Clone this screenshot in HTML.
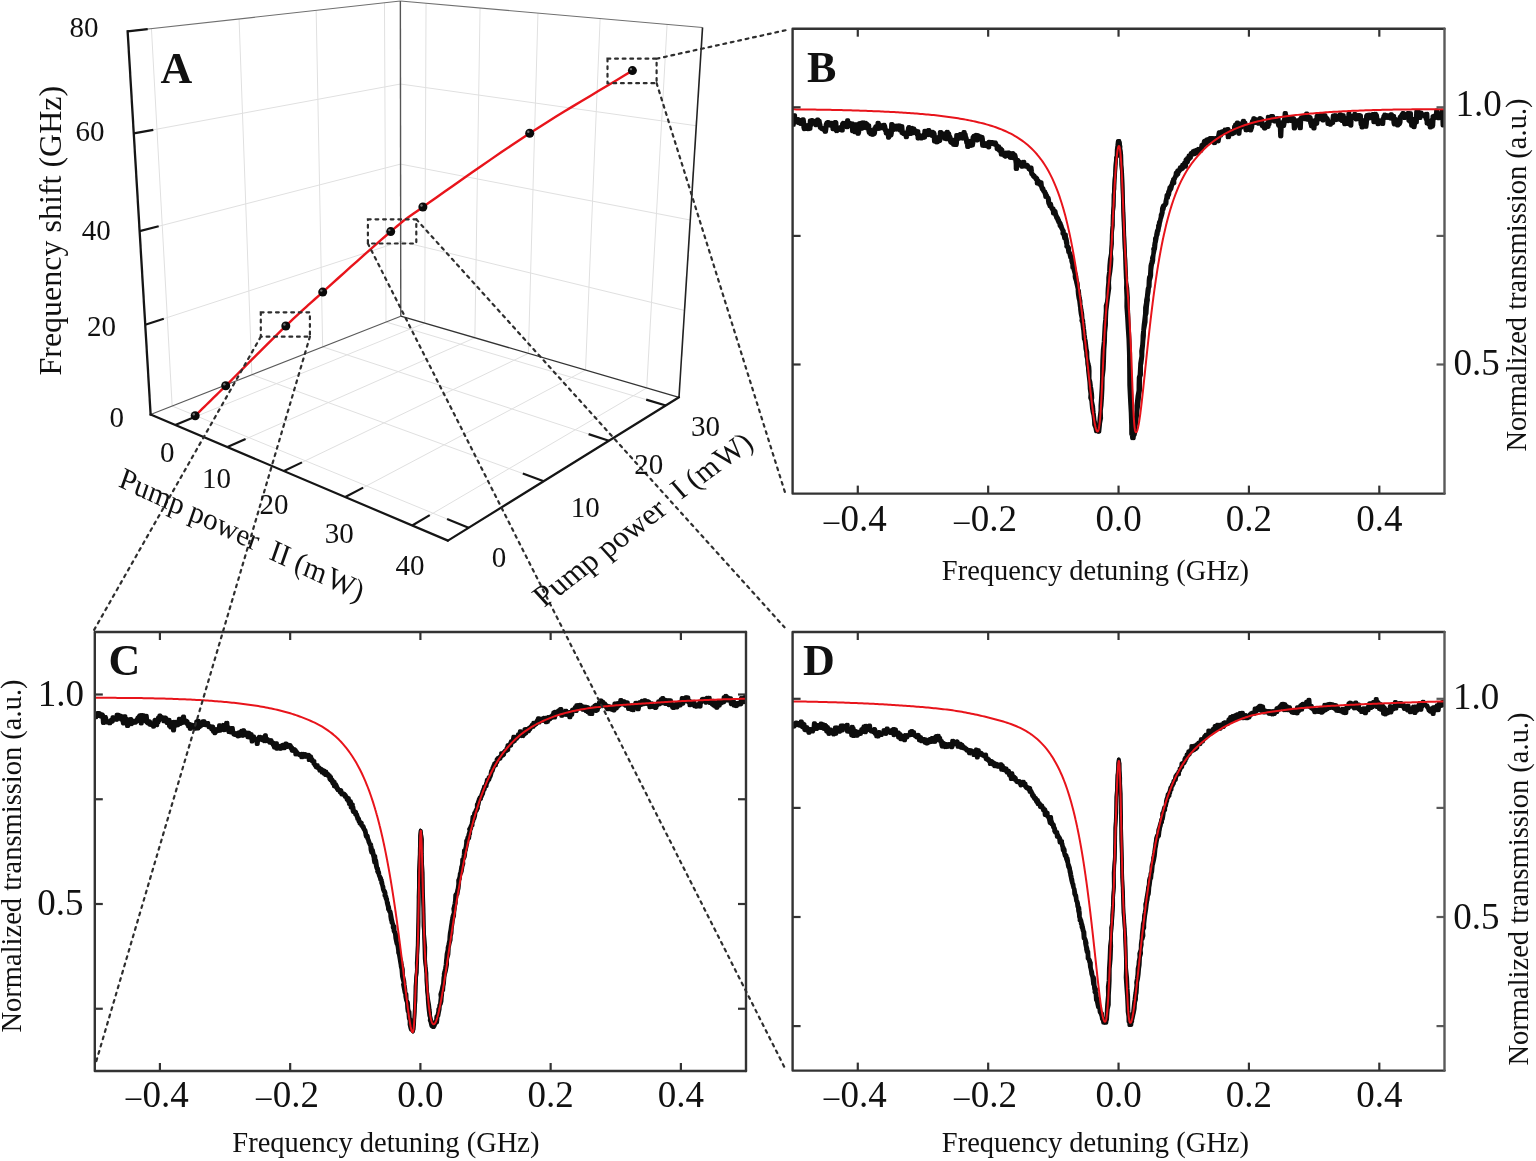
<!DOCTYPE html>
<html><head><meta charset="utf-8"><title>Figure</title>
<style>html,body{margin:0;padding:0;background:#fff;overflow:hidden;}svg{display:block;}</style>
</head><body>
<svg width="1536" height="1161" viewBox="0 0 1536 1161">
<rect width="1536" height="1161" fill="#fff"/>
<g font-family="'Liberation Serif', 'Times New Roman', serif" fill="#111">
<line x1="172.15" y1="406.03" x2="151.45" y2="28.67" stroke="#e0e0e0" stroke-width="1" />
<line x1="251.87" y1="374.69" x2="239.09" y2="18.95" stroke="#e0e0e0" stroke-width="1" />
<line x1="322.67" y1="346.85" x2="316.17" y2="10.4" stroke="#e0e0e0" stroke-width="1" />
<line x1="385.98" y1="321.97" x2="384.48" y2="2.82" stroke="#e0e0e0" stroke-width="1" />
<line x1="145.23" y1="324.75" x2="400.67" y2="241.43" stroke="#e0e0e0" stroke-width="1" />
<line x1="139.62" y1="231.14" x2="400.57" y2="164.1" stroke="#e0e0e0" stroke-width="1" />
<line x1="133.75" y1="133.43" x2="400.46" y2="84.03" stroke="#e0e0e0" stroke-width="1" />
<line x1="424.7" y1="323.13" x2="426.04" y2="3.3" stroke="#e0e0e0" stroke-width="1" />
<line x1="474.87" y1="337.77" x2="480.07" y2="8.02" stroke="#e0e0e0" stroke-width="1" />
<line x1="528.36" y1="353.37" x2="537.96" y2="13.07" stroke="#e0e0e0" stroke-width="1" />
<line x1="585.52" y1="370.03" x2="600.13" y2="18.49" stroke="#e0e0e0" stroke-width="1" />
<line x1="646.73" y1="387.88" x2="667.09" y2="24.33" stroke="#e0e0e0" stroke-width="1" />
<line x1="400.67" y1="241.43" x2="684.52" y2="310.45" stroke="#e0e0e0" stroke-width="1" />
<line x1="400.57" y1="164.1" x2="690.28" y2="220.02" stroke="#e0e0e0" stroke-width="1" />
<line x1="400.46" y1="84.03" x2="696.28" y2="125.76" stroke="#e0e0e0" stroke-width="1" />
<line x1="175.25" y1="424.94" x2="424.7" y2="323.13" stroke="#e0e0e0" stroke-width="1" />
<line x1="227.43" y1="447.08" x2="474.87" y2="337.77" stroke="#e0e0e0" stroke-width="1" />
<line x1="283.93" y1="471.05" x2="528.36" y2="353.37" stroke="#e0e0e0" stroke-width="1" />
<line x1="345.29" y1="497.09" x2="585.52" y2="370.03" stroke="#e0e0e0" stroke-width="1" />
<line x1="412.17" y1="525.46" x2="646.73" y2="387.88" stroke="#e0e0e0" stroke-width="1" />
<line x1="172.15" y1="406.03" x2="468.57" y2="527.82" stroke="#e0e0e0" stroke-width="1" />
<line x1="251.87" y1="374.69" x2="543.76" y2="481.18" stroke="#e0e0e0" stroke-width="1" />
<line x1="322.67" y1="346.85" x2="608.89" y2="440.78" stroke="#e0e0e0" stroke-width="1" />
<line x1="385.98" y1="321.97" x2="665.85" y2="405.45" stroke="#e0e0e0" stroke-width="1" />
<line x1="127.63" y1="31.32" x2="400.36" y2="1.06" stroke="#707070" stroke-width="1.1" />
<line x1="400.36" y1="1.06" x2="702.54" y2="27.43" stroke="#707070" stroke-width="1.1" />
<line x1="400.36" y1="1.06" x2="400.77" y2="316.15" stroke="#555" stroke-width="1.4" />
<line x1="150.62" y1="414.49" x2="400.77" y2="316.15" stroke="#5a5a5a" stroke-width="1.1" />
<line x1="400.77" y1="316.15" x2="678.99" y2="397.29" stroke="#333" stroke-width="1.3" />
<line x1="702.54" y1="27.43" x2="678.99" y2="397.29" stroke="#222" stroke-width="1.6" />
<line x1="127.63" y1="31.32" x2="150.62" y2="414.49" stroke="#151515" stroke-width="2.3" stroke-linecap="square"/>
<line x1="150.62" y1="414.49" x2="447.92" y2="540.63" stroke="#151515" stroke-width="2.2" stroke-linecap="round"/>
<line x1="447.92" y1="540.63" x2="678.99" y2="397.29" stroke="#151515" stroke-width="2.2" stroke-linecap="round"/>
<line x1="145.23" y1="324.75" x2="163.81" y2="318.69" stroke="#151515" stroke-width="2.2" />
<line x1="139.62" y1="231.14" x2="158.67" y2="226.25" stroke="#151515" stroke-width="2.2" />
<line x1="133.75" y1="133.43" x2="153.3" y2="129.81" stroke="#151515" stroke-width="2.2" />
<line x1="127.63" y1="31.32" x2="147.69" y2="29.09" stroke="#151515" stroke-width="2.2" />
<line x1="175.25" y1="424.94" x2="193.38" y2="417.54" stroke="#151515" stroke-width="2.2" />
<line x1="227.43" y1="447.08" x2="245.54" y2="439.08" stroke="#151515" stroke-width="2.2" />
<line x1="283.93" y1="471.05" x2="301.95" y2="462.37" stroke="#151515" stroke-width="2.2" />
<line x1="345.29" y1="497.09" x2="363.14" y2="487.64" stroke="#151515" stroke-width="2.2" />
<line x1="412.17" y1="525.46" x2="429.75" y2="515.15" stroke="#151515" stroke-width="2.2" />
<line x1="468.57" y1="527.82" x2="447.06" y2="518.99" stroke="#151515" stroke-width="2.2" />
<line x1="543.76" y1="481.18" x2="522.84" y2="473.55" stroke="#151515" stroke-width="2.2" />
<line x1="608.89" y1="440.78" x2="588.59" y2="434.12" stroke="#151515" stroke-width="2.2" />
<line x1="665.85" y1="405.45" x2="646.19" y2="399.58" stroke="#151515" stroke-width="2.2" />
<polyline points="195.2,415.7 197.65,413.3 199.94,411.06 202.13,408.93 204.27,406.84 206.41,404.76 208.6,402.62 210.89,400.38 213.34,397.98 215.99,395.38 218.9,392.51 222.12,389.34 225.7,385.8 229.75,381.78 234.27,377.26 239.19,372.35 244.4,367.12 249.82,361.69 255.35,356.15 260.9,350.59 266.39,345.12 271.71,339.83 276.78,334.81 281.51,330.17 285.8,326 289.59,322.35 292.93,319.16 295.93,316.33 298.67,313.77 301.24,311.39 303.76,309.09 306.3,306.8 308.96,304.41 311.83,301.84 315.02,298.99 318.61,295.77 322.7,292.1 327.39,287.88 332.65,283.14 338.35,278 344.39,272.57 350.64,266.96 356.99,261.27 363.33,255.61 369.53,250.09 375.49,244.82 381.08,239.91 386.19,235.47 390.7,231.6 394.4,228.45 397.27,225.99 399.52,224.08 401.32,222.56 402.88,221.29 404.38,220.12 406.01,218.91 407.97,217.51 410.44,215.76 413.63,213.53 417.72,210.65 422.9,207 429.2,202.54 436.43,197.43 444.45,191.77 453.13,185.66 462.32,179.22 471.89,172.53 481.71,165.71 491.64,158.87 501.54,152.1 511.27,145.52 520.71,139.21 529.7,133.3 538.4,127.69 547.05,122.21 555.66,116.85 564.24,111.59 572.78,106.4 581.31,101.26 589.82,96.17 598.32,91.09 606.82,86.02 615.33,80.92 623.85,75.79 632.4,70.6" fill="none" stroke="#e8141b" stroke-width="2.4" stroke-linejoin="round"/>
<circle cx="195.2" cy="415.7" r="4.5" fill="#0a0a0a"/>
<circle cx="193.8" cy="414.2" r="1.2" fill="#777"/>
<circle cx="225.7" cy="385.8" r="4.5" fill="#0a0a0a"/>
<circle cx="224.3" cy="384.3" r="1.2" fill="#777"/>
<circle cx="285.8" cy="326" r="4.5" fill="#0a0a0a"/>
<circle cx="284.4" cy="324.5" r="1.2" fill="#777"/>
<circle cx="322.7" cy="292.1" r="4.5" fill="#0a0a0a"/>
<circle cx="321.3" cy="290.6" r="1.2" fill="#777"/>
<circle cx="390.7" cy="231.6" r="4.5" fill="#0a0a0a"/>
<circle cx="389.3" cy="230.1" r="1.2" fill="#777"/>
<circle cx="422.9" cy="207" r="4.5" fill="#0a0a0a"/>
<circle cx="421.5" cy="205.5" r="1.2" fill="#777"/>
<circle cx="529.7" cy="133.3" r="4.5" fill="#0a0a0a"/>
<circle cx="528.3" cy="131.8" r="1.2" fill="#777"/>
<circle cx="632.4" cy="70.6" r="4.5" fill="#0a0a0a"/>
<circle cx="631" cy="69.1" r="1.2" fill="#777"/>
<rect x="260.8" y="312.3" width="49.1" height="24.4" fill="none" stroke="#2e2e2e" stroke-width="2.2" stroke-dasharray="2.8 4.8" stroke-linecap="round"/>
<rect x="367.9" y="219.3" width="48.4" height="24.2" fill="none" stroke="#2e2e2e" stroke-width="2.2" stroke-dasharray="2.8 4.8" stroke-linecap="round"/>
<rect x="607.5" y="58.7" width="49.1" height="24.5" fill="none" stroke="#2e2e2e" stroke-width="2.2" stroke-dasharray="2.8 4.8" stroke-linecap="round"/>
<clipPath id="clipB"><rect x="792.6" y="28.7" width="651.9" height="464.9"/></clipPath>
<g clip-path="url(#clipB)">
<polyline points="791.84,126 792.36,125.26 792.78,123.11 793.25,121.17 793.74,115.08 794.1,122.62 794.62,118.82 795.1,121.72 795.58,119.64 796,120.91 796.43,121.62 796.94,120.92 797.39,119.03 797.89,123.06 798.34,121.41 798.72,120.76 799.23,122.03 799.64,119.97 800.06,124.12 800.57,121.35 801.04,121.63 801.38,121.65 801.95,119.56 802.34,119.16 802.87,121.57 803.28,127.5 803.73,129.23 804.23,127.76 804.63,125.19 805.16,127.98 805.52,128.54 805.98,128.88 806.42,127.79 806.93,125.19 807.37,129.29 807.85,126.12 808.31,128.38 808.76,124.78 809.22,128.79 809.68,120.52 810.1,123.73 810.53,124.94 810.98,120.62 811.49,120.03 811.9,120.45 812.34,120.62 812.8,123.27 813.27,122.77 813.74,122.49 814.18,122.79 814.61,123.29 815.12,123.46 815.49,125.27 816,122.33 816.5,124.14 816.93,119.34 817.41,120.29 817.83,121.4 818.3,120.6 818.74,123.04 819.18,124.47 819.66,127.73 820.13,127.69 820.5,127.68 820.99,128.82 821.41,127.71 821.9,129.41 822.34,129.23 822.82,129.34 823.28,130.1 823.77,128.89 824.23,129.12 824.63,131.92 825.09,128.87 825.58,124.58 826,123.35 826.46,122.51 826.87,124.84 827.4,121.96 827.84,123.42 828.26,122.4 828.71,122.74 829.17,125.59 829.67,123.31 830.1,125.53 830.53,124.66 831.01,125.12 831.5,122.63 831.97,123.97 832.42,129.32 832.84,125.2 833.3,125.54 833.76,124.25 834.22,125.36 834.68,121.92 835.09,122.49 835.55,130.55 836.02,131.26 836.5,129.18 836.92,129.6 837.37,129.34 837.87,129.67 838.34,127.96 838.73,127.6 839.21,129.95 839.69,127.14 840.11,128.48 840.6,129.06 841,128.41 841.48,130.67 841.96,123.65 842.43,124.3 842.87,122.73 843.27,123.22 843.72,125.41 844.19,125.18 844.69,123.78 845.14,126.31 845.6,124.96 846.05,124.93 846.48,127.44 846.94,120.25 847.38,125.46 847.87,125.49 848.28,124.37 848.77,122.78 849.22,126.02 849.7,125.3 850.11,124.96 850.59,124.93 851.02,124.95 851.51,123.38 851.94,131.47 852.4,127.85 852.84,130.97 853.3,128.43 853.76,130.45 854.21,132.33 854.7,130.15 855.12,124.05 855.59,132.05 856.06,130.71 856.48,130.49 856.91,130.54 857.42,133.89 857.83,132.43 858.3,126.08 858.77,123.18 859.23,126.36 859.68,123.04 860.13,126.15 860.61,123.39 861.05,128.77 861.53,122.43 861.94,127.53 862.41,126.82 862.87,122.33 863.33,125.04 863.78,128 864.23,127.48 864.72,122.62 865.14,124.63 865.6,123.51 866.05,123.79 866.5,124.48 866.97,128.84 867.38,125.88 867.89,125.27 868.3,131.17 868.78,132.94 869.24,133 869.68,130.21 870.14,134.4 870.62,129.97 871.1,131.39 871.53,132.68 871.97,134.9 872.41,131.34 872.86,132.46 873.35,134.25 873.8,133.09 874.26,127.96 874.71,127.83 875.17,126.5 875.59,127.17 876.04,127.69 876.5,126.07 876.97,128.93 877.42,122.73 877.88,124.61 878.31,128.74 878.79,127 879.26,125.17 879.7,126.98 880.1,128.23 880.61,125.41 881.06,127.74 881.54,126.23 881.97,126.28 882.44,126.39 882.87,128.46 883.35,124.64 883.82,125.97 884.24,127.78 884.71,130.46 885.16,129.86 885.63,133.6 886.06,132.65 886.53,132.42 886.93,132.95 887.43,131.06 887.91,137.76 888.36,131.1 888.77,132.07 889.23,130.41 889.72,132.16 890.17,135.51 890.63,132.96 891.07,123.81 891.53,126.45 892.01,130.41 892.41,127.66 892.84,125.32 893.38,128.79 893.77,126.92 894.28,128.63 894.69,129.52 895.12,128.16 895.68,128.01 896.07,126.32 896.48,125.38 896.98,129.6 897.43,127.8 897.89,128.57 898.36,127.38 898.76,125.38 899.25,126.16 899.73,130.68 900.2,127.12 900.63,127.86 901.04,126.13 901.44,133.09 902.05,133.41 902.39,132.45 902.88,134.03 903.35,133.17 903.83,132.62 904.26,134.31 904.68,134.93 905.17,134.23 905.73,137.4 906.21,134.94 906.53,134.93 907.02,133.66 907.36,131.29 907.91,128 908.39,127.11 908.8,128.24 909.36,130.93 909.77,134.13 910.21,132.2 910.5,130.12 911.05,127.76 911.58,129.95 911.97,133.32 912.36,129.08 912.88,128.43 913.44,131.49 913.85,132.86 914.32,132.47 914.74,130.37 915.27,131.29 915.49,131.77 916.03,133.06 916.65,134.73 917.06,131.14 917.47,138.62 917.89,136.03 918.27,137.63 918.8,135.23 919.27,135.59 919.68,137.59 920.26,135.54 920.7,138.53 921.08,136.27 921.6,137.38 922,137.2 922.48,136.88 922.89,137.72 923.5,134.24 923.74,137.62 924.27,130.71 924.79,133.22 925.24,132.52 925.56,131.4 926.05,133.44 926.55,131.62 926.97,133 927.43,135.23 927.91,129.99 928.37,133.77 928.89,134.17 929.2,131.95 929.79,134.45 930.18,134.25 930.68,133.18 931.09,135.81 931.68,131.75 931.92,135.02 932.53,133.66 932.9,132.38 933.37,133.89 933.9,141.71 934.28,140.91 934.79,137.18 935.27,139.4 935.63,137.71 936.2,142.47 936.62,138.1 937.01,141.77 937.48,137.19 937.9,140.74 938.4,140.02 938.88,140.94 939.34,139.22 939.76,131.84 940.18,132.57 940.63,137.38 941.07,135.6 941.56,133.86 942.05,136.86 942.45,134.16 942.91,134.22 943.35,133.47 943.86,137.53 944.29,138.89 944.69,134.02 945.25,136.17 945.7,137.37 946.12,139.34 946.56,131.74 947.03,136.08 947.45,136.97 947.97,133.4 948.43,136.64 948.88,136.31 949.31,137.24 949.76,140.81 950.23,142.56 950.71,140.86 951.1,142.98 951.58,142.26 952.01,141.38 952.46,139.64 952.95,144.95 953.42,144.06 953.83,143.71 954.33,141.08 954.78,141.66 955.23,145.19 955.7,143.62 956.11,134.95 956.61,136.53 957.03,136.72 957.5,136.16 957.91,134.89 958.42,138.73 958.86,137.61 959.3,134.63 959.74,133.9 960.22,135.65 960.7,136.68 961.14,138.22 961.58,136.1 962.02,138.7 962.47,137.05 962.94,135.54 963.37,132.01 963.85,134.85 964.34,134.34 964.77,136.69 965.22,137.56 965.67,139.42 966.15,142.96 966.6,141.01 967.08,147.1 967.48,143.6 967.93,142.63 968.39,142.66 968.83,140.81 969.32,144.26 969.76,143.83 970.21,145.94 970.68,145.13 971.16,144.76 971.61,145.45 972.03,142.84 972.5,136.86 972.97,137.58 973.43,135.6 973.86,137.53 974.28,137.27 974.79,139.01 975.2,137.91 975.67,134.77 976.13,138.11 976.63,140.5 977.03,135.1 977.51,139.76 977.95,138.34 978.39,136.16 978.91,137.53 979.31,138.62 979.8,136.42 980.25,139.2 980.6,139.49 981.05,136.88 981.42,139.1 982.07,145.85 982.53,143.89 982.93,144.93 983.38,145.32 983.85,144.02 984.28,146.01 984.78,145.17 985.24,143.14 985.62,145.59 986.26,146.23 986.69,146.26 987.02,144.17 987.7,145.99 988.18,147.51 988.53,141.74 988.99,143.36 989.28,143.72 989.76,141.9 990.09,143.14 990.66,141.91 991.25,144.14 991.57,142.61 991.9,142.14 992.68,143.12 993.17,143.26 993.58,144.14 993.73,144.49 994.42,142.35 994.7,143.39 995.23,145.15 995.78,145.62 996.34,145.38 996.53,149.27 997.02,147.49 997.36,146.18 997.98,147.65 998.3,148.85 998.82,150.85 999.44,148.33 999.79,151.19 1000.27,151.5 1000.74,154.69 1001.27,149.7 1001.81,154.66 1001.91,152.74 1002.3,154.61 1003.05,153.34 1003.53,154.37 1004.08,156.06 1004.45,155.03 1005.04,156.74 1005.32,152.58 1005.62,152.46 1006.3,153.05 1006.5,152.96 1006.99,153.78 1007.58,156.15 1007.95,152.88 1008.55,152.46 1008.85,155.05 1009.57,157.73 1009.68,157.09 1010.34,157.75 1010.66,157.9 1011.33,155.32 1011.56,156.78 1012.17,153.02 1012.18,156.21 1012.91,158.21 1013.63,155.32 1013.92,154.82 1014.36,156.16 1014.91,158.6 1015.53,163.86 1015.6,169.04 1016.17,164.72 1016.58,160.48 1017.16,159.76 1017.46,163.57 1017.82,165.12 1018.28,161.49 1018.98,163.31 1019.38,163.66 1019.91,164.59 1020.08,164.59 1020.62,165.77 1021.11,166.79 1021.74,162.25 1022.14,163.5 1022.52,165.55 1022.87,161.62 1023.48,162.91 1023.85,164.41 1024.48,166.6 1025.05,165.37 1025.29,166.23 1025.58,164.67 1026.51,166.71 1026.73,164.99 1027.17,167.15 1027.56,167.18 1028.03,167.59 1028.47,169.33 1028.95,169.37 1029.14,167.66 1029.71,170.12 1030.26,167.31 1030.76,171.34 1031.22,174.17 1031.72,174.14 1031.79,174.68 1032.39,174.72 1032.89,176.31 1033.49,175.35 1033.88,177.41 1034.72,176.93 1034.76,177.45 1035.24,178.85 1035.46,179.36 1036.52,178.06 1036.66,183.5 1037.08,181.91 1037.44,180.46 1038.03,182.93 1038.4,182.36 1039.15,183.48 1039.23,184.93 1039.75,183.83 1040.19,182.19 1040.85,186.49 1041.26,187.75 1041.84,189.53 1042.21,188.25 1042.67,189.7 1043.03,191.35 1043.64,191.33 1044.02,192.26 1044.44,193.71 1044.54,193.02 1045.21,196.98 1045.62,194.78 1045.87,196.78 1046.9,197.18 1047.38,197.56 1047.77,199.91 1048.13,203.05 1048.75,204.43 1048.62,204.23 1049.62,203.84 1049.46,206.29 1050.33,204.38 1050.77,207.27 1051.3,208.51 1051.78,209.45 1052.25,208.28 1052.44,208.78 1052.9,213.48 1053.32,211.8 1053.96,211.39 1054.32,211.26 1054.54,213.73 1055.48,216.1 1055.53,215.69 1056.11,218.13 1056.52,218 1056.97,219.32 1057.69,220.98 1057.89,220.44 1058.2,222.32 1058.81,222.62 1059.19,223.44 1059.54,226.09 1060.48,225.51 1060.99,227.73 1060.92,227.91 1061.98,229.93 1062.49,230.65 1062.3,233.77 1063.12,233.85 1063.43,235.13 1064.11,238.23 1063.8,234.33 1064.98,238.91 1065.23,238.4 1065.86,242.89 1066.4,244.8 1066.18,246.46 1067.11,247.48 1067.58,247.67 1068.16,252.15 1068.73,252.06 1069.1,252.99 1069.24,253.63 1070.01,257.01 1070.15,257.67 1070.93,258.47 1071.18,260.97 1071.64,262.8 1072.16,263.49 1072.24,267.69 1072.97,267.12 1073.23,268.98 1074.15,272.58 1074.68,274.45 1074.54,276.5 1074.82,278.2 1075.82,281.06 1076.1,282.88 1076.47,284.31 1077.65,289.6 1077.49,290.53 1077.81,294.28 1078.43,298.3 1079.02,300.62 1079.77,306.67 1079.93,305.44 1080.03,309.4 1080.66,314.15 1081.65,318.84 1081.28,320.51 1082.13,322.65 1082.86,328.82 1083.11,330.05 1083.45,334.25 1083.75,338.83 1084.45,340.59 1084.99,344.25 1085.37,348.85 1086.02,351.9 1086.28,356.37 1086.99,359.15 1087.18,363.77 1087.81,367.02 1087.98,370.86 1088.92,378.7 1089.26,381.68 1089.58,386.5 1089.64,388.72 1090.37,393.98 1090.1,397.89 1091.15,400.58 1091.73,406.48 1091.95,408.77 1092.64,412.78 1093.21,414.62 1093.92,420.3 1093.97,422.77 1094.08,424.79 1094.37,425.51 1095.3,427.78 1095.97,431.28 1096.45,430.53 1096.71,431.33 1097.06,431.2 1097.47,430.93 1098.03,431.8 1098.54,425.1 1099.11,423.49 1099.46,418.15 1100.37,410.59 1100.38,405.54 1100.91,397.67 1101.5,388.28 1101.94,377.85 1102,369.29 1102.22,360.05 1102.75,349.47 1103.61,341.97 1104.12,332.64 1104.52,325.16 1105.08,319.17 1105.65,311.05 1105.62,305.72 1106.86,301.74 1107.34,296.95 1107.35,293.34 1107.58,288.32 1108.14,282.55 1108.2,277.58 1108.99,271.66 1109.25,265.64 1109.87,258.99 1110.97,253.09 1112.01,243.54 1111.75,234.65 1112.49,225.42 1112.77,215.02 1113.71,205.86 1114.04,194.73 1113.87,188.87 1114.45,180.07 1115.21,172.88 1115.45,166.11 1116.16,157.57 1116.53,156.57 1116.71,149.64 1117.35,145.99 1117.98,141.18 1118.31,142.29 1118.8,142.57 1119.31,140.88 1119.67,142.43 1120.46,146.33 1120.3,148.71 1121.17,154.46 1121.39,164.85 1122.07,173.74 1122.63,184.96 1123.04,200.43 1123.5,211.83 1123.98,224.89 1124.38,237.77 1124.64,248.61 1125.33,259.9 1125.85,269.74 1126.28,278.25 1125.89,287.7 1126.34,297.31 1126.25,306.73 1126.98,316.9 1127.59,327.98 1128.34,339.47 1128.84,353.15 1129.04,368.07 1129.18,385.08 1130.03,402.41 1130.61,412.63 1131.01,424.87 1131.11,434.13 1131.49,432.26 1132.05,438.42 1132.47,433.95 1133.3,435 1133.62,434.49 1134.49,431.88 1134.84,426.33 1135.15,422.46 1135.21,418.41 1135.98,416.38 1136.39,410.21 1136.4,405.75 1136.89,400.91 1137.47,395.8 1138.4,390.52 1138.46,384.6 1138.68,377.25 1139.48,374.87 1140.06,364.93 1140.08,363.55 1141.28,356.16 1141.1,351.17 1141.99,345.51 1142.35,340.44 1142.47,335.69 1143.07,330.42 1143.56,324.69 1143.93,321.99 1144.64,315.89 1144.93,313.44 1144.97,307.55 1145.85,302.78 1146.02,299.95 1146.69,297.01 1147.25,291.34 1147.62,288.37 1148.34,286.63 1148.54,280.58 1148.89,277.3 1149.85,275.17 1150.09,270.5 1150.35,266.04 1150.84,263.86 1151.2,263.11 1151.76,260.04 1151.98,257.68 1153.05,254.74 1153.39,249.66 1153.06,249.13 1153.8,247.12 1154.46,242.64 1154.78,242.02 1154.91,238.25 1155.99,236.58 1156.03,234.55 1156.9,230.34 1157.3,231.47 1157.99,226.85 1157.92,225.67 1158.96,223.26 1158.75,222.4 1159.8,220.5 1160.16,218.21 1160.48,217.98 1160.61,214.97 1161.64,212.49 1161.92,208.03 1161.85,209.32 1162.11,207.71 1162.98,205.49 1163.39,205.06 1164.17,205.23 1164.51,204.31 1165,203.87 1165.28,201.64 1166.04,198.18 1166.18,197.97 1166.45,194.82 1166.72,195.98 1167.77,194.32 1168,192 1168.23,191.41 1168.85,190.1 1169.41,187.14 1170.08,188.32 1169.98,189.33 1170.77,185.58 1171.45,184.81 1171.85,182.73 1172.37,181.12 1173.05,183.17 1172.96,179.16 1173.47,179.13 1174.24,177.6 1174.8,177.56 1175.01,175.91 1175.34,175.83 1175.65,172.73 1176.43,173.32 1176.83,174.31 1177.03,170.58 1177.59,170.26 1177.96,172.03 1178.69,170.11 1179.02,170.23 1179.72,167.44 1180.19,169.77 1180.47,167.36 1181.07,166.59 1181.5,168.27 1182.03,168.66 1182.15,164.68 1182.79,164.61 1183.45,163.98 1183.71,164.78 1183.99,162.69 1184.55,166.81 1185.33,164.15 1185.36,160 1185.78,159.27 1186.47,162.48 1186.73,161.88 1187,157.8 1187.45,158.42 1188.15,159.15 1188.51,155.45 1189.28,155.79 1189.42,157.91 1189.75,154.75 1190.3,154.61 1190.69,152.92 1191.51,153.23 1191.67,154.68 1192.47,152.22 1192.78,151.12 1193.46,151.57 1193.59,154.32 1194.19,151.76 1194.21,150.33 1194.9,150.86 1195.32,153.55 1196.05,152.71 1196.32,149.71 1196.89,152.15 1197.14,151.07 1197.52,152.12 1198.15,148.76 1198.8,151.66 1199.06,149.19 1199.74,149.39 1199.93,150.97 1200.38,148.09 1200.84,148.96 1201.31,144.87 1201.7,146.25 1202.22,145.92 1202.6,145.58 1203.02,144.69 1203.82,141.1 1204.19,140.67 1204.49,142.96 1204.9,141.02 1205.23,143.7 1205.97,141.95 1206.26,139.41 1207.04,139.62 1207.04,139.18 1207.75,139.22 1208.32,139.88 1208.55,140.85 1209.32,141.49 1209.65,137.91 1210.11,138.2 1210.34,140.95 1211.02,139.72 1211.47,139.46 1211.82,137.97 1212.47,139.64 1212.75,141.07 1212.91,139.74 1213.66,143.22 1214.28,140.23 1214.46,140.26 1215.07,138.02 1215.37,137.86 1215.9,138.17 1216.05,137.99 1216.61,138.34 1217.23,141.49 1217.65,138.57 1217.97,135.79 1218.7,132.09 1219.12,134.16 1219.44,133.97 1219.77,135.72 1220.51,132.83 1220.85,133.41 1221.43,131.49 1221.93,133.11 1222.23,132.85 1222.69,131.11 1223.25,131.17 1223.6,131.56 1223.88,132.26 1224.6,129.47 1225.02,132.3 1225.39,130.27 1225.95,133.4 1226.31,132.54 1226.77,129.54 1227.34,129 1227.58,137.45 1228.01,134.52 1228.61,134.26 1228.95,132.49 1229.62,132.87 1229.92,134.13 1230.28,133.69 1230.86,131.32 1231.15,134.34 1231.93,132.75 1232.26,130.67 1232.78,133.51 1233.22,131.57 1233.65,132.9 1233.99,126.38 1234.6,127.64 1234.97,124.4 1235.38,127.34 1235.74,128.7 1236.46,126.71 1236.79,122.35 1237.23,126.06 1237.57,127.15 1238.25,133.88 1238.62,127.61 1239.16,123.9 1239.54,127.92 1239.93,127.85 1240.49,123.29 1240.79,123.79 1241.25,124.01 1241.81,125.1 1242.32,123.4 1242.81,120.61 1243.17,125.36 1243.63,123.89 1244.11,122.55 1244.53,125.57 1244.97,128.15 1245.49,130.43 1245.88,129.36 1246.35,127.89 1246.9,130.2 1247.29,129.51 1247.7,127.31 1248.23,125.43 1248.63,127.06 1249.14,128.85 1249.5,127.38 1249.96,130.55 1250.38,128.03 1250.98,127.84 1251.45,123.09 1251.89,120.89 1252.3,122.04 1252.75,121.06 1253.18,118.2 1253.68,119.04 1254.09,123.09 1254.5,121.06 1255.06,121.5 1255.51,119.18 1255.95,120.56 1256.37,122.75 1256.81,121.53 1257.29,120.43 1257.75,123.75 1258.14,121.04 1258.63,120.48 1259.05,122.89 1259.61,118.02 1259.95,121.75 1260.41,118.9 1260.88,119.37 1261.38,124.86 1261.79,126.17 1262.36,126.09 1262.77,126.37 1263.1,126.17 1263.66,128.14 1264.12,128.59 1264.51,126.89 1265.01,126.93 1265.47,124.97 1265.9,123.7 1266.38,126.54 1266.85,125.56 1267.27,126.93 1267.74,116.65 1268.16,124.3 1268.68,117.49 1269.09,119.68 1269.6,121.27 1270.08,117.14 1270.52,118.52 1270.92,115.95 1271.4,116.92 1271.83,116 1272.31,119.49 1272.73,119.78 1273.18,118.68 1273.66,121.38 1274.1,121.56 1274.6,119.1 1275.04,118.7 1275.49,118.57 1275.93,118.22 1276.39,121.26 1276.86,119.36 1277.3,118.33 1277.75,124.48 1278.24,125.82 1278.67,124.15 1279.11,125.38 1279.57,124.75 1280.05,136.5 1280.48,126.82 1280.93,122.27 1281.41,124.47 1281.87,125.99 1282.32,123.93 1282.75,126.14 1283.22,124.14 1283.66,119.6 1284.13,118.42 1284.56,112.89 1285.03,119.42 1285.5,115.87 1285.95,116.83 1286.37,116.63 1286.86,121.4 1287.31,118.94 1287.76,119.04 1288.22,118.67 1288.67,117.43 1289.14,117.01 1289.58,119.83 1290.02,117.64 1290.48,121.1 1290.96,118.62 1291.41,118.42 1291.86,117.86 1292.3,118.1 1292.77,118.28 1293.23,120.92 1293.68,128.6 1294.14,122.38 1294.6,124.88 1295.05,125.67 1295.5,122.8 1295.96,123.26 1296.39,123.57 1296.86,120.09 1297.32,125.51 1297.79,124.26 1298.23,124.17 1298.69,124.47 1299.14,124.75 1299.58,128.41 1300.05,118.36 1300.5,119.51 1300.95,117.09 1301.4,118.63 1301.87,117.43 1302.31,117.71 1302.78,116.37 1303.22,116.51 1303.69,118.75 1304.13,119.26 1304.6,118.74 1305.03,116.72 1305.52,118.46 1305.96,113.4 1306.44,119.54 1306.85,117.8 1307.3,118.33 1307.79,119.9 1308.25,117.08 1308.67,119.51 1309.15,117.03 1309.61,118.75 1310.07,123.2 1310.51,124.43 1310.94,126.42 1311.39,122.7 1311.91,122.75 1312.33,123.22 1312.8,124.3 1313.23,128.57 1313.69,122.71 1314.14,120.13 1314.59,122.54 1315.05,120.89 1315.49,122.67 1315.96,123.66 1316.44,115.85 1316.88,116.31 1317.32,114.21 1317.81,117.78 1318.26,116.13 1318.7,119.33 1319.13,119.25 1319.63,115.86 1320.08,116.72 1320.51,117.44 1320.99,118.66 1321.41,114.37 1321.88,117.16 1322.33,120.55 1322.79,117.1 1323.24,117.62 1323.72,117.22 1324.15,115.1 1324.62,118.85 1325.07,117.64 1325.52,117.43 1325.96,118.41 1326.43,118.49 1326.91,119.9 1327.35,124.07 1327.78,122.18 1328.25,123.47 1328.69,121.92 1329.15,121.63 1329.61,124.82 1330.05,123.12 1330.53,122.62 1330.99,122.6 1331.44,123.23 1331.88,123.05 1332.35,118.89 1332.79,115.34 1333.27,116.45 1333.74,118.17 1334.13,119.24 1334.62,115.17 1335.08,120.23 1335.53,116.96 1335.98,117.65 1336.42,115.83 1336.89,115.69 1337.34,119.28 1337.8,116.35 1338.26,116.54 1338.71,118.75 1339.19,119.74 1339.61,114.03 1340.07,116.34 1340.52,116.64 1340.99,119.85 1341.46,120.99 1341.9,116.53 1342.34,115.16 1342.79,118.13 1343.27,118.62 1343.71,122.23 1344.18,124.31 1344.62,121.54 1345.08,118.03 1345.54,120.32 1345.98,123.13 1346.46,124.13 1346.89,118.73 1347.36,119.53 1347.82,122.67 1348.29,113.51 1348.73,123.7 1349.18,124.53 1349.63,117.4 1350.09,125.73 1350.54,116.08 1351.01,118.93 1351.44,116.9 1351.91,115.97 1352.39,116.6 1352.81,118.04 1353.26,116.7 1353.72,116.43 1354.18,113.78 1354.65,117.2 1355.09,116.39 1355.56,119.59 1355.99,116.29 1356.46,116.15 1356.91,115.18 1357.36,117.58 1357.82,115.92 1358.27,115.02 1358.73,119.11 1359.17,119.42 1359.63,115.44 1360.1,120.72 1360.55,124.55 1361,121.05 1361.48,127.56 1361.92,122.28 1362.37,124.24 1362.82,120.2 1363.28,122.44 1363.74,124.45 1364.19,123.28 1364.65,121.53 1365.1,126.87 1365.56,123.8 1366,115.72 1366.46,115.04 1366.93,115.63 1367.38,118.52 1367.83,114.72 1368.29,116.15 1368.74,114.62 1369.19,118.33 1369.65,115.78 1370.11,117.61 1370.56,117.07 1371.01,115.01 1371.46,117.3 1371.92,117.72 1372.37,113.97 1372.83,117.29 1373.29,122.41 1373.74,115.48 1374.19,117.16 1374.65,113.6 1375.11,116.82 1375.56,114.93 1376.02,117.37 1376.47,122.31 1376.93,120.27 1377.38,124.38 1377.84,122 1378.3,120.56 1378.75,122.51 1379.2,120.64 1379.66,123.1 1380.11,122.27 1380.56,122.66 1381.02,123.59 1381.48,120.07 1381.93,124.14 1382.39,118.75 1382.84,118.83 1383.29,116.25 1383.75,115.44 1384.2,114.58 1384.66,116.91 1385.11,115.62 1385.57,115.59 1386.03,117.78 1386.48,115.12 1386.93,115.47 1387.39,116.68 1387.85,117.85 1388.3,115.62 1388.75,116.18 1389.21,115.98 1389.67,117.24 1390.12,118.6 1390.57,114.19 1391.03,115.65 1391.48,115.8 1391.94,116.96 1392.39,118.61 1392.85,115.85 1393.3,122.77 1393.76,124.44 1394.21,120.12 1394.67,120.98 1395.12,119.07 1395.58,122.36 1396.03,122.79 1396.49,121.43 1396.94,125.56 1397.4,121.09 1397.85,122 1398.31,124.35 1398.76,123.77 1399.22,122.34 1399.67,116.58 1400.13,117.39 1400.58,115.88 1401.04,117.08 1401.49,114.23 1401.95,116.03 1402.4,112.91 1402.86,114.28 1403.31,113.82 1403.77,118.18 1404.22,115.06 1404.68,116.45 1405.13,114.22 1405.59,115.54 1406.04,115.4 1406.49,114.35 1406.95,115.91 1407.41,112.89 1407.86,117.05 1408.32,120.75 1408.77,114.42 1409.22,115.97 1409.68,113.08 1410.13,122.3 1410.59,119.18 1411.05,125.95 1411.5,121.44 1411.96,118.97 1412.41,119.97 1412.87,119.44 1413.32,127.31 1413.78,123.87 1414.23,121.59 1414.69,120.17 1415.14,120.79 1415.6,122.52 1416.05,111.47 1416.51,116.96 1416.95,116.63 1417.42,111.42 1417.88,118.05 1418.32,112.91 1418.77,115.5 1419.23,118.04 1419.68,112.91 1420.14,112.53 1420.6,113.86 1421.05,113.92 1421.51,115.65 1421.97,114.94 1422.42,115 1422.87,115.03 1423.33,115.58 1423.78,114.36 1424.24,116.52 1424.69,115.92 1425.15,114.91 1425.6,119.26 1426.06,113.63 1426.51,123.67 1426.97,120.98 1427.42,123 1427.88,123.3 1428.33,123.93 1428.79,124.95 1429.25,120.84 1429.7,127.59 1430.14,123.13 1430.61,120.92 1431.06,119.94 1431.52,126.69 1431.97,125.43 1432.43,116.06 1432.89,117.49 1433.34,118.51 1433.8,116.3 1434.24,115.36 1434.7,116.08 1435.16,117.68 1435.62,116.2 1436.06,110.46 1436.52,117.56 1436.98,113.05 1437.43,114.83 1437.88,118.46 1438.33,116.65 1438.8,116.65 1439.24,116.53 1439.71,118.12 1440.16,116.16 1440.61,112.71 1441.07,116.71 1441.51,110.7 1441.98,112.56 1442.43,125.49 1442.89,124.51 1443.35,121.79 1443.8,122.5" fill="none" stroke="#0d0d0d" stroke-width="3.8" stroke-linejoin="round"/>
<polyline points="793.32,126 793.73,125.26 794.16,123.11 794.62,121.17 795.15,115.08 795.54,122.62 796.02,118.82 796.5,121.72 796.93,119.64 797.36,120.91 797.78,121.62 798.34,120.92 798.74,119.03 799.16,123.06 799.65,121.41 800.13,120.76 800.51,122.03 801.04,119.97 801.49,124.12 801.96,121.35 802.4,121.63 802.82,121.65 803.25,119.56 803.76,119.16 804.2,121.57 804.72,127.5 805.12,129.23 805.6,127.76 806.04,125.19 806.44,127.98 806.97,128.54 807.39,128.88 807.81,127.79 808.32,125.19 808.81,129.29 809.22,126.12 809.67,128.38 810.11,124.78 810.57,128.79 811.08,120.52 811.5,123.73 811.96,124.94 812.42,120.62 812.77,120.03 813.32,120.45 813.79,120.62 814.23,123.27 814.64,122.77 815.11,122.49 815.61,122.79 816.06,123.29 816.51,123.46 816.92,125.27 817.42,122.33 817.91,124.14 818.32,119.34 818.81,120.29 819.26,121.4 819.71,120.6 820.12,123.04 820.58,124.47 821.03,127.73 821.54,127.69 822,127.68 822.38,128.82 822.83,127.71 823.33,129.41 823.82,129.23 824.24,129.34 824.71,130.1 825.16,128.89 825.61,129.12 826.05,131.92 826.52,128.87 826.98,124.58 827.42,123.35 827.92,122.51 828.3,124.84 828.77,121.96 829.21,123.42 829.72,122.4 830.18,122.74 830.58,125.59 831.06,123.31 831.5,125.53 831.93,124.66 832.4,125.12 832.89,122.63 833.35,123.97 833.77,129.32 834.24,125.2 834.72,125.54 835.19,124.25 835.62,125.36 836.04,121.92 836.48,122.49 836.97,130.55 837.42,131.26 837.87,129.18 838.32,129.6 838.78,129.34 839.25,129.67 839.72,127.96 840.14,127.6 840.66,129.95 841.1,127.14 841.51,128.48 841.98,129.06 842.47,128.41 842.86,130.67 843.33,123.65 843.78,124.3 844.23,122.73 844.72,123.22 845.16,125.41 845.62,125.18 846.07,123.78 846.52,126.31 847.01,124.96 847.43,124.93 847.87,127.44 848.32,120.25 848.79,125.46 849.26,125.49 849.71,124.37 850.17,122.78 850.61,126.02 851.08,125.3 851.54,124.96 851.96,124.93 852.45,124.95 852.9,123.38 853.34,131.47 853.82,127.85 854.26,130.97 854.7,128.43 855.19,130.45 855.66,132.33 856.06,130.15 856.53,124.05 857,132.05 857.45,130.71 857.92,130.49 858.38,130.54 858.78,133.89 859.27,132.43 859.69,126.08 860.16,123.18 860.61,126.36 861.09,123.04 861.51,126.15 861.99,123.39 862.42,128.77 862.94,122.43 863.35,127.53 863.81,126.82 864.25,122.33 864.71,125.04 865.2,128 865.64,127.48 866.07,122.62 866.53,124.63 866.99,123.51 867.48,123.79 867.9,124.48 868.37,128.84 868.83,125.88 869.31,125.27 869.74,131.17 870.16,132.94 870.62,133 871.12,130.21 871.55,134.4 871.97,129.97 872.45,131.39 872.9,132.68 873.36,134.9 873.83,131.34 874.29,132.46 874.75,134.25 875.15,133.09 875.65,127.96 876.09,127.83 876.53,126.5 877.02,127.17 877.44,127.69 877.89,126.07 878.4,128.93 878.83,122.73 879.3,124.61 879.76,128.74 880.16,127 880.67,125.17 881.1,126.98 881.57,128.23 882.03,125.41 882.48,127.74 882.91,126.23 883.37,126.28 883.83,126.39 884.31,128.46 884.69,124.64 885.23,125.97 885.63,127.78 886.15,130.46 886.57,129.86 887.06,133.6 887.46,132.65 887.97,132.42 888.39,132.95 888.84,131.06 889.3,137.76 889.68,131.1 890.16,132.07 890.61,130.41 891.11,132.16 891.56,135.51 892.04,132.96 892.48,123.81 892.97,126.45 893.36,130.41 893.85,127.66 894.28,125.32 894.71,128.79 895.14,126.92 895.65,128.63 896.08,129.52 896.55,128.16 896.99,128.01 897.43,126.32 898.04,125.38 898.39,129.6 898.79,127.8 899.29,128.57 899.75,127.38 900.14,125.38 900.71,126.16 901.08,130.68 901.59,127.12 902,127.86 902.44,126.13 903.08,133.09 903.36,133.41 903.77,132.45 904.27,134.03 904.71,133.17 905.26,132.62 905.68,134.31 906.06,134.93 906.66,134.23 907.02,137.4 907.42,134.94 907.99,134.93 908.43,133.66 908.8,131.29 909.24,128 909.75,127.11 910.18,128.24 910.69,130.93 911.14,134.13 911.51,132.2 911.97,130.12 912.47,127.76 913.01,129.95 913.36,133.32 913.88,129.08 914.27,128.43 914.78,131.49 915.19,132.86 915.69,132.47 916.08,130.37 916.54,131.29 917.14,131.77 917.54,133.06 917.88,134.73 918.46,131.14 918.85,138.62 919.38,136.03 919.69,137.63 920.21,135.23 920.65,135.59 921.09,137.59 921.52,135.54 922.14,138.53 922.49,136.27 922.93,137.38 923.31,137.2 923.92,136.88 924.37,137.72 924.76,134.24 925.15,137.62 925.71,130.71 926.13,133.22 926.51,132.52 927.16,131.4 927.54,133.44 927.9,131.62 928.37,133 928.91,135.23 929.38,129.99 929.81,133.77 930.26,134.17 930.66,131.95 931.25,134.45 931.58,134.25 932.06,133.18 932.52,135.81 932.95,131.75 933.45,135.02 933.95,133.66 934.21,132.38 934.77,133.89 935.3,141.71 935.76,140.91 936.12,137.18 936.63,139.4 937.06,137.71 937.52,142.47 937.94,138.1 938.47,141.77 938.93,137.19 939.4,140.74 939.8,140.02 940.25,140.94 940.74,139.22 941.3,131.84 941.59,132.57 942.06,137.38 942.59,135.6 942.92,133.86 943.32,136.86 943.92,134.16 944.39,134.22 944.84,133.47 945.28,137.53 945.74,138.89 946.13,134.02 946.65,136.17 947.03,137.37 947.46,139.34 947.97,131.74 948.39,136.08 948.85,136.97 949.32,133.4 949.78,136.64 950.25,136.31 950.67,137.24 951.14,140.81 951.61,142.56 952.07,140.86 952.54,142.98 953,142.26 953.44,141.38 953.9,139.64 954.36,144.95 954.8,144.06 955.26,143.71 955.69,141.08 956.17,141.66 956.64,145.19 957.06,143.62 957.55,134.95 957.97,136.53 958.46,136.72 958.93,136.16 959.35,134.89 959.79,138.73 960.27,137.61 960.7,134.63 961.15,133.9 961.64,135.65 962.04,136.68 962.55,138.22 962.97,136.1 963.46,138.7 963.88,137.05 964.39,135.54 964.79,132.01 965.21,134.85 965.78,134.34 966.17,136.69 966.62,137.56 967.08,139.42 967.53,142.96 968,141.01 968.43,147.1 968.95,143.6 969.34,142.63 969.82,142.66 970.3,140.81 970.71,144.26 971.2,143.83 971.61,145.94 972.06,145.13 972.52,144.76 973.02,145.45 973.48,142.84 973.88,136.86 974.39,137.58 974.79,135.6 975.27,137.53 975.75,137.27 976.11,139.01 976.65,137.91 977.08,134.77 977.49,138.11 978.02,140.5 978.46,135.1 978.92,139.76 979.35,138.34 979.79,136.16 980.22,137.53 980.72,138.62 981.13,136.42 981.61,139.2 982.11,139.49 982.59,136.88 983.03,139.1 983.47,145.85 983.89,143.89 984.43,144.93 984.9,145.32 985.24,144.02 985.7,146.01 986.11,145.17 986.62,143.14 987.06,145.59 987.71,146.23 988.12,146.26 988.34,144.17 988.98,145.99 989.35,147.51 989.67,141.74 990.3,143.36 990.67,143.72 991.22,141.9 991.69,143.14 992.04,141.91 992.7,144.14 993.02,142.61 993.38,142.14 993.75,143.12 994.6,143.26 994.75,144.14 995.29,144.49 995.77,142.35 996.29,143.39 996.49,145.15 996.81,145.62 997.57,145.38 997.82,149.27 998.43,147.49 999.19,146.18 999.29,147.65 999.92,148.85 1000.13,150.85 1001.15,148.33 1001.14,151.19 1001.7,151.5 1002.08,154.69 1002.47,149.7 1003.16,154.66 1003.43,152.74 1003.79,154.61 1004.3,153.34 1004.79,154.37 1005.3,156.06 1005.76,155.03 1006.08,156.74 1006.58,152.58 1007.38,152.46 1007.52,153.05 1008.19,152.96 1008.41,153.78 1008.97,156.15 1009.3,152.88 1009.59,152.46 1010.22,155.05 1010.85,157.73 1011.35,157.09 1011.78,157.75 1012.04,157.9 1012.52,155.32 1012.88,156.78 1013.5,153.02 1014.02,156.21 1014.4,158.21 1014.75,155.32 1015.33,154.82 1015.75,156.16 1016.25,158.6 1016.63,163.86 1017.13,169.04 1017.48,164.72 1017.92,160.48 1018.19,159.76 1018.95,163.57 1019.4,165.12 1019.73,161.49 1020.47,163.31 1020.89,163.66 1021.4,164.59 1021.65,164.59 1022.08,165.77 1022.61,166.79 1023.14,162.25 1023.67,163.5 1023.82,165.55 1024.37,161.62 1024.59,162.91 1025.27,164.41 1025.87,166.6 1026.3,165.37 1026.98,166.23 1027.21,164.67 1027.52,166.71 1027.92,164.99 1028.52,167.15 1029.18,167.18 1029.21,167.59 1029.71,169.33 1030.32,169.37 1030.71,167.66 1031.36,170.12 1031.59,167.31 1032.13,171.34 1032.58,174.17 1033.07,174.14 1033.72,174.68 1033.72,174.72 1034.1,176.31 1034.59,175.35 1035.26,177.41 1035.78,176.93 1036.31,177.45 1036.73,178.85 1037.15,179.36 1037.26,178.06 1037.92,183.5 1038.57,181.91 1038.72,180.46 1039.31,182.93 1039.78,182.36 1040.4,183.48 1040.6,184.93 1040.91,183.83 1041.61,182.19 1042.08,186.49 1042.74,187.75 1042.93,189.53 1043.45,188.25 1043.85,189.7 1044.31,191.35 1045.25,191.33 1044.84,192.26 1045.88,193.71 1046.08,193.02 1046.69,196.98 1046.85,194.78 1047.63,196.78 1047.89,197.18 1048.6,197.56 1049.21,199.91 1049.17,203.05 1049.56,204.43 1050.53,204.23 1051.14,203.84 1051.23,206.29 1051.29,204.38 1051.84,207.27 1052.77,208.51 1053.38,209.45 1053.48,208.28 1053.7,208.78 1054.63,213.48 1054.61,211.8 1055.19,211.39 1055.65,211.26 1056.11,213.73 1056.79,216.1 1056.95,215.69 1057.63,218.13 1058.27,218 1058.72,219.32 1059.23,220.98 1059.34,220.44 1059.53,222.32 1060.36,222.62 1060.83,223.44 1061.29,226.09 1061.61,225.51 1062.24,227.73 1062.39,227.91 1063.22,229.93 1063.87,230.65 1063.99,233.77 1064.43,233.85 1065.01,235.13 1065.45,238.23 1065.91,234.33 1066.28,238.91 1066.64,238.4 1067.48,242.89 1067.36,244.8 1068.3,246.46 1068.34,247.48 1069.07,247.67 1069.22,252.15 1069.55,252.06 1070.11,252.99 1070.58,253.63 1071.53,257.01 1071.57,257.67 1072,258.47 1072.4,260.97 1073.06,262.8 1073.51,263.49 1074.1,267.69 1074.27,267.12 1074.62,268.98 1075.32,272.58 1075.98,274.45 1076.41,276.5 1076.48,278.2 1077.04,281.06 1077.69,282.88 1077.93,284.31 1078.2,289.6 1079.02,290.53 1079.35,294.28 1079.95,298.3 1080.54,300.62 1080.68,306.67 1080.99,305.44 1081.53,309.4 1082.34,314.15 1082.64,318.84 1083.25,320.51 1083.44,322.65 1084.15,328.82 1084.32,330.05 1084.74,334.25 1085.34,338.83 1085.77,340.59 1086.2,344.25 1086.72,348.85 1087.39,351.9 1087.46,356.37 1087.66,359.15 1088.63,363.77 1089.43,367.02 1089.69,370.86 1089.61,378.7 1090.46,381.68 1091.07,386.5 1091.47,388.72 1092.15,393.98 1092.37,397.89 1091.97,400.58 1093.22,406.48 1093.36,408.77 1093.78,412.78 1094.05,414.62 1094.61,420.3 1095.27,422.77 1096.06,424.79 1096.52,425.51 1096.86,427.78 1097.43,431.28 1097.56,430.53 1097.98,431.33 1098.8,431.2 1099.09,430.93 1099.37,431.8 1100.08,425.1 1100.18,423.49 1101.19,418.15 1100.95,410.59 1101.59,405.54 1102.13,397.67 1102.59,388.28 1102.78,377.85 1103.76,369.29 1104.15,360.05 1104.47,349.47 1105.05,341.97 1105.25,332.64 1106.06,325.16 1106.14,319.17 1106.47,311.05 1107.14,305.72 1107.59,301.74 1108.18,296.95 1108.71,293.34 1109.41,288.32 1109.14,282.55 1109.53,277.58 1110.44,271.66 1111.14,265.64 1111.53,258.99 1111.01,253.09 1111.44,243.54 1111.88,234.65 1112.84,225.42 1112.81,215.02 1113.4,205.86 1113.47,194.73 1114.45,188.87 1114.65,180.07 1115.07,172.88 1115.52,166.11 1116.02,157.57 1117.15,156.57 1117.1,149.64 1117.57,145.99 1117.7,141.18 1118.03,142.29 1118.5,142.57 1119.13,140.88 1119.73,142.43 1120.2,146.33 1120.25,148.71 1121.21,154.46 1121.37,164.85 1122.24,173.74 1122.36,184.96 1122.89,200.43 1123.15,211.83 1123.62,224.89 1124.25,237.77 1124.84,248.61 1125.33,259.9 1125.43,269.74 1125.76,278.25 1127.32,287.7 1127.98,297.31 1128.01,306.73 1128.48,316.9 1128.93,327.98 1129.57,339.47 1130.18,353.15 1130.17,368.07 1130.96,385.08 1131.67,402.41 1131.91,412.63 1132.04,424.87 1132.34,434.13 1133.14,432.26 1133.79,438.42 1134.17,433.95 1134.79,435 1134.87,434.49 1135.42,431.88 1135.68,426.33 1136.45,422.46 1136.73,418.41 1137.05,416.38 1137.59,410.21 1138.27,405.75 1138.8,400.91 1139.24,395.8 1140.06,390.52 1140.14,384.6 1140.2,377.25 1141.13,374.87 1141.13,364.93 1141.52,363.55 1142.41,356.16 1142.56,351.17 1143.15,345.51 1143.49,340.44 1144.02,335.69 1144.11,330.42 1145.18,324.69 1145.71,321.99 1145.83,315.89 1146.63,313.44 1146.99,307.55 1147.53,302.78 1148.05,299.95 1147.87,297.01 1148.8,291.34 1149.03,288.37 1149.7,286.63 1149.92,280.58 1150.91,277.3 1151.27,275.17 1151.34,270.5 1151.9,266.04 1152.31,263.86 1152.77,263.11 1153.37,260.04 1153.4,257.68 1153.76,254.74 1154.78,249.66 1155.06,249.13 1155.34,247.12 1155.74,242.64 1156.02,242.02 1156.74,238.25 1156.88,236.58 1157.74,234.55 1158.23,230.34 1158.47,231.47 1159.3,226.85 1159.69,225.67 1160.03,223.26 1160.28,222.4 1160.75,220.5 1161.14,218.21 1161.38,217.98 1162.25,214.97 1162.86,212.49 1162.84,208.03 1163.69,209.32 1164.02,207.71 1164.55,205.49 1165.13,205.06 1165.62,205.23 1165.75,204.31 1166.49,203.87 1166.71,201.64 1166.73,198.18 1168.12,197.97 1168.17,194.82 1168.55,195.98 1169.34,194.32 1169.61,192 1169.87,191.41 1170.47,190.1 1170.95,187.14 1171.3,188.32 1171.33,189.33 1172.28,185.58 1172.52,184.81 1172.96,182.73 1173.62,181.12 1174.48,183.17 1174.3,179.16 1175.04,179.13 1175.16,177.6 1175.59,177.56 1176.28,175.91 1176.97,175.83 1177.31,172.73 1177.76,173.32 1178.38,174.31 1178.71,170.58 1178.97,170.26 1179.36,172.03 1179.93,170.11 1180.5,170.23 1180.84,167.44 1181.31,169.77 1181.71,167.36 1182.12,166.59 1182.51,168.27 1183.03,168.66 1183.92,164.68 1184.25,164.61 1184.76,163.98 1185.01,164.78 1185.42,162.69 1186.03,166.81 1186.29,164.15 1186.99,160 1187.28,159.27 1187.84,162.48 1188.05,161.88 1188.91,157.8 1189.11,158.42 1189.64,159.15 1189.88,155.45 1190.34,155.79 1191.01,157.91 1191.1,154.75 1192,154.61 1192.18,152.92 1192.87,153.23 1193.08,154.68 1193.62,152.22 1194.1,151.12 1194.68,151.57 1194.87,154.32 1195.53,151.76 1195.95,150.33 1196.47,150.86 1196.69,153.55 1197.27,152.71 1197.62,149.71 1198.13,152.15 1198.79,151.07 1199.26,152.12 1199.41,148.76 1199.98,151.66 1200.44,149.19 1200.78,149.39 1201.31,150.97 1201.67,148.09 1202.35,148.96 1202.6,144.87 1203.37,146.25 1203.38,145.92 1204.17,145.58 1204.63,144.69 1204.92,141.1 1205.24,140.67 1205.93,142.96 1206.21,141.02 1206.96,143.7 1207.29,141.95 1207.73,139.41 1208.2,139.62 1208.73,139.18 1209.09,139.22 1209.62,139.88 1210.05,140.85 1210.4,141.49 1211.05,137.91 1211.56,138.2 1211.96,140.95 1212.29,139.72 1212.81,139.46 1213.06,137.97 1213.55,139.64 1214,141.07 1214.49,139.74 1215.1,143.22 1215.37,140.23 1215.85,140.26 1216.2,138.02 1216.75,137.86 1217.1,138.17 1217.84,137.99 1218.18,138.34 1218.75,141.49 1219.25,138.57 1219.61,135.79 1220.05,132.09 1220.48,134.16 1220.88,133.97 1221.15,135.72 1221.85,132.83 1222.21,133.41 1222.64,131.49 1223.14,133.11 1223.65,132.85 1224.18,131.11 1224.46,131.17 1224.89,131.56 1225.58,132.26 1225.98,129.47 1226.46,132.3 1226.81,130.27 1227.15,133.4 1227.88,132.54 1228.32,129.54 1228.6,129 1229.15,137.45 1229.67,134.52 1230.25,134.26 1230.59,132.49 1230.98,132.87 1231.37,134.13 1231.8,133.69 1232.29,131.32 1232.69,134.34 1233.26,132.75 1233.67,130.67 1234.1,133.51 1234.49,131.57 1235.04,132.9 1235.45,126.38 1235.97,127.64 1236.32,124.4 1236.9,127.34 1237.29,128.7 1237.91,126.71 1238.15,122.35 1238.82,126.06 1239.35,127.15 1239.58,133.88 1240.19,127.61 1240.57,123.9 1240.85,127.92 1241.36,127.85 1241.93,123.29 1242.33,123.79 1242.83,124.01 1243.25,125.1 1243.78,123.4 1244.11,120.61 1244.51,125.36 1245,123.89 1245.49,122.55 1245.89,125.57 1246.4,128.15 1246.85,130.43 1247.29,129.36 1247.77,127.89 1248.2,130.2 1248.74,129.51 1249.14,127.31 1249.64,125.43 1249.96,127.06 1250.5,128.85 1250.93,127.38 1251.29,130.55 1251.98,128.03 1252.24,127.84 1252.82,123.09 1253.27,120.89 1253.75,122.04 1254.11,121.06 1254.45,118.2 1255.08,119.04 1255.5,123.09 1255.99,121.06 1256.4,121.5 1256.93,119.18 1257.35,120.56 1257.76,122.75 1258.35,121.53 1258.66,120.43 1259.04,123.75 1259.6,121.04 1260.07,120.48 1260.53,122.89 1260.94,118.02 1261.42,121.75 1261.83,118.9 1262.31,119.37 1262.81,124.86 1263.21,126.17 1263.72,126.09 1264.14,126.37 1264.6,126.17 1265.04,128.14 1265.55,128.59 1265.97,126.89 1266.39,126.93 1266.88,124.97 1267.37,123.7 1267.79,126.54 1268.2,125.56 1268.67,126.93 1269.12,116.65 1269.65,124.3 1270.06,117.49 1270.54,119.68 1270.99,121.27 1271.41,117.14 1271.91,118.52 1272.33,115.95 1272.8,116.92 1273.19,116 1273.69,119.49 1274.14,119.78 1274.59,118.68 1275.07,121.38 1275.49,121.56 1275.96,119.1 1276.37,118.7 1276.88,118.57 1277.32,118.22 1277.83,121.26 1278.25,119.36 1278.71,118.33 1279.1,124.48 1279.6,125.82 1280.04,124.15 1280.54,125.38 1280.99,124.75 1281.43,136.5 1281.89,126.82 1282.34,122.27 1282.79,124.47 1283.26,125.99 1283.71,123.93 1284.16,126.14 1284.6,124.14 1285.09,119.6 1285.52,118.42 1285.97,112.89 1286.46,119.42 1286.89,115.87 1287.34,116.83 1287.78,116.63 1288.24,121.4 1288.72,118.94 1289.16,119.04 1289.63,118.67 1290.06,117.43 1290.54,117.01 1290.98,119.83 1291.43,117.64 1291.87,121.1 1292.36,118.62 1292.8,118.42 1293.26,117.86 1293.72,118.1 1294.16,118.28 1294.64,120.92 1295.09,128.6 1295.54,122.38 1295.99,124.88 1296.44,125.67 1296.9,122.8 1297.36,123.26 1297.8,123.57 1298.27,120.09 1298.72,125.51 1299.18,124.26 1299.61,124.17 1300.1,124.47 1300.53,124.75 1300.98,128.41 1301.44,118.36 1301.92,119.51 1302.36,117.09 1302.82,118.63 1303.28,117.43 1303.73,117.71 1304.19,116.37 1304.64,116.51 1305.09,118.75 1305.55,119.26 1305.98,118.74 1306.45,116.72 1306.88,118.46 1307.36,113.4 1307.82,119.54 1308.26,117.8 1308.72,118.33 1309.19,119.9 1309.63,117.08 1310.09,119.51 1310.57,117.03 1311,118.75 1311.47,123.2 1311.92,124.43 1312.37,126.42 1312.84,122.7 1313.27,122.75 1313.74,123.22 1314.18,124.3 1314.63,128.57 1315.1,122.71 1315.54,120.13 1315.96,122.54 1316.45,120.89 1316.93,122.67 1317.35,123.66 1317.83,115.85 1318.27,116.31 1318.71,114.21 1319.18,117.78 1319.61,116.13 1320.12,119.33 1320.55,119.25 1321.01,115.86 1321.46,116.72 1321.89,117.44 1322.37,118.66 1322.84,114.37 1323.29,117.16 1323.73,120.55 1324.18,117.1 1324.65,117.62 1325.08,117.22 1325.56,115.1 1325.99,118.85 1326.46,117.64 1326.93,117.43 1327.38,118.41 1327.82,118.49 1328.29,119.9 1328.74,124.07 1329.2,122.18 1329.66,123.47 1330.1,121.92 1330.54,121.63 1331.02,124.82 1331.46,123.12 1331.94,122.62 1332.39,122.6 1332.83,123.23 1333.3,123.05 1333.73,118.89 1334.18,115.34 1334.65,116.45 1335.11,118.17 1335.58,119.24 1336.01,115.17 1336.46,120.23 1336.92,116.96 1337.38,117.65 1337.84,115.83 1338.28,115.69 1338.76,119.28 1339.19,116.35 1339.68,116.54 1340.11,118.75 1340.57,119.74 1341,114.03 1341.48,116.34 1341.91,116.64 1342.4,119.85 1342.84,120.99 1343.3,116.53 1343.76,115.16 1344.22,118.13 1344.68,118.62 1345.13,122.23 1345.58,124.31 1346.02,121.54 1346.47,118.03 1346.94,120.32 1347.4,123.13 1347.84,124.13 1348.3,118.73 1348.77,119.53 1349.22,122.67 1349.66,113.51 1350.11,123.7 1350.56,124.53 1351.03,117.4 1351.48,125.73 1351.93,116.08 1352.41,118.93 1352.87,116.9 1353.3,115.97 1353.77,116.6 1354.22,118.04 1354.68,116.7 1355.13,116.43 1355.58,113.78 1356.04,117.2 1356.5,116.39 1356.94,119.59 1357.4,116.29 1357.85,116.15 1358.31,115.18 1358.77,117.58 1359.22,115.92 1359.66,115.02 1360.13,119.11 1360.58,119.42 1361.04,115.44 1361.5,120.72 1361.94,124.55 1362.4,121.05 1362.87,127.56 1363.32,122.28 1363.76,124.24 1364.23,120.2 1364.68,122.44 1365.13,124.45 1365.59,123.28 1366.04,121.53 1366.5,126.87 1366.96,123.8 1367.42,115.72 1367.87,115.04 1368.32,115.63 1368.77,118.52 1369.23,114.72 1369.69,116.15 1370.14,114.62 1370.6,118.33 1371.04,115.78 1371.5,117.61 1371.96,117.07 1372.42,115.01 1372.87,117.3 1373.31,117.72 1373.78,113.97 1374.23,117.29 1374.69,122.41 1375.15,115.48 1375.59,117.16 1376.05,113.6 1376.5,116.82 1376.96,114.93 1377.42,117.37 1377.87,122.31 1378.32,120.27 1378.78,124.38 1379.23,122 1379.69,120.56 1380.14,122.51 1380.6,120.64 1381.05,123.1 1381.51,122.27 1381.97,122.66 1382.42,123.59 1382.88,120.07 1383.33,124.14 1383.78,118.75 1384.24,118.83 1384.7,116.25 1385.15,115.44 1385.61,114.58 1386.06,116.91 1386.52,115.62 1386.97,115.59 1387.42,117.78 1387.88,115.12 1388.33,115.47 1388.79,116.68 1389.24,117.85 1389.7,115.62 1390.15,116.18 1390.61,115.98 1391.06,117.24 1391.52,118.6 1391.97,114.19 1392.43,115.65 1392.88,115.8 1393.34,116.96 1393.79,118.61 1394.25,115.85 1394.7,122.77 1395.16,124.44 1395.61,120.12 1396.07,120.98 1396.52,119.07 1396.98,122.36 1397.43,122.79 1397.89,121.43 1398.34,125.56 1398.8,121.09 1399.25,122 1399.71,124.35 1400.16,123.77 1400.62,122.34 1401.07,116.58 1401.53,117.39 1401.98,115.88 1402.44,117.08 1402.89,114.23 1403.35,116.03 1403.8,112.91 1404.26,114.28 1404.71,113.82 1405.17,118.18 1405.63,115.06 1406.08,116.45 1406.53,114.22 1406.99,115.54 1407.44,115.4 1407.9,114.35 1408.35,115.91 1408.81,112.89 1409.26,117.05 1409.71,120.75 1410.17,114.42 1410.62,115.97 1411.08,113.08 1411.53,122.3 1411.99,119.18 1412.45,125.95 1412.9,121.44 1413.36,118.97 1413.81,119.97 1414.27,119.44 1414.71,127.31 1415.18,123.87 1415.63,121.59 1416.09,120.17 1416.54,120.79 1416.99,122.52 1417.45,111.47 1417.91,116.96 1418.36,116.63 1418.82,111.42 1419.27,118.05 1419.72,112.91 1420.18,115.5 1420.63,118.04 1421.08,112.91 1421.55,112.53 1422,113.86 1422.46,113.92 1422.91,115.65 1423.36,114.94 1423.81,115 1424.27,115.03 1424.73,115.58 1425.18,114.36 1425.64,116.52 1426.1,115.92 1426.55,114.91 1427.01,119.26 1427.46,113.63 1427.91,123.67 1428.36,120.98 1428.83,123 1429.28,123.3 1429.73,123.93 1430.19,124.95 1430.64,120.84 1431.1,127.59 1431.55,123.13 1432,120.92 1432.46,119.94 1432.93,126.69 1433.38,125.43 1433.83,116.06 1434.28,117.49 1434.74,118.51 1435.19,116.3 1435.65,115.36 1436.1,116.08 1436.56,117.68 1437.01,116.2 1437.47,110.46 1437.92,117.56 1438.38,113.05 1438.83,114.83 1439.28,118.46 1439.74,116.65 1440.19,116.65 1440.65,116.53 1441.11,118.12 1441.56,116.16 1442.02,112.71 1442.47,116.71 1442.93,110.7 1443.39,112.56 1443.84,125.49 1444.28,124.51 1444.75,121.79 1445.2,122.5" fill="none" stroke="#0d0d0d" stroke-width="3.8" stroke-linejoin="round"/>
<polyline points="792.6,109.36 794.48,109.37 796.36,109.39 798.24,109.4 800.13,109.42 802.01,109.44 803.89,109.46 805.77,109.48 807.65,109.5 809.53,109.53 811.41,109.55 813.29,109.58 815.18,109.6 817.06,109.63 818.94,109.66 820.82,109.69 822.7,109.72 824.58,109.75 826.46,109.79 828.35,109.82 830.23,109.86 832.11,109.9 833.99,109.94 835.87,109.98 837.75,110.02 839.63,110.06 841.51,110.11 843.4,110.16 845.28,110.2 847.16,110.25 849.04,110.3 850.92,110.36 852.8,110.41 854.68,110.47 856.56,110.53 858.45,110.59 860.33,110.65 862.21,110.71 864.09,110.77 865.97,110.84 867.85,110.91 869.73,110.98 871.62,111.05 873.5,111.13 875.38,111.21 877.26,111.29 879.14,111.37 881.02,111.45 882.9,111.54 884.78,111.63 886.67,111.72 888.55,111.81 890.43,111.91 892.31,112.01 894.19,112.11 896.07,112.22 897.95,112.33 899.84,112.44 901.72,112.55 903.6,112.67 905.48,112.79 907.36,112.92 909.24,113.04 911.12,113.18 913,113.31 914.89,113.45 916.77,113.6 918.65,113.75 920.53,113.9 922.41,114.06 924.29,114.22 926.17,114.39 928.06,114.56 929.94,114.74 931.82,114.92 933.7,115.11 935.58,115.31 937.46,115.51 939.34,115.73 941.22,115.95 943.11,116.18 944.99,116.42 946.87,116.66 948.75,116.92 950.63,117.18 952.51,117.46 954.39,117.74 956.28,118.03 958.16,118.33 960.04,118.64 961.92,118.97 963.8,119.3 965.68,119.64 967.56,120 969.44,120.37 971.33,120.75 973.21,121.14 975.09,121.55 976.97,121.97 978.85,122.41 980.73,122.87 982.61,123.34 984.49,123.84 986.38,124.36 988.26,124.9 990.14,125.46 992.02,126.05 993.9,126.66 995.78,127.31 997.66,127.98 999.55,128.69 1001.43,129.43 1003.31,130.21 1005.19,131.02 1007.07,131.88 1008.95,132.78 1010.83,133.73 1012.71,134.73 1014.6,135.78 1016.48,136.89 1018.36,138.07 1020.24,139.31 1022.12,140.62 1024,142.01 1025.88,143.49 1027.77,145.05 1029.65,146.71 1031.53,148.48 1033.41,150.37 1035.29,152.38 1037.17,154.53 1039.05,156.82 1040.93,159.28 1042.82,161.92 1044.7,164.75 1046.58,167.79 1048.46,171.07 1050.34,174.6 1052.22,178.42 1054.1,182.56 1055.99,187.04 1057.87,191.9 1059.75,197.19 1061.63,202.95 1063.51,209.24 1065.39,216.11 1067.27,223.62 1069.15,231.86 1071.04,240.88 1072.92,250.78 1072.92,250.78 1073.02,251.34 1073.12,251.9 1073.22,252.46 1073.32,253.03 1073.42,253.6 1073.53,254.18 1073.63,254.76 1073.73,255.34 1073.83,255.92 1073.93,256.51 1074.03,257.09 1074.14,257.69 1074.24,258.28 1074.34,258.88 1074.44,259.48 1074.54,260.08 1074.64,260.69 1074.74,261.3 1074.85,261.91 1074.95,262.53 1075.05,263.14 1075.15,263.77 1075.25,264.39 1075.35,265.02 1075.45,265.65 1075.56,266.28 1075.66,266.92 1075.76,267.56 1075.86,268.2 1075.96,268.85 1076.06,269.5 1076.17,270.15 1076.27,270.81 1076.37,271.46 1076.47,272.13 1076.57,272.79 1076.67,273.46 1076.77,274.13 1076.88,274.81 1076.98,275.49 1077.08,276.17 1077.18,276.85 1077.28,277.54 1077.38,278.23 1077.49,278.92 1077.59,279.62 1077.69,280.32 1077.79,281.03 1077.89,281.73 1077.99,282.44 1078.09,283.16 1078.2,283.88 1078.3,284.6 1078.4,285.32 1078.5,286.05 1078.6,286.78 1078.7,287.51 1078.81,288.25 1078.91,288.99 1079.01,289.74 1079.11,290.48 1079.21,291.23 1079.31,291.99 1079.41,292.75 1079.52,293.51 1079.62,294.27 1079.72,295.04 1079.82,295.81 1079.92,296.59 1080.02,297.36 1080.12,298.14 1080.23,298.93 1080.33,299.72 1080.43,300.51 1080.53,301.3 1080.63,302.1 1080.73,302.9 1080.84,303.71 1080.94,304.52 1081.04,305.33 1081.14,306.14 1081.24,306.96 1081.34,307.78 1081.44,308.61 1081.55,309.44 1081.65,310.27 1081.75,311.1 1081.85,311.94 1081.95,312.78 1082.05,313.63 1082.16,314.47 1082.26,315.32 1082.36,316.18 1082.46,317.04 1082.56,317.9 1082.66,318.76 1082.76,319.63 1082.87,320.5 1082.97,321.37 1083.07,322.24 1083.17,323.12 1083.27,324.01 1083.37,324.89 1083.48,325.78 1083.58,326.67 1083.68,327.56 1083.78,328.46 1083.88,329.36 1083.98,330.26 1084.08,331.17 1084.19,332.07 1084.29,332.99 1084.39,333.9 1084.49,334.81 1084.59,335.73 1084.69,336.65 1084.79,337.58 1084.9,338.5 1085,339.43 1085.1,340.36 1085.2,341.29 1085.3,342.23 1085.4,343.17 1085.51,344.1 1085.61,345.05 1085.71,345.99 1085.81,346.93 1085.91,347.88 1086.01,348.83 1086.11,349.78 1086.22,350.73 1086.32,351.69 1086.42,352.64 1086.52,353.6 1086.62,354.56 1086.72,355.52 1086.83,356.48 1086.93,357.44 1087.03,358.4 1087.13,359.37 1087.23,360.33 1087.33,361.3 1087.43,362.26 1087.54,363.23 1087.64,364.2 1087.74,365.16 1087.84,366.13 1087.94,367.1 1088.04,368.07 1088.14,369.04 1088.25,370 1088.35,370.97 1088.45,371.94 1088.55,372.9 1088.65,373.87 1088.75,374.83 1088.86,375.8 1088.96,376.76 1089.06,377.72 1089.16,378.68 1089.26,379.64 1089.36,380.6 1089.46,381.55 1089.57,382.5 1089.67,383.45 1089.77,384.4 1089.87,385.35 1089.97,386.29 1090.07,387.23 1090.18,388.17 1090.28,389.1 1090.38,390.03 1090.48,390.96 1090.58,391.88 1090.68,392.8 1090.78,393.71 1090.89,394.62 1090.99,395.53 1091.09,396.43 1091.19,397.32 1091.29,398.21 1091.39,399.1 1091.5,399.98 1091.6,400.85 1091.7,401.72 1091.8,402.58 1091.9,403.43 1092,404.28 1092.1,405.12 1092.21,405.95 1092.31,406.77 1092.41,407.59 1092.51,408.4 1092.61,409.19 1092.71,409.99 1092.81,410.77 1092.92,411.54 1093.02,412.3 1093.12,413.05 1093.22,413.8 1093.32,414.53 1093.42,415.25 1093.53,415.96 1093.63,416.66 1093.73,417.34 1093.83,418.02 1093.93,418.68 1094.03,419.33 1094.13,419.97 1094.24,420.59 1094.34,421.2 1094.44,421.8 1094.54,422.38 1094.64,422.94 1094.74,423.49 1094.85,424.03 1094.95,424.55 1095.05,425.06 1095.15,425.54 1095.25,426.02 1095.35,426.47 1095.45,426.91 1095.56,427.33 1095.66,427.73 1095.76,428.11 1095.86,428.47 1095.96,428.82 1096.06,429.14 1096.16,429.45 1096.27,429.73 1096.37,430 1096.47,430.24 1096.57,430.46 1096.67,430.66 1096.77,430.84 1096.88,430.99 1096.98,431.13 1097.08,431.24 1097.18,431.32 1097.28,431.39 1097.38,431.43 1097.48,431.44 1097.59,431.43 1097.69,431.39 1097.79,431.33 1097.89,431.23 1097.99,431.1 1098.09,430.94 1098.2,430.74 1098.3,430.51 1098.4,430.23 1098.5,429.91 1098.6,429.55 1098.7,429.15 1098.8,428.69 1098.91,428.19 1099.01,427.64 1099.11,427.04 1099.21,426.39 1099.31,425.68 1099.41,424.92 1099.52,424.11 1099.62,423.24 1099.72,422.31 1099.82,421.32 1099.92,420.28 1100.02,419.17 1100.12,418.01 1100.23,416.79 1100.33,415.52 1100.43,414.18 1100.53,412.79 1100.63,411.34 1100.73,409.84 1100.83,408.28 1100.94,406.67 1101.04,405 1101.14,403.29 1101.24,401.52 1101.34,399.71 1101.44,397.86 1101.55,395.95 1101.65,394.01 1101.75,392.03 1101.85,390.02 1101.95,387.97 1102.05,385.89 1102.15,383.78 1102.26,381.64 1102.36,379.49 1102.46,377.31 1102.56,375.12 1102.66,372.92 1102.76,370.71 1102.87,368.49 1102.97,366.27 1103.07,364.05 1103.17,361.84 1103.27,359.63 1103.37,357.43 1103.47,355.25 1103.58,353.09 1103.68,350.95 1103.78,348.83 1103.88,346.74 1103.98,344.69 1104.08,342.69 1104.18,340.73 1104.29,338.81 1104.39,336.93 1104.49,335.09 1104.59,333.3 1104.69,331.55 1104.79,329.84 1104.9,328.17 1105,326.54 1105.1,324.95 1105.2,323.39 1105.3,321.88 1105.4,320.4 1105.5,318.95 1105.61,317.55 1105.71,316.17 1105.81,314.83 1105.91,313.51 1106.01,312.23 1106.11,310.97 1106.22,309.75 1106.32,308.54 1106.42,307.37 1106.52,306.21 1106.62,305.08 1106.72,303.96 1106.82,302.87 1106.93,301.79 1107.03,300.73 1107.13,299.68 1107.23,298.65 1107.33,297.62 1107.43,296.61 1107.54,295.6 1107.64,294.61 1107.74,293.61 1107.84,292.62 1107.94,291.64 1108.04,290.65 1108.14,289.66 1108.25,288.67 1108.35,287.68 1108.45,286.68 1108.55,285.67 1108.65,284.65 1108.75,283.63 1108.85,282.59 1108.96,281.54 1109.06,280.47 1109.16,279.39 1109.26,278.29 1109.36,277.18 1109.46,276.04 1109.57,274.88 1109.67,273.69 1109.77,272.48 1109.87,271.25 1109.97,269.98 1110.07,268.69 1110.17,267.37 1110.28,266.02 1110.38,264.63 1110.48,263.21 1110.58,261.75 1110.68,260.26 1110.78,258.73 1110.89,257.16 1110.99,255.55 1111.09,253.9 1111.19,252.21 1111.29,250.48 1111.39,248.71 1111.49,246.89 1111.6,245.03 1111.7,243.12 1111.8,241.17 1111.9,239.18 1112,237.14 1112.1,235.05 1112.21,232.93 1112.31,230.8 1112.41,228.68 1112.51,226.57 1112.61,224.47 1112.71,222.37 1112.81,220.29 1112.92,218.22 1113.02,216.17 1113.12,214.12 1113.22,212.09 1113.32,210.08 1113.42,208.08 1113.52,206.1 1113.63,204.14 1113.73,202.19 1113.83,200.27 1113.93,198.37 1114.03,196.48 1114.13,194.63 1114.24,192.79 1114.34,190.98 1114.44,189.19 1114.54,187.43 1114.64,185.7 1114.74,183.99 1114.84,182.31 1114.95,180.66 1115.05,179.04 1115.15,177.46 1115.25,175.9 1115.35,174.37 1115.45,172.88 1115.56,171.42 1115.66,170 1115.76,168.61 1115.86,167.26 1115.96,165.94 1116.06,164.66 1116.16,163.42 1116.27,162.21 1116.37,161.05 1116.47,159.92 1116.57,158.84 1116.67,157.79 1116.77,156.79 1116.87,155.83 1116.98,154.91 1117.08,154.03 1117.18,153.2 1117.28,152.41 1117.38,151.66 1117.48,150.96 1117.59,150.31 1117.69,149.7 1117.79,149.13 1117.89,148.61 1117.99,148.14 1118.09,147.71 1118.19,147.34 1118.3,147.01 1118.4,146.72 1118.5,146.49 1118.6,146.3 1118.7,146.16 1118.8,146.07 1118.91,146.03 1119.01,146.04 1119.11,146.1 1119.21,146.21 1119.31,146.38 1119.41,146.62 1119.51,146.91 1119.62,147.28 1119.72,147.72 1119.82,148.22 1119.92,148.81 1120.02,149.47 1120.12,150.21 1120.23,151.03 1120.33,151.93 1120.43,152.92 1120.53,153.99 1120.63,155.14 1120.73,156.38 1120.83,157.7 1120.94,159.11 1121.04,160.59 1121.14,162.16 1121.24,163.82 1121.34,165.55 1121.44,167.35 1121.54,169.24 1121.65,171.19 1121.75,173.22 1121.85,175.31 1121.95,177.47 1122.05,179.68 1122.15,181.95 1122.26,184.28 1122.36,186.65 1122.46,189.06 1122.56,191.51 1122.66,194 1122.76,196.51 1122.86,199.04 1122.97,201.6 1123.07,204.16 1123.17,206.73 1123.27,209.31 1123.37,211.87 1123.47,214.43 1123.58,216.97 1123.68,219.49 1123.78,221.98 1123.88,224.44 1123.98,226.86 1124.08,229.23 1124.18,231.55 1124.29,233.82 1124.39,236.04 1124.49,238.23 1124.59,240.37 1124.69,242.48 1124.79,244.55 1124.89,246.59 1125,248.59 1125.1,250.55 1125.2,252.48 1125.3,254.37 1125.4,256.23 1125.5,258.06 1125.61,259.86 1125.71,261.63 1125.81,263.37 1125.91,265.09 1126.01,266.77 1126.11,268.43 1126.21,270.07 1126.32,271.69 1126.42,273.28 1126.52,274.86 1126.62,276.42 1126.72,277.96 1126.82,279.49 1126.93,281.01 1127.03,282.51 1127.13,284 1127.23,285.49 1127.33,286.97 1127.43,288.45 1127.53,289.92 1127.64,291.39 1127.74,292.86 1127.84,294.34 1127.94,295.81 1128.04,297.3 1128.14,298.79 1128.25,300.28 1128.35,301.79 1128.45,303.31 1128.55,304.85 1128.65,306.4 1128.75,307.96 1128.85,309.54 1128.96,311.15 1129.06,312.77 1129.16,314.42 1129.26,316.09 1129.36,317.78 1129.46,319.5 1129.56,321.25 1129.67,323.03 1129.77,324.84 1129.87,326.68 1129.97,328.55 1130.07,330.45 1130.17,332.39 1130.28,334.36 1130.38,336.36 1130.48,338.4 1130.58,340.48 1130.68,342.59 1130.78,344.74 1130.88,346.92 1130.99,349.15 1131.09,351.46 1131.19,353.87 1131.29,356.36 1131.39,358.93 1131.49,361.56 1131.6,364.24 1131.7,366.96 1131.8,369.71 1131.9,372.49 1132,375.29 1132.1,378.08 1132.2,380.87 1132.31,383.64 1132.41,386.39 1132.51,389.1 1132.61,391.78 1132.71,394.39 1132.81,396.96 1132.92,399.45 1133.02,401.87 1133.12,404.21 1133.22,406.47 1133.32,408.64 1133.42,410.72 1133.52,412.7 1133.63,414.57 1133.73,416.35 1133.83,418.02 1133.93,419.59 1134.03,421.06 1134.13,422.41 1134.23,423.67 1134.34,424.82 1134.44,425.88 1134.54,426.83 1134.64,427.7 1134.74,428.47 1134.84,429.15 1134.95,429.75 1135.05,430.27 1135.15,430.72 1135.25,431.1 1135.35,431.41 1135.45,431.67 1135.55,431.87 1135.66,432.02 1135.76,432.12 1135.86,432.19 1135.96,432.22 1136.06,432.22 1136.16,432.2 1136.27,432.15 1136.37,432.07 1136.47,431.97 1136.57,431.85 1136.67,431.7 1136.77,431.53 1136.87,431.33 1136.98,431.11 1137.08,430.87 1137.18,430.61 1137.28,430.32 1137.38,430.01 1137.48,429.68 1137.58,429.33 1137.69,428.96 1137.79,428.58 1137.89,428.17 1137.99,427.74 1138.09,427.29 1138.19,426.83 1138.3,426.34 1138.4,425.84 1138.5,425.33 1138.6,424.79 1138.7,424.24 1138.8,423.68 1138.9,423.09 1139.01,422.5 1139.11,421.88 1139.21,421.26 1139.31,420.62 1139.41,419.96 1139.51,419.3 1139.62,418.61 1139.72,417.92 1139.82,417.22 1139.92,416.5 1140.02,415.77 1140.12,415.03 1140.22,414.28 1140.33,413.51 1140.43,412.74 1140.53,411.96 1140.63,411.17 1140.73,410.36 1140.83,409.55 1140.94,408.73 1141.04,407.91 1141.14,407.07 1141.24,406.22 1141.34,405.37 1141.44,404.51 1141.54,403.65 1141.65,402.77 1141.75,401.89 1141.85,401.01 1141.95,400.12 1142.05,399.22 1142.15,398.31 1142.25,397.41 1142.36,396.49 1142.46,395.57 1142.56,394.65 1142.66,393.72 1142.76,392.79 1142.86,391.85 1142.97,390.91 1143.07,389.97 1143.17,389.02 1143.27,388.08 1143.37,387.12 1143.47,386.17 1143.57,385.21 1143.68,384.25 1143.78,383.29 1143.88,382.32 1143.98,381.36 1144.08,380.39 1144.18,379.42 1144.29,378.45 1144.39,377.48 1144.49,376.5 1144.59,375.53 1144.69,374.55 1144.79,373.58 1144.89,372.6 1145,371.63 1145.1,370.65 1145.2,369.67 1145.3,368.69 1145.4,367.72 1145.5,366.74 1145.6,365.77 1145.71,364.79 1145.81,363.82 1145.91,362.84 1146.01,361.87 1146.11,360.9 1146.21,359.92 1146.32,358.95 1146.42,357.98 1146.52,357.02 1146.62,356.05 1146.72,355.08 1146.82,354.12 1146.92,353.16 1147.03,352.2 1147.13,351.24 1147.23,350.28 1147.33,349.33 1147.43,348.38 1147.53,347.43 1147.64,346.48 1147.74,345.53 1147.84,344.59 1147.94,343.64 1148.04,342.7 1148.14,341.77 1148.24,340.83 1148.35,339.9 1148.45,338.97 1148.55,338.04 1148.65,337.12 1148.75,336.2 1148.85,335.28 1148.96,334.36 1149.06,333.45 1149.16,332.54 1149.26,331.63 1149.36,330.73 1149.46,329.83 1149.56,328.93 1149.67,328.03 1149.77,327.14 1149.87,326.25 1149.97,325.36 1150.07,324.48 1150.17,323.6 1150.27,322.72 1150.38,321.85 1150.48,320.98 1150.58,320.11 1150.68,319.25 1150.78,318.39 1150.88,317.53 1150.99,316.68 1151.09,315.82 1151.19,314.98 1151.29,314.13 1151.39,313.29 1151.49,312.46 1151.59,311.62 1151.7,310.79 1151.8,309.96 1151.9,309.14 1152,308.32 1152.1,307.5 1152.2,306.69 1152.31,305.88 1152.41,305.07 1152.51,304.27 1152.61,303.47 1152.71,302.68 1152.81,301.88 1152.91,301.1 1153.02,300.31 1153.12,299.53 1153.22,298.75 1153.32,297.97 1153.42,297.2 1153.52,296.44 1153.62,295.67 1153.73,294.91 1153.83,294.15 1153.93,293.4 1154.03,292.65 1154.13,291.9 1154.23,291.16 1154.34,290.42 1154.44,289.68 1154.54,288.95 1154.64,288.22 1154.74,287.49 1154.84,286.77 1154.94,286.05 1155.05,285.33 1155.15,284.62 1155.25,283.91 1155.35,283.2 1155.45,282.5 1155.55,281.8 1155.66,281.1 1155.76,280.41 1155.86,279.72 1155.96,279.03 1156.06,278.35 1156.16,277.67 1156.26,277 1156.37,276.32 1156.47,275.65 1156.57,274.99 1156.67,274.33 1156.77,273.67 1156.87,273.01 1156.98,272.36 1157.08,271.71 1157.18,271.06 1157.28,270.42 1157.38,269.77 1157.48,269.14 1157.58,268.5 1157.69,267.87 1157.79,267.24 1157.89,266.62 1157.99,266 1158.09,265.38 1158.19,264.76 1158.29,264.15 1158.4,263.54 1158.5,262.94 1158.6,262.33 1158.7,261.73 1158.8,261.13 1158.9,260.54 1159.01,259.95 1159.11,259.36 1159.21,258.78 1159.31,258.19 1159.41,257.61 1159.51,257.04 1159.61,256.46 1159.72,255.89 1159.82,255.32 1159.92,254.76 1160.02,254.2 1160.12,253.64 1160.22,253.08 1160.33,252.53 1160.43,251.98 1160.53,251.43 1160.63,250.88 1160.73,250.34 1160.83,249.8 1160.93,249.26 1161.04,248.73 1161.14,248.2 1161.24,247.67 1161.34,247.14 1161.44,246.62 1161.54,246.1 1161.65,245.58 1161.75,245.06 1161.85,244.55 1161.95,244.04 1162.05,243.53 1162.15,243.02 1162.25,242.52 1162.36,242.02 1162.46,241.52 1162.56,241.03 1162.66,240.53 1162.76,240.04 1162.86,239.55 1162.96,239.07 1163.07,238.59 1163.17,238.1 1163.27,237.63 1163.37,237.15 1163.47,236.68 1163.57,236.21 1163.68,235.74 1163.78,235.27 1163.88,234.81 1163.98,234.34 1164.08,233.89 1164.18,233.43 1164.18,233.43 1166.06,225.36 1167.95,217.99 1169.83,211.27 1171.71,205.12 1173.59,199.49 1175.47,194.32 1177.35,189.57 1179.23,185.2 1181.11,181.16 1183,177.44 1184.88,173.99 1186.76,170.8 1188.64,167.83 1190.52,165.08 1192.4,162.51 1194.28,160.12 1196.17,157.89 1198.05,155.67 1199.93,153.52 1201.81,151.5 1203.69,149.6 1205.57,147.8 1207.45,146.1 1209.33,144.49 1211.22,142.96 1213.1,141.51 1214.98,140.13 1216.86,138.82 1218.74,137.58 1220.62,136.39 1222.5,135.26 1224.39,134.18 1226.27,133.15 1228.15,132.16 1230.03,131.22 1231.91,130.32 1233.79,129.46 1235.67,128.64 1237.55,127.86 1239.44,127.11 1241.32,126.39 1243.2,125.71 1245.08,125.05 1246.96,124.43 1248.84,123.84 1250.72,123.27 1252.61,122.74 1254.49,122.23 1256.37,121.75 1258.25,121.3 1260.13,120.87 1262.01,120.45 1263.89,120.05 1265.77,119.67 1267.66,119.3 1269.54,118.95 1271.42,118.6 1273.3,118.27 1275.18,117.95 1277.06,117.64 1278.94,117.35 1280.82,117.06 1282.71,116.78 1284.59,116.51 1286.47,116.25 1288.35,116 1290.23,115.76 1292.11,115.53 1293.99,115.3 1295.88,115.08 1297.76,114.87 1299.64,114.66 1301.52,114.46 1303.4,114.27 1305.28,114.08 1307.16,113.9 1309.04,113.72 1310.93,113.55 1312.81,113.38 1314.69,113.22 1316.57,113.07 1318.45,112.92 1320.33,112.77 1322.21,112.63 1324.1,112.49 1325.98,112.36 1327.86,112.23 1329.74,112.1 1331.62,111.98 1333.5,111.86 1335.38,111.75 1337.26,111.64 1339.15,111.53 1341.03,111.43 1342.91,111.33 1344.79,111.23 1346.67,111.14 1348.55,111.04 1350.43,110.96 1352.32,110.87 1354.2,110.79 1356.08,110.71 1357.96,110.63 1359.84,110.55 1361.72,110.48 1363.6,110.41 1365.48,110.35 1367.37,110.28 1369.25,110.22 1371.13,110.16 1373.01,110.1 1374.89,110.04 1376.77,109.99 1378.65,109.94 1380.54,109.89 1382.42,109.84 1384.3,109.8 1386.18,109.76 1388.06,109.72 1389.94,109.68 1391.82,109.64 1393.7,109.61 1395.59,109.57 1397.47,109.54 1399.35,109.52 1401.23,109.49 1403.11,109.46 1404.99,109.44 1406.87,109.42 1408.75,109.4 1410.64,109.38 1412.52,109.37 1414.4,109.35 1416.28,109.34 1418.16,109.33 1420.04,109.32 1421.92,109.31 1423.81,109.31 1425.69,109.3 1427.57,109.3 1429.45,109.3 1431.33,109.3 1433.21,109.3 1435.09,109.31 1436.97,109.32 1438.86,109.32 1440.74,109.33 1442.62,109.34 1444.5,109.36" fill="none" stroke="#e8141b" stroke-width="2" stroke-linejoin="round"/>
</g>
<path d="M1444.5,28.7 L792.6,28.7 L792.6,493.6 L1444.5,493.6" fill="none" stroke="#333" stroke-width="2.4" stroke-linecap="round" stroke-linejoin="round"/>
<line x1="1444.5" y1="28.7" x2="1444.5" y2="493.6" stroke="#5a5a5a" stroke-width="2.4" stroke-linecap="round"/>
<line x1="857.79" y1="493.6" x2="857.79" y2="485.6" stroke="#333" stroke-width="2.2"/>
<line x1="857.79" y1="28.7" x2="857.79" y2="36.7" stroke="#333" stroke-width="2.2"/>
<line x1="988.17" y1="493.6" x2="988.17" y2="485.6" stroke="#333" stroke-width="2.2"/>
<line x1="988.17" y1="28.7" x2="988.17" y2="36.7" stroke="#333" stroke-width="2.2"/>
<line x1="1118.55" y1="493.6" x2="1118.55" y2="485.6" stroke="#333" stroke-width="2.2"/>
<line x1="1118.55" y1="28.7" x2="1118.55" y2="36.7" stroke="#333" stroke-width="2.2"/>
<line x1="1248.93" y1="493.6" x2="1248.93" y2="485.6" stroke="#333" stroke-width="2.2"/>
<line x1="1248.93" y1="28.7" x2="1248.93" y2="36.7" stroke="#333" stroke-width="2.2"/>
<line x1="1379.31" y1="493.6" x2="1379.31" y2="485.6" stroke="#333" stroke-width="2.2"/>
<line x1="1379.31" y1="28.7" x2="1379.31" y2="36.7" stroke="#333" stroke-width="2.2"/>
<line x1="792.6" y1="107.3" x2="800.6" y2="107.3" stroke="#333" stroke-width="2.2"/>
<line x1="1444.5" y1="107.3" x2="1436.5" y2="107.3" stroke="#5a5a5a" stroke-width="2.2"/>
<line x1="792.6" y1="235.9" x2="800.6" y2="235.9" stroke="#333" stroke-width="2.2"/>
<line x1="1444.5" y1="235.9" x2="1436.5" y2="235.9" stroke="#5a5a5a" stroke-width="2.2"/>
<line x1="792.6" y1="364.5" x2="800.6" y2="364.5" stroke="#333" stroke-width="2.2"/>
<line x1="1444.5" y1="364.5" x2="1436.5" y2="364.5" stroke="#5a5a5a" stroke-width="2.2"/>
<clipPath id="clipC"><rect x="94.8" y="632" width="651.2" height="439"/></clipPath>
<g clip-path="url(#clipC)">
<polyline points="94.09,715.56 94.57,715.28 95.02,717.47 95.45,715.52 95.91,714.3 96.36,713.91 96.82,714.33 97.26,712.79 97.77,715.75 98.21,716.09 98.65,713.01 99.1,714.3 99.57,714.63 100.02,716.74 100.49,714.3 100.93,715.16 101.42,714.38 101.85,715.08 102.27,716.03 102.73,723.16 103.19,719.89 103.69,719.23 104.11,719.35 104.58,716.85 105,718.07 105.49,721.32 105.91,720.46 106.38,722.7 106.84,721.17 107.27,722.38 107.79,721.73 108.19,722.54 108.65,722.3 109.15,723.49 109.59,720.56 109.98,720.9 110.49,719.91 110.96,721.04 111.37,721.78 111.85,720.75 112.29,717.1 112.74,718.87 113.24,718.68 113.69,718.68 114.11,717.62 114.56,717.79 115.05,719.54 115.49,718.67 115.94,719.95 116.4,714.64 116.83,715.36 117.3,714.58 117.75,718.21 118.24,717.56 118.67,715.28 119.11,715.38 119.57,716.86 120.06,718.86 120.5,719.5 120.94,715.96 121.4,719.35 121.87,717.96 122.31,721.43 122.77,723.7 123.21,720.43 123.64,720.79 124.15,716.01 124.59,721.89 125.06,718.22 125.56,720.3 125.95,723.15 126.42,719.12 126.86,726.29 127.31,721.38 127.76,723.91 128.22,721.72 128.69,723.91 129.17,721.76 129.6,722.68 130.04,718.74 130.53,724.36 130.94,723.9 131.43,722.06 131.88,721.95 132.32,720.57 132.79,721.09 133.26,722.63 133.7,722.37 134.11,722.69 134.57,722.87 135.05,722.36 135.51,720.86 135.94,720.34 136.44,719.23 136.89,721.28 137.36,717.55 137.79,717.22 138.28,719.01 138.68,715.86 139.14,717.49 139.62,715.2 140.07,716.21 140.49,723.64 140.96,714.74 141.44,719.27 141.88,716.6 142.32,715.69 142.79,715.24 143.24,719.08 143.7,717.56 144.17,718.46 144.63,721.54 145.05,716.75 145.57,715.73 145.98,720.04 146.43,722.61 146.92,721.17 147.34,723.52 147.78,723.81 148.23,722.69 148.7,721.13 149.15,722.96 149.59,725.04 150.07,724.27 150.51,723.76 151.01,724.64 151.45,724.02 151.88,725.49 152.37,723.64 152.8,726.82 153.22,724.51 153.71,723.94 154.19,720.36 154.63,719.52 155.07,722.55 155.54,721.77 155.98,725.36 156.45,720.23 156.9,719.64 157.35,722.62 157.82,717.33 158.3,720.72 158.73,718.12 159.2,715.29 159.65,716.49 160.08,719.09 160.54,718.94 161.02,718.29 161.46,717.13 161.92,718.72 162.33,719.11 162.83,718.76 163.24,721.52 163.76,720.5 164.19,717.37 164.65,718.19 165.08,717.89 165.55,720.28 165.98,721.99 166.44,723.2 166.92,721.22 167.36,720.37 167.82,720.03 168.27,719.71 168.76,726.16 169.21,723.21 169.68,723.24 170.09,727.62 170.54,723.58 171.01,724.76 171.48,725.7 171.89,721.87 172.39,722.77 172.82,730.7 173.29,725.62 173.75,721.58 174.19,723.87 174.63,724.61 175.1,725.62 175.58,724.27 175.97,722.03 176.47,723.62 176.92,725.48 177.37,722.5 177.84,721.09 178.3,720.77 178.74,718.58 179.23,724.29 179.65,722.55 180.16,721.4 180.52,721.7 181.06,723.32 181.46,720.23 181.9,718.38 182.36,722.25 182.83,716.35 183.3,719.65 183.75,722.21 184.24,722.86 184.66,720.21 185.11,720.42 185.56,720.65 186.04,720.91 186.48,721.61 186.98,724.74 187.37,723.76 187.83,726.38 188.29,724.98 188.73,723.85 189.2,724.62 189.63,728.98 190.04,724.44 190.51,727.44 190.99,724.5 191.39,727.22 191.91,725.85 192.41,725.83 192.86,725.22 193.24,725.45 193.69,726.92 194.19,728.9 194.63,727.08 195.14,724.87 195.58,726.84 196.04,721.37 196.47,725.15 196.98,728.73 197.4,720.62 197.97,723.89 198.34,725.84 198.77,727.11 199.21,725.78 199.65,722.91 200.08,725.99 200.59,725.69 201.06,722.41 201.57,723.02 201.96,721.37 202.45,722.41 202.88,725.17 203.31,721.07 203.8,725.07 204.26,723.87 204.67,724.11 205.12,722.83 205.58,725.5 205.94,724.38 206.52,724.61 206.88,722.77 207.54,725.53 207.86,725.18 208.34,727.49 208.8,726.69 209.14,726.6 209.77,726.4 210.11,726.64 210.66,726.86 211.13,729.54 211.56,726.36 211.8,726.6 212.35,729.77 212.85,731.93 213.26,730.35 213.78,729.64 214.33,733.4 214.77,730.5 215.13,729.05 215.54,730.19 216.11,731.55 216.56,729.28 216.95,731.13 217.37,729.24 217.98,729.81 218.44,729.84 218.87,725.11 219.3,730.85 219.68,729.45 220.18,728.88 220.54,728.18 221.17,727.34 221.45,729.59 221.93,727.39 222.41,728.79 222.88,724.67 223.44,730.44 223.85,727.61 224.2,727.77 224.73,725.78 225.18,726.05 225.71,728.26 225.97,722.45 226.49,729.89 226.92,726.9 227.45,727.17 227.95,728.8 228.34,732.19 228.95,729.81 229.2,731.67 229.72,728.28 230.12,729.82 230.53,732.64 231.05,729.7 231.54,727.75 231.94,731.27 232.4,732.09 232.89,732.69 233.31,734.61 233.87,734.87 234.3,733.4 234.72,735.12 235.24,734.24 235.48,734.76 236.02,733.13 236.63,735.75 236.93,734.16 237.52,736.59 237.94,732.26 238.37,736.21 238.8,732.26 239.19,734.53 239.62,732.01 240.06,732.02 240.67,734.4 241.09,730.45 241.57,734.26 241.92,735.98 242.46,733.63 242.99,730.03 243.31,733.46 243.78,732.28 244.25,732.72 244.89,732.46 245.27,734.25 245.79,735.37 246.3,733.4 246.53,735.31 247.03,732.64 247.27,737.44 247.92,732.61 248.33,732.82 248.83,734.2 249.29,736.62 249.56,737.54 250.21,734.07 250.61,737.27 251,738.02 251.5,741.76 252.07,737.86 252.41,736.48 253.03,736.31 253.41,738.86 253.82,740.22 254.2,740.06 254.66,739.8 255.28,738.87 255.64,740.16 256.12,740.34 256.57,744.23 257.08,740.16 257.52,738.45 257.89,739.32 258.4,739.6 258.81,736.56 259.33,739.53 259.61,739.65 260.17,739.53 260.76,737.48 261,738.64 261.5,739.57 262.03,740.39 262.37,739.64 262.93,737.05 263.4,740.08 263.89,741.38 264.3,738.61 264.77,735.03 265.16,740.37 265.67,740.81 266.13,739.32 266.6,738.79 267.08,741.4 267.53,741.15 267.98,740.05 268.4,740.16 268.85,741.09 269.25,742.86 269.8,741.67 270.3,740.05 270.62,741.33 271.17,742.72 271.56,743.47 272.01,742.42 272.4,744.83 272.91,743.15 273.44,746.14 273.88,747.61 274.37,746.62 274.7,745.9 275.04,746.91 275.72,742.99 276.12,748.89 276.63,745.44 277.18,745.39 277.57,746.37 277.77,745.53 278.36,747.07 278.82,746.71 279.43,747.09 279.7,749 280.19,747.69 280.76,745.9 280.98,746.35 281.53,745.07 281.92,747.82 282.4,744.45 282.98,745.54 283.4,748.45 283.84,745.27 284.3,745.89 284.73,746.46 285.21,743.2 285.72,745.95 286.06,747.16 286.6,745.94 287,746.67 287.58,744.53 288.06,746.14 288.47,745.79 288.96,746.57 289.27,744.94 289.74,746.31 290.25,748.39 290.66,747.05 291.2,749.26 291.58,750.93 291.93,749.42 292.41,749.44 292.99,750.81 293.65,748.98 293.88,750.07 294.17,749.68 294.81,750.35 295.16,754.6 295.55,751.45 296.42,752.97 296.85,752.85 297.05,753.08 297.51,753.56 297.94,753.9 298.51,754.93 298.97,754.2 299.45,755.4 299.66,754.72 300.21,754.57 300.79,754.79 301.17,757.48 301.43,753.61 302.06,755.12 302.64,756.45 302.71,756.21 303.62,754.03 303.86,753.85 304.53,755.3 304.92,757 305.3,756.44 305.69,755.52 306.14,755.27 306.52,755.7 307.09,756.08 307.57,754.7 307.78,755.05 308.35,757.21 308.57,760.26 309.13,758.48 309.69,756.29 310.32,757.79 310.71,759.71 311.17,759.06 311.55,761.22 311.91,760.56 312.64,761.18 313.08,761.01 313.27,763.86 313.84,764.18 314.4,764.82 314.64,765.82 315.14,765.24 315.77,767.48 316.18,765.05 316.76,767.83 317.03,766.78 317.63,767.14 318.07,767.31 318.73,769.35 318.78,769.26 319.35,770.76 319.66,768.59 320.36,770.32 320.83,769.11 321.43,771.25 321.6,772.73 322.22,770.02 322.58,772.88 323.26,770.36 323.47,773.9 323.88,772.49 324.5,773.29 324.81,771.53 325.17,775.3 325.46,773.5 326.26,773.39 326.84,775.68 327.12,773.88 327.72,774.97 327.95,775.31 328.59,775.29 329.06,778.15 329.31,779.45 329.61,776.7 330.25,780.48 330.75,780.48 331.31,779.28 331.35,781.18 332.34,783.55 332.66,780.97 332.98,781.7 333.3,781.78 333.82,786.44 334.45,785.74 334.9,784.14 335.35,785.6 335.49,787.29 336.12,786.78 336.65,789.17 337.07,788.37 337.46,790.43 338.04,789.86 338.67,790.26 338.72,789.79 339.59,791.47 339.68,792.56 340.14,790.11 340.58,793.23 341.33,794.59 341.74,794.57 342.29,794.32 342.44,794.04 342.82,793.42 343.84,794.06 344.03,795.2 343.97,794.84 344.67,796.85 345.31,796.64 346.01,797.45 346.54,799.86 346.48,799.17 347.24,800.36 347.54,798.1 347.98,801.48 348.41,800.49 348.72,804.07 349.24,801.1 349.79,802.74 350.39,805.4 350.51,807.72 351.47,804.4 351.6,806.68 352.27,806.95 352.4,810.63 352.82,812.06 353.69,810.83 354.05,812.43 354.04,811.44 354.95,811.75 355.01,814.59 355.85,814.34 356.36,816.61 356.68,816.35 357.07,819.06 357.55,818.28 358.03,819.35 358.34,821.37 359.03,821.35 359.29,823.6 359.53,822.2 360.37,822.69 361.11,825.67 361.43,826.1 361.65,825.76 361.99,826.03 362.49,827.39 363.31,829.03 363.65,829.71 363.79,829.71 364.46,830.94 365.17,833.56 365.34,835.22 365.8,836.78 366.12,835.35 366.35,836.13 367.32,839.1 367.73,839.34 368.2,841.74 368.77,843.16 368.95,843.04 369.34,844.65 369.97,844.43 370.08,845.87 370.38,849.74 371.17,852.68 371.56,850.08 371.97,851.84 372.63,854.39 373.21,857.22 373.38,855.96 373.55,859.51 374.07,862.5 374.69,860.16 375.29,862.92 375.79,866.51 376.35,868.53 377.13,868.03 376.94,871.41 377.83,873.02 378.03,872.09 378.56,875.03 378.91,876.07 379.66,877.9 380.07,880 380.66,880.08 381.25,880.78 380.98,882.85 381.69,884.42 382.36,887.15 382.84,889.91 383.2,889.89 383.39,891.21 384.44,892.93 384.26,895.84 385.11,896.42 385.28,898.18 385.76,899.04 386.47,901.34 386.55,902.63 387.36,905.91 387.66,906.44 387.87,909.37 388.54,910.27 389.06,911.79 389.61,911.42 390.15,914.82 390.07,915.86 390.65,919.75 391.11,920.95 391.42,922.88 392.61,924.19 392.54,927.71 393.03,926.12 393.46,930.99 393.81,931.86 394.66,933.26 394.94,935.64 395.22,938.46 395.75,940.97 396.37,943.97 396.8,944.32 397.38,946.47 397.92,950.58 397.99,952.98 398.33,953.04 398.9,955.71 399.49,959.22 399.78,961.18 400.44,964.9 400.55,966.23 401.27,969.26 401.81,976.07 402,977.11 402.82,980.69 403.48,982.52 402.85,984.52 403.83,989.47 404.42,992.81 405.09,993.86 405.14,996.5 405.86,1000.05 406.6,1002.04 406.8,1003.28 407.07,1008.36 407.51,1011.45 408.16,1011.84 408.66,1018.65 409.1,1018.71 409.47,1021.58 409.43,1024.66 410.19,1027.92 410.76,1029.62 411.32,1028.75 411.79,1030.4 412.78,1031.61 413.51,1029.41 414.17,1024.49 414.38,1019.68 414.91,1011.02 415.07,1000.6 415.38,986.48 416.2,977.24 416.63,972.25 417.24,962.95 417.36,954.67 417.64,942.7 418.1,921.55 418.86,897.08 418.77,872.11 420.03,850.67 420.06,835.88 420.62,830.43 421.01,831.96 421.91,839.48 421.66,853.64 422.61,872.52 423,890.91 423.64,908.26 424.01,926.19 424,938.47 424.32,947.31 424.64,959.09 425.54,966.39 426.19,973.27 426.57,980.44 426.89,990.33 427.56,993.72 427.55,998.61 427.95,1004.31 428.45,1009.61 428.84,1012.77 429.18,1015.71 429.87,1017.73 429.61,1020.37 430.15,1021.47 430.84,1024.47 431.29,1026.03 431.69,1026.45 432.26,1025.22 432.63,1027.23 433.37,1026.13 433.58,1026.02 433.57,1023.37 434.39,1023.29 434.78,1022.09 435.08,1022.46 436.05,1019.58 436.08,1017.86 436.34,1015.94 437.11,1015.89 438.07,1011.5 438.13,1009.02 439,1007.78 439.18,1005.01 439.9,1004.04 440.09,1001.18 440.53,997.59 440.17,994.34 440.98,991.72 441.43,990.28 442.14,986.4 442.88,983.69 443.29,977.48 443.71,975.77 443.58,973.76 444.24,971.52 444.89,968.41 445.5,964.7 445.88,959.56 446.08,958.39 446.41,954.25 447.43,949.64 447.43,947.78 448.08,945.13 448.57,942.61 449.13,940.08 449.3,936.33 449.66,933.05 450.34,929.4 450.64,926.86 451.34,922.66 451.41,921.61 452.12,917.88 452.37,916.03 453.62,912.6 453.16,908.69 453.91,906.13 454.41,903.34 454.81,900.62 455.1,895.06 455.63,894.03 456.27,894.42 457.11,889.78 457.52,888.57 458.1,883.85 458.03,880.19 458.65,879 459.36,876.43 459.65,873.51 460.03,873.27 460.46,871.17 461.08,866.55 461.23,867.13 461.87,863.75 462.07,859.27 462.88,859.53 463.29,856.67 463.62,854.19 463.78,850.36 464.5,850.58 465.34,847.27 465.31,848.13 465.96,843.07 465.96,840.67 466.56,840.95 467.24,837.31 467.9,838.42 468.34,833.97 468.48,834.03 469.48,830.37 468.92,829.16 469.65,828.17 470.66,825.55 471.17,825.48 471.72,822.28 471.61,823.04 471.95,820.88 472.39,816.48 472.96,819.07 473.71,815.67 473.99,812.91 474.44,812.75 475.11,811.17 475.39,810.59 475.93,809.3 476.66,808.37 476.65,804.27 477.28,804.74 477.55,802.48 478.32,800.22 478.38,799.94 478.88,798.49 479.67,799.02 479.57,797.1 480.82,796.72 481.03,795.06 481.32,794.22 481.73,793.51 482.37,790.92 482.8,790.55 482.97,789.45 483.66,787.95 483.91,786.28 484.43,786.68 484.99,785.98 485.46,786.31 485.84,783.29 486.34,782.31 486.73,779.63 487.21,779.76 488.03,780.23 488.46,779.99 488.46,777.12 488.67,777.43 489.7,776.45 490.36,775.84 490.42,773.26 490.99,770.64 491.38,770.62 491.89,770.89 492.19,767.8 492.73,767.52 493.15,765.69 493.6,765.15 494.13,763.24 494.3,765.6 495.22,762.57 495.49,762.76 495.96,762.51 496.25,760.81 496.47,759.16 497.27,759.06 497.66,757.86 497.76,758.75 498.86,757.25 499.38,758.84 499.51,756.43 500.1,757.01 500.73,754.69 501.04,753.06 500.89,754.36 502.05,755.55 501.97,755.01 502.67,754.81 503.47,752.27 503.52,751.77 503.86,751.83 504.54,750.69 504.97,751.28 505.12,751.09 506.17,750.65 506.38,747.83 506.81,750.14 507.3,745.11 507.76,746.48 508.42,745.6 508.62,745.58 509.01,744.58 509.64,745.79 510.06,742.66 510.58,743.99 510.79,740.98 511.46,741.83 511.93,741.66 512.14,741.84 512.83,738.49 513.2,736.51 513.88,741.09 514.37,737.16 514.62,737.5 514.86,737.2 515.48,738.78 515.81,737.32 516.27,737.5 517.03,737.27 517.38,735.78 517.71,734.43 518.06,736.18 518.7,735.42 519.31,734.27 519.66,731.14 520.06,732.66 520.52,733.86 521.13,732.29 521.52,734.08 521.88,736.32 522.03,732.73 522.86,733.02 523.25,733.49 523.67,734.57 524.29,729.02 524.48,731.1 525.08,733.57 525.52,731.34 525.77,728.74 526.38,731.58 526.88,728.7 527.46,731.51 527.84,731.28 528.23,729.04 528.78,727.52 528.88,729.42 529.54,727.7 529.95,727.27 530.57,726.32 531.17,726 531.5,724.84 531.99,726.88 532.43,726.97 532.97,723.6 533.1,722.65 533.75,724.94 534.05,725.2 534.55,723.73 535.14,724.18 535.61,723.3 535.96,721.84 536.55,721.01 536.88,720.01 537.32,720.74 537.79,718.12 538.25,722.66 538.82,718.76 539.27,720.66 539.57,720.64 540.04,719.83 540.47,719.82 541.03,718.57 541.47,719.04 541.94,720.92 542.23,720.88 542.82,718 543.19,719.86 543.6,717.52 544.16,720.05 544.58,720.37 545.12,718.33 545.57,722.48 545.98,718.33 546.49,722.05 546.92,717.61 547.34,721.01 547.72,716.85 548.35,718.7 548.8,717.11 549.26,719.21 549.53,717.13 549.99,717.69 550.55,718.02 551.06,715.92 551.44,716.04 552,716.74 552.26,714.46 552.86,715.93 553.1,712.31 553.65,717.71 554.08,715.89 554.68,711.5 555.03,712.15 555.54,712.47 556.06,713.53 556.4,713.6 556.98,713.9 557.28,713.88 557.92,710.23 558.19,712.13 558.63,711.52 559.21,712.63 559.74,711.44 559.95,708.82 560.62,711.05 561.09,715.97 561.48,712.4 561.81,714.51 562.29,712.81 562.85,712.62 563.11,713.26 563.81,712.83 564.31,714.79 564.55,712.86 565.01,710.59 565.6,714.97 565.96,714.56 566.5,713.02 566.88,713.47 567.34,714.84 567.82,714.23 568.32,712.03 568.77,715.69 569.19,717.52 569.73,713.37 570.19,711.61 570.6,714.67 570.93,714.9 571.43,710.83 571.91,709.61 572.4,709.6 572.91,710.56 573.25,709.13 573.81,709.8 574.13,709.41 574.67,707.15 575.08,709.96 575.55,711.22 576.08,705.06 576.45,707.53 576.93,706.75 577.47,705.93 577.85,707 578.22,704.91 578.69,707.83 579.18,705.81 579.67,704.64 580.12,707.07 580.49,706.64 580.97,708.9 581.42,706.93 581.93,706.23 582.4,709.96 582.83,707.29 583.32,707.71 583.74,709.73 584.21,706.53 584.72,707.44 585.15,706.57 585.55,711.32 586.01,707.1 586.53,706.96 586.94,707.17 587.37,712.46 587.86,711.43 588.25,708.64 588.77,708.79 589.19,714.07 589.68,709.13 590.2,710.23 590.59,708.92 591,714.24 591.43,708.74 591.95,707.39 592.39,709.92 592.81,709.97 593.29,708.58 593.76,707.58 594.18,705.5 594.67,706.86 595.14,711.17 595.56,704.56 596.08,709.12 596.47,710.42 596.92,708.41 597.43,706.16 597.85,707.25 598.29,707.04 598.74,702.27 599.24,705.25 599.66,702.36 600.12,700.3 600.54,705.43 601.01,702.31 601.49,704.17 601.92,701.54 602.4,705.72 602.89,705.2 603.32,703.82 603.8,703.2 604.21,703.9 604.7,705.97 605.13,705 605.61,705.03 606.02,708.06 606.51,708.02 606.98,709.41 607.42,709.33 607.88,706.04 608.32,708.42 608.73,706.89 609.22,706.3 609.67,709.05 610.16,708.38 610.6,709.6 611.04,708.07 611.53,709.8 611.97,708.16 612.39,708.65 612.9,709.72 613.34,710.63 613.84,706.53 614.26,703.24 614.67,703.42 615.17,707.98 615.61,708.47 616.05,706.43 616.52,707.25 616.98,703.67 617.42,702.98 617.87,706.02 618.35,704.84 618.8,704.28 619.23,704.19 619.72,702.88 620.15,699.86 620.64,704.6 621.09,702.98 621.52,701.27 621.99,701.74 622.42,704.24 622.89,701.65 623.31,701.06 623.78,704.05 624.25,705.12 624.72,705.59 625.17,705.9 625.63,705.45 626.09,704.91 626.52,702.17 626.98,705.4 627.43,704.92 627.89,709.17 628.32,705.76 628.79,707.61 629.28,708.59 629.72,705.41 630.16,705.55 630.63,709.9 631.08,709.97 631.53,705.04 631.98,708.2 632.43,710.47 632.9,706.67 633.35,708.06 633.81,707.99 634.29,706.97 634.72,706.32 635.18,702.45 635.65,704.83 636.1,705.93 636.51,706.51 636.99,708.72 637.43,709.47 637.89,707.14 638.37,704.74 638.84,702.03 639.28,703.18 639.69,705.15 640.17,702.6 640.63,703.02 641.08,704.72 641.57,700.63 642.01,700.75 642.47,704.4 642.91,702.66 643.38,703.3 643.82,702.12 644.25,699.96 644.73,704.07 645.17,701.16 645.61,702.92 646.06,703.27 646.54,703.42 647,701.05 647.49,704.25 647.9,701.46 648.36,704.88 648.82,703.86 649.3,707.54 649.71,704.51 650.19,705.67 650.67,706 651.13,703.18 651.54,706.39 651.98,706.97 652.46,705.73 652.92,706.78 653.4,707.42 653.85,707.35 654.29,707.38 654.72,708.06 655.2,707.87 655.63,705.14 656.09,705.71 656.56,704.72 657.05,703.48 657.5,702.98 657.95,701.43 658.35,703.49 658.85,704.37 659.28,701.56 659.76,701.06 660.22,700.13 660.67,699.01 661.1,699.2 661.55,701.17 662.03,697.84 662.5,703.41 662.92,701.97 663.37,700.63 663.84,699.5 664.29,702.22 664.77,700.14 665.23,704.27 665.68,700.73 666.11,702.09 666.56,699.98 667.02,703.49 667.49,702.77 667.95,703.2 668.4,705.43 668.84,701.38 669.31,700.15 669.77,700.32 670.21,702.8 670.65,703.83 671.13,704.27 671.59,706.3 672.04,707.65 672.47,704.57 672.95,708.18 673.4,705.17 673.85,704.4 674.31,707.3 674.76,707.31 675.21,706.81 675.68,703.74 676.13,707.63 676.59,705.54 677.02,703.19 677.5,704.32 677.97,704.37 678.39,703.48 678.86,702.26 679.32,705.78 679.77,701.7 680.24,702.6 680.67,701.32 681.15,701.24 681.6,697.74 682.04,703.84 682.51,702.71 682.97,699.92 683.43,701.85 683.86,699.89 684.33,701.11 684.78,699.57 685.22,697.1 685.72,698.86 686.16,699.06 686.61,699.15 687.05,697.24 687.51,700.83 687.96,702.6 688.44,702.54 688.87,700.82 689.33,705.52 689.79,702.43 690.24,703.69 690.7,702.83 691.15,702.21 691.6,704.24 692.06,702.59 692.49,702.72 692.98,701.63 693.43,705.39 693.88,706.34 694.34,705.3 694.78,704.74 695.24,705.03 695.69,706.81 696.15,704.41 696.6,705.04 697.06,705.51 697.53,704.48 697.98,705.08 698.42,705.2 698.87,703.11 699.35,706.72 699.79,701.66 700.26,702.53 700.72,702.3 701.17,701.3 701.6,699.09 702.05,700.73 702.54,698.68 702.97,700.05 703.42,700.84 703.88,700.97 704.34,699.32 704.81,698.52 705.25,702.84 705.7,698.83 706.17,702.1 706.61,697.64 707.1,699.5 707.52,701.91 707.99,697.79 708.45,697.52 708.9,701.72 709.33,703.18 709.8,702.18 710.27,702.19 710.71,700.83 711.16,702.95 711.62,704.35 712.06,702.55 712.54,700.68 713,705.68 713.45,702.03 713.89,702.12 714.37,703.81 714.82,706.61 715.28,702.63 715.72,704.96 716.18,708.04 716.63,705.34 717.1,704.06 717.54,702.61 717.99,701 718.45,705.81 718.91,700.8 719.36,702.92 719.82,703.93 720.26,700.87 720.73,701.18 721.18,703.06 721.64,701.16 722.09,702.4 722.55,701.91 723,702.29 723.47,697.01 723.9,699.77 724.37,699.12 724.83,698.5 725.26,695.66 725.72,698.25 726.19,700.65 726.66,700.13 727.11,697.33 727.55,698.58 728,698.76 728.46,700.69 728.91,698.68 729.37,698.99 729.83,698.1 730.28,702.16 730.74,704.46 731.2,702.2 731.64,702.99 732.1,703.56 732.56,700.31 733.01,703.8 733.47,705.73 733.93,705.37 734.38,703.54 734.82,702.79 735.29,703.06 735.74,706.33 736.2,703.35 736.65,704.63 737.11,704.84 737.56,703.81 738.01,702.54 738.47,704.54 738.93,702.21 739.37,702.52 739.84,704.55 740.29,703.45 740.76,697.84 741.19,699.36 741.66,702.11 742.12,698.66 742.57,701.47 743.02,701.72 743.49,701.42 743.93,702.33 744.39,696.74 744.84,697.23 745.3,697.72" fill="none" stroke="#0d0d0d" stroke-width="3.6" stroke-linejoin="round"/>
<polyline points="95.49,715.56 95.94,715.28 96.4,717.47 96.87,715.52 97.31,714.3 97.76,713.91 98.24,714.33 98.69,712.79 99.15,715.75 99.6,716.09 100.08,713.01 100.52,714.3 100.97,714.63 101.42,716.74 101.89,714.3 102.33,715.16 102.79,714.38 103.23,715.08 103.72,716.03 104.14,723.16 104.54,719.89 105.07,719.23 105.51,719.35 105.96,716.85 106.43,718.07 106.83,721.32 107.3,720.46 107.78,722.7 108.22,721.17 108.71,722.38 109.16,721.73 109.6,722.54 110.08,722.3 110.48,723.49 110.97,720.56 111.44,720.9 111.91,719.91 112.35,721.04 112.82,721.78 113.26,720.75 113.7,717.1 114.16,718.87 114.66,718.68 115.11,718.68 115.53,717.62 115.99,717.79 116.44,719.54 116.86,718.67 117.33,719.95 117.8,714.64 118.24,715.36 118.7,714.58 119.14,718.21 119.62,717.56 120.09,715.28 120.53,715.38 121,716.86 121.44,718.86 121.88,719.5 122.35,715.96 122.77,719.35 123.24,717.96 123.71,721.43 124.16,723.7 124.63,720.43 125.06,720.79 125.55,716.01 126,721.89 126.45,718.22 126.89,720.3 127.33,723.15 127.82,719.12 128.26,726.29 128.77,721.38 129.19,723.91 129.66,721.72 130.07,723.91 130.54,721.76 130.99,722.68 131.4,718.74 131.91,724.36 132.35,723.9 132.81,722.06 133.28,721.95 133.74,720.57 134.19,721.09 134.67,722.63 135.08,722.37 135.56,722.69 135.99,722.87 136.45,722.36 136.93,720.86 137.38,720.34 137.83,719.23 138.28,721.28 138.74,717.55 139.21,717.22 139.65,719.01 140.09,715.86 140.57,717.49 141.01,715.2 141.47,716.21 141.92,723.64 142.39,714.74 142.83,719.27 143.27,716.6 143.71,715.69 144.17,715.24 144.65,719.08 145.09,717.56 145.57,718.46 146.01,721.54 146.47,716.75 146.92,715.73 147.42,720.04 147.85,722.61 148.3,721.17 148.76,723.52 149.15,723.81 149.64,722.69 150.13,721.13 150.59,722.96 151,725.04 151.44,724.27 151.9,723.76 152.39,724.64 152.83,724.02 153.31,725.49 153.74,723.64 154.21,726.82 154.67,724.51 155.11,723.94 155.56,720.36 156.01,719.52 156.47,722.55 156.93,721.77 157.41,725.36 157.84,720.23 158.29,719.64 158.73,722.62 159.19,717.33 159.67,720.72 160.12,718.12 160.6,715.29 161.03,716.49 161.48,719.09 161.96,718.94 162.41,718.29 162.87,717.13 163.28,718.72 163.76,719.11 164.22,718.76 164.67,721.52 165.08,720.5 165.58,717.37 166.03,718.19 166.51,717.89 166.94,720.28 167.4,721.99 167.85,723.2 168.29,721.22 168.78,720.37 169.26,720.03 169.66,719.71 170.16,726.16 170.62,723.21 171.01,723.24 171.47,727.62 171.93,723.58 172.39,724.76 172.85,725.7 173.29,721.87 173.76,722.77 174.24,730.7 174.7,725.62 175.13,721.58 175.57,723.87 176.06,724.61 176.52,725.62 176.94,724.27 177.42,722.03 177.84,723.62 178.3,725.48 178.78,722.5 179.23,721.09 179.71,720.77 180.14,718.58 180.6,724.29 181.08,722.55 181.47,721.4 181.98,721.7 182.45,723.32 182.87,720.23 183.36,718.38 183.75,722.25 184.21,716.35 184.65,719.65 185.19,722.21 185.58,722.86 186.07,720.21 186.46,720.42 186.99,720.65 187.38,720.91 187.86,721.61 188.25,724.74 188.75,723.76 189.27,726.38 189.65,724.98 190.2,723.85 190.68,724.62 191.06,728.98 191.47,724.44 191.96,727.44 192.44,724.5 192.81,727.22 193.31,725.85 193.8,725.83 194.26,725.22 194.63,725.45 195.16,726.92 195.62,728.9 196.11,727.08 196.54,724.87 197.02,726.84 197.46,721.37 197.85,725.15 198.47,728.73 198.83,720.62 199.27,723.89 199.69,725.84 200.24,727.11 200.62,725.78 201.1,722.91 201.54,725.99 201.98,725.69 202.36,722.41 202.87,723.02 203.44,721.37 203.82,722.41 204.22,725.17 204.67,721.07 205.12,725.07 205.6,723.87 206.07,724.11 206.61,722.83 207.01,725.5 207.54,724.38 207.81,724.61 208.34,722.77 208.7,725.53 209.14,725.18 209.73,727.49 210.07,726.69 210.63,726.6 211.03,726.4 211.61,726.64 212.06,726.86 212.36,729.54 212.95,726.36 213.36,726.6 213.84,729.77 214.24,731.93 214.8,730.35 215.24,729.64 215.63,733.4 215.99,730.5 216.4,729.05 217.06,730.19 217.47,731.55 217.82,729.28 218.3,731.13 218.98,729.24 219.2,729.81 219.75,729.84 220.27,725.11 220.79,730.85 221.12,729.45 221.58,728.88 221.93,728.18 222.49,727.34 222.91,729.59 223.3,727.39 223.75,728.79 224.36,724.67 224.8,730.44 225.37,727.61 225.62,727.77 225.97,725.78 226.69,726.05 227.05,728.26 227.58,722.45 227.88,729.89 228.35,726.9 228.93,727.17 229.23,728.8 229.74,732.19 230.2,729.81 230.71,731.67 231.18,728.28 231.51,729.82 232.08,732.64 232.46,729.7 232.92,727.75 233.4,731.27 233.9,732.09 234.29,732.69 234.78,734.61 235.15,734.87 235.57,733.4 236.04,735.12 236.59,734.24 237.03,734.76 237.49,733.13 237.84,735.75 238.34,734.16 238.85,736.59 239.35,732.26 239.79,736.21 240.19,732.26 240.62,734.53 241.01,732.01 241.54,732.02 242.12,734.4 242.47,730.45 242.9,734.26 243.42,735.98 244.06,733.63 244.27,730.03 244.69,733.46 245.09,732.28 245.52,732.72 246.16,732.46 246.61,734.25 246.99,735.37 247.52,733.4 247.99,735.31 248.34,732.64 248.88,737.44 249.38,732.61 249.65,732.82 250.21,734.2 250.68,736.62 250.99,737.54 251.78,734.07 252.13,737.27 252.65,738.02 252.83,741.76 253.4,737.86 253.96,736.48 254.28,736.31 254.95,738.86 255.14,740.22 255.68,740.06 256.11,739.8 256.46,738.87 257.03,740.16 257.5,740.34 257.87,744.23 258.37,740.16 258.95,738.45 259.4,739.32 259.82,739.6 260.29,736.56 260.8,739.53 261.13,739.65 261.54,739.53 262.06,737.48 262.52,738.64 262.91,739.57 263.44,740.39 263.9,739.64 264.42,737.05 264.71,740.08 265.35,741.38 265.68,738.61 266.03,735.03 266.7,740.37 267.1,740.81 267.53,739.32 267.88,738.79 268.5,741.4 268.8,741.15 269.25,740.05 269.79,740.16 270.32,741.09 270.7,742.86 271.17,741.67 271.54,740.05 272.14,741.33 272.49,742.72 273.03,743.47 273.66,742.42 273.9,744.83 274.26,743.15 274.68,746.14 275.17,747.61 275.63,746.62 276.18,745.9 276.72,746.91 277.07,742.99 277.5,748.89 278.03,745.44 278.37,745.39 278.87,746.37 279.42,745.53 279.9,747.07 280.23,746.71 280.68,747.09 281.13,749 281.65,747.69 282.2,745.9 282.54,746.35 282.89,745.07 283.53,747.82 283.99,744.45 284.45,745.54 284.88,748.45 285.23,745.27 285.63,745.89 286.22,746.46 286.6,743.2 287.09,745.95 287.65,747.16 287.83,745.94 288.3,746.67 288.77,744.53 289.29,746.14 289.8,745.79 290.3,746.57 290.65,744.94 291.29,746.31 291.6,748.39 292.16,747.05 292.7,749.26 293.11,750.93 293.42,749.42 293.9,749.44 294.41,750.81 294.9,748.98 295.16,750.07 295.62,749.68 296.12,750.35 296.75,754.6 297.12,751.45 297.54,752.97 297.85,752.85 298.31,753.08 298.95,753.56 299.25,753.9 299.93,754.93 300.18,754.2 300.75,755.4 301.27,754.72 301.71,754.57 302.1,754.79 302.81,757.48 303,753.61 303.52,755.12 303.88,756.45 304.5,756.21 304.98,754.03 305.44,753.85 305.78,755.3 306.32,757 306.52,756.44 307.06,755.52 307.65,755.27 307.73,755.7 308.26,756.08 309.02,754.7 309.41,755.05 309.8,757.21 310.26,760.26 310.95,758.48 311.27,756.29 311.61,757.79 311.91,759.71 312.58,759.06 312.86,761.22 313.45,760.56 313.82,761.18 314.57,761.01 314.74,763.86 315.29,764.18 315.96,764.82 315.88,765.82 316.59,765.24 316.88,767.48 317.81,765.05 318.09,767.83 318.47,766.78 318.96,767.14 319.51,767.31 319.94,769.35 320.32,769.26 320.91,770.76 321.28,768.59 321.97,770.32 321.96,769.11 322.53,771.25 323.16,772.73 323.62,770.02 323.87,772.88 324.61,770.36 325.01,773.9 325.58,772.49 325.73,773.29 326.42,771.53 326.67,775.3 327.19,773.5 327.71,773.39 327.98,775.68 328.45,773.88 329.24,774.97 329.26,775.31 329.96,775.29 330.54,778.15 331.02,779.45 331.2,776.7 331.52,780.48 332.32,780.48 332.51,779.28 333.05,781.18 333.39,783.55 333.73,780.97 334.32,781.7 334.83,781.78 335.04,786.44 336.01,785.74 336.19,784.14 336.95,785.6 337.33,787.29 337.51,786.78 338.05,789.17 338.43,788.37 338.96,790.43 339.43,789.86 339.94,790.26 340.4,789.79 340.81,791.47 341.13,792.56 341.43,790.11 342.18,793.23 342.57,794.59 343.17,794.57 343.41,794.32 344.01,794.04 344.26,793.42 344.94,794.06 345.29,795.2 345.86,794.84 346.69,796.85 346.84,796.64 347.14,797.45 347.66,799.86 348.07,799.17 348.51,800.36 348.99,798.1 349.43,801.48 349.89,800.49 350.52,804.07 350.97,801.1 351.56,802.74 351.79,805.4 352.24,807.72 353.05,804.4 352.81,806.68 353.57,806.95 354.07,810.63 354.55,812.06 354.78,810.83 355.28,812.43 355.54,811.44 356.16,811.75 356.36,814.59 357.31,814.34 357.59,816.61 357.89,816.35 358.79,819.06 358.98,818.28 359.26,819.35 359.98,821.37 360.26,821.35 360.44,823.6 361.27,822.2 362,822.69 361.84,825.67 362.54,826.1 363.21,825.76 363.59,826.03 364.17,827.39 364.4,829.03 365.16,829.71 365.36,829.71 365.79,830.94 366.35,833.56 366.66,835.22 367.11,836.78 367.54,835.35 367.92,836.13 368.39,839.1 368.72,839.34 369.56,841.74 369.97,843.16 369.96,843.04 370.72,844.65 371.28,844.43 371.52,845.87 372.27,849.74 372.51,852.68 373.09,850.08 373.35,851.84 374.04,854.39 374.49,857.22 375.39,855.96 375.69,859.51 375.85,862.5 376.29,860.16 376.74,862.92 377.24,866.51 377.18,868.53 378.09,868.03 378.68,871.41 379.01,873.02 379.21,872.09 379.59,875.03 379.99,876.07 381.17,877.9 381.43,880 382.02,880.08 382.12,880.78 382.49,882.85 382.77,884.42 383.63,887.15 383.71,889.91 384.29,889.89 385.17,891.21 385.69,892.93 385.78,895.84 386.47,896.42 386.77,898.18 387.3,899.04 387.37,901.34 388.17,902.63 388.61,905.91 389.1,906.44 389.55,909.37 389.95,910.27 390.5,911.79 390.67,911.42 391.37,914.82 391.55,915.86 392.23,919.75 392.56,920.95 392.96,922.88 393.44,924.19 393.9,927.71 394.65,926.12 394.78,930.99 395.47,931.86 395.96,933.26 396.78,935.64 396.97,938.46 397.01,940.97 397.41,943.97 398.14,944.32 398.68,946.47 398.89,950.58 399.7,952.98 399.52,953.04 399.94,955.71 400.68,959.22 401.45,961.18 401.97,964.9 402.24,966.23 403,969.26 403.24,976.07 403.55,977.11 404.39,980.69 404.57,982.52 404.77,984.52 405.48,989.47 405.62,992.81 406.57,993.86 406.72,996.5 406.82,1000.05 407.97,1002.04 408.23,1003.28 408.48,1008.36 409.08,1011.45 409.66,1011.84 409.95,1018.65 410.47,1018.71 411.11,1021.58 411.23,1024.66 411.78,1027.92 412.61,1029.62 412.63,1028.75 413.07,1030.4 412.91,1031.61 413.57,1029.41 413.62,1024.49 414.21,1019.68 414.57,1011.02 415.61,1000.6 415.93,986.48 416.17,977.24 416.82,972.25 416.66,962.95 417.26,954.67 417.98,942.7 418.69,921.55 418.45,897.08 419.35,872.11 419.65,850.67 420.11,835.88 420.66,830.43 420.83,831.96 421.9,839.48 421.86,853.64 422.54,872.52 422.63,890.91 423.19,908.26 423.39,926.19 424.63,938.47 425.38,947.31 425.2,959.09 425.73,966.39 426.58,973.27 426.4,980.44 427.07,990.33 427.3,993.72 428.12,998.61 429.18,1004.31 429.78,1009.61 430.22,1012.77 430.2,1015.71 430.76,1017.73 431.4,1020.37 431.93,1021.47 432.24,1024.47 432.83,1026.03 433.3,1026.45 433.58,1025.22 434.08,1027.23 434.47,1026.13 434.78,1026.02 435.64,1023.37 436.27,1023.29 436.32,1022.09 437.18,1022.46 437.61,1019.58 437.6,1017.86 438.11,1015.94 438.52,1015.89 439.3,1011.5 439.84,1009.02 439.89,1007.78 440.11,1005.01 440.93,1004.04 441.66,1001.18 441.91,997.59 442.28,994.34 442.36,991.72 443.33,990.28 443.57,986.4 444.11,983.69 444.58,977.48 444.9,975.77 445.25,973.76 445.94,971.52 446.5,968.41 447.22,964.7 447.22,959.56 447.5,958.39 448.62,954.25 448.89,949.64 448.93,947.78 449.5,945.13 450.03,942.61 450.8,940.08 450.92,936.33 451.71,933.05 451.89,929.4 452.12,926.86 452.79,922.66 452.82,921.61 453.51,917.88 454.25,916.03 454.38,912.6 454.94,908.69 455.19,906.13 455.93,903.34 456,900.62 456.76,895.06 457.47,894.03 457.63,894.42 458.41,889.78 458.75,888.57 459.26,883.85 459.41,880.19 460.01,879 460.25,876.43 460.77,873.51 461.28,873.27 461.96,871.17 462.65,866.55 462.46,867.13 463.54,863.75 463.15,859.27 463.66,859.53 464.95,856.67 465.3,854.19 465.53,850.36 465.99,850.58 466.4,847.27 466.37,848.13 467.45,843.07 467.66,840.67 467.75,840.95 468.78,837.31 469.28,838.42 469.86,833.97 470.26,834.03 470.43,830.37 471.09,829.16 471.39,828.17 471.89,825.55 472.7,825.48 472.7,822.28 472.7,823.04 473.58,820.88 473.81,816.48 474.37,819.07 475.34,815.67 475.58,812.91 475.79,812.75 476.37,811.17 477.07,810.59 477.35,809.3 478.12,808.37 478.02,804.27 478.73,804.74 479.16,802.48 479.41,800.22 480.11,799.94 480.64,798.49 481.19,799.02 481.01,797.1 481.89,796.72 482.44,795.06 483.01,794.22 483.31,793.51 483.69,790.92 484,790.55 484.88,789.45 485.03,787.95 485.8,786.28 485.98,786.68 486.47,785.98 486.71,786.31 487.07,783.29 487.84,782.31 488.2,779.63 488.95,779.76 488.88,780.23 489.35,779.99 490.25,777.12 490.34,777.43 490.75,776.45 491.02,775.84 491.69,773.26 492.43,770.64 492.95,770.62 492.88,770.89 493.75,767.8 493.96,767.52 494.46,765.69 495.16,765.15 495.47,763.24 496.01,765.6 496.52,762.57 496.97,762.76 497.38,762.51 497.93,760.81 498.14,759.16 498.52,759.06 498.99,757.86 499.6,758.75 499.91,757.25 500.54,758.84 500.93,756.43 501.68,757.01 501.71,754.69 502.53,753.06 502.9,754.36 503.63,755.55 503.59,755.01 504.24,754.81 504.51,752.27 505,751.77 505.57,751.83 506.13,750.69 506.67,751.28 506.83,751.09 507.23,750.65 507.81,747.83 508.43,750.14 508.8,745.11 509.27,746.48 509.77,745.6 510.08,745.58 510.62,744.58 511.3,745.79 511.53,742.66 511.8,743.99 512.29,740.98 512.77,741.83 513.31,741.66 513.81,741.84 513.94,738.49 514.51,736.51 515.02,741.09 515.38,737.16 515.69,737.5 516.26,737.2 517.05,738.78 517.16,737.32 518.04,737.5 518.27,737.27 518.74,735.78 519.44,734.43 519.9,736.18 519.91,735.42 520.68,734.27 521.08,731.14 521.35,732.66 521.85,733.86 522.23,732.29 523.04,734.08 523.62,736.32 523.53,732.73 524.07,733.02 524.61,733.49 524.96,734.57 525.68,729.02 526.03,731.1 526.42,733.57 526.69,731.34 527.15,728.74 527.82,731.58 528.02,728.7 528.83,731.51 529.12,731.28 529.76,729.04 530.13,727.52 530.62,729.42 531.05,727.7 531.37,727.27 531.84,726.32 532.32,726 532.84,724.84 533.37,726.88 533.71,726.97 534.35,723.6 534.59,722.65 534.96,724.94 535.47,725.2 535.93,723.73 536.63,724.18 537.01,723.3 537.42,721.84 537.82,721.01 538.31,720.01 538.6,720.74 539.46,718.12 539.71,722.66 540.22,718.76 540.69,720.66 541.01,720.64 541.45,719.83 541.82,719.82 542.37,718.57 542.82,719.04 543.1,720.92 543.77,720.88 544.07,718 544.63,719.86 545.34,717.52 545.74,720.05 545.87,720.37 546.49,718.33 546.96,722.48 547.54,718.33 548.03,722.05 548.3,717.61 548.7,721.01 549.24,716.85 549.71,718.7 549.94,717.11 550.6,719.21 550.99,717.13 551.63,717.69 551.99,718.02 552.41,715.92 552.92,716.04 553.29,716.74 553.77,714.46 554.24,715.93 554.51,712.31 555.2,717.71 555.66,715.89 556.09,711.5 556.58,712.15 556.84,712.47 557.41,713.53 557.83,713.6 558.29,713.9 558.66,713.88 559.14,710.23 559.66,712.13 560.04,711.52 560.55,712.63 560.94,711.44 561.52,708.82 562.1,711.05 562.43,715.97 562.85,712.4 563.21,714.51 563.71,712.81 564.27,712.62 564.68,713.26 565.11,712.83 565.45,714.79 565.96,712.86 566.52,710.59 566.88,714.97 567.46,714.56 567.86,713.02 568.25,713.47 568.89,714.84 569.06,714.23 569.65,712.03 570.04,715.69 570.56,717.52 571.08,713.37 571.58,711.61 571.98,714.67 572.4,714.9 572.88,710.83 573.25,709.61 573.77,709.6 574.27,710.56 574.7,709.13 575.18,709.8 575.57,709.41 576.08,707.15 576.5,709.96 576.91,711.22 577.33,705.06 577.75,707.53 578.28,706.75 578.75,705.93 579.24,707 579.65,704.91 580.08,707.83 580.62,705.81 581.08,704.64 581.53,707.07 581.98,706.64 582.39,708.9 582.9,706.93 583.35,706.23 583.83,709.96 584.23,707.29 584.65,707.71 585.2,709.73 585.65,706.53 586.05,707.44 586.42,706.57 586.94,711.32 587.47,707.1 587.85,706.96 588.31,707.17 588.83,712.46 589.25,711.43 589.7,708.64 590.13,708.79 590.62,714.07 591.07,709.13 591.55,710.23 591.91,708.92 592.47,714.24 592.95,708.74 593.36,707.39 593.79,709.92 594.29,709.97 594.75,708.58 595.14,707.58 595.62,705.5 596.08,706.86 596.5,711.17 596.98,704.56 597.47,709.12 597.95,710.42 598.3,708.41 598.82,706.16 599.22,707.25 599.7,707.04 600.19,702.27 600.6,705.25 601.09,702.36 601.52,700.3 602.01,705.43 602.41,702.31 602.95,704.17 603.33,701.54 603.79,705.72 604.23,705.2 604.75,703.82 605.18,703.2 605.63,703.9 606.12,705.97 606.51,705 606.97,705.03 607.46,708.06 607.89,708.02 608.35,709.41 608.81,709.33 609.26,706.04 609.73,708.42 610.16,706.89 610.66,706.3 611.09,709.05 611.53,708.38 611.99,709.6 612.46,708.07 612.91,709.8 613.38,708.16 613.85,708.65 614.28,709.72 614.7,710.63 615.19,706.53 615.64,703.24 616.1,703.42 616.55,707.98 616.98,708.47 617.46,706.43 617.92,707.25 618.37,703.67 618.85,702.98 619.31,706.02 619.71,704.84 620.22,704.28 620.63,704.19 621.09,702.88 621.6,699.86 622.04,704.6 622.48,702.98 622.91,701.27 623.38,701.74 623.84,704.24 624.27,701.65 624.75,701.06 625.18,704.05 625.67,705.12 626.11,705.59 626.55,705.9 627.04,705.45 627.49,704.91 627.95,702.17 628.36,705.4 628.83,704.92 629.29,709.17 629.72,705.76 630.2,707.61 630.66,708.59 631.11,705.41 631.57,705.55 632,709.9 632.49,709.97 632.95,705.04 633.37,708.2 633.83,710.47 634.3,706.67 634.74,708.06 635.2,707.99 635.66,706.97 636.1,706.32 636.55,702.45 637.04,704.83 637.47,705.93 637.95,706.51 638.38,708.72 638.86,709.47 639.3,707.14 639.74,704.74 640.22,702.03 640.67,703.18 641.11,705.15 641.61,702.6 642.06,703.02 642.47,704.72 642.94,700.63 643.39,700.75 643.84,704.4 644.32,702.66 644.78,703.3 645.24,702.12 645.65,699.96 646.14,704.07 646.61,701.16 647,702.92 647.49,703.27 647.94,703.42 648.42,701.05 648.83,704.25 649.31,701.46 649.77,704.88 650.21,703.86 650.68,707.54 651.11,704.51 651.57,705.67 652.03,706 652.52,703.18 652.98,706.39 653.41,706.97 653.86,705.73 654.29,706.78 654.75,707.42 655.23,707.35 655.71,707.38 656.13,708.06 656.58,707.87 657.04,705.14 657.52,705.71 657.98,704.72 658.42,703.48 658.86,702.98 659.33,701.43 659.77,703.49 660.24,704.37 660.71,701.56 661.16,701.06 661.58,700.13 662.09,699.01 662.56,699.2 662.94,701.17 663.41,697.84 663.89,703.41 664.35,701.97 664.76,700.63 665.27,699.5 665.72,702.22 666.16,700.14 666.61,704.27 667.03,700.73 667.52,702.09 667.96,699.98 668.43,703.49 668.88,702.77 669.32,703.2 669.83,705.43 670.29,701.38 670.68,700.15 671.16,700.32 671.6,702.8 672.08,703.83 672.51,704.27 672.99,706.3 673.43,707.65 673.9,704.57 674.32,708.18 674.81,705.17 675.26,704.4 675.72,707.3 676.17,707.31 676.64,706.81 677.09,703.74 677.52,707.63 677.99,705.54 678.43,703.19 678.89,704.32 679.37,704.37 679.79,703.48 680.27,702.26 680.74,705.78 681.18,701.7 681.64,702.6 682.07,701.32 682.53,701.24 682.98,697.74 683.46,703.84 683.9,702.71 684.35,699.92 684.81,701.85 685.28,699.89 685.7,701.11 686.19,699.57 686.63,697.1 687.08,698.86 687.55,699.06 687.99,699.15 688.44,697.24 688.89,700.83 689.37,702.6 689.8,702.54 690.26,700.82 690.72,705.52 691.19,702.43 691.61,703.69 692.09,702.83 692.55,702.21 693,704.24 693.46,702.59 693.92,702.72 694.37,701.63 694.82,705.39 695.28,706.34 695.74,705.3 696.19,704.74 696.65,705.03 697.11,706.81 697.57,704.41 698,705.04 698.45,705.51 698.94,704.48 699.37,705.08 699.81,705.2 700.28,703.11 700.74,706.72 701.21,701.66 701.65,702.53 702.11,702.3 702.56,701.3 703.02,699.09 703.45,700.73 703.92,698.68 704.38,700.05 704.84,700.84 705.3,700.97 705.73,699.32 706.21,698.52 706.66,702.84 707.1,698.83 707.56,702.1 708.02,697.64 708.45,699.5 708.93,701.91 709.38,697.79 709.83,697.52 710.28,701.72 710.75,703.18 711.22,702.18 711.67,702.19 712.13,700.83 712.57,702.95 713.03,704.35 713.47,702.55 713.93,700.68 714.39,705.68 714.85,702.03 715.3,702.12 715.75,703.81 716.22,706.61 716.65,702.63 717.13,704.96 717.58,708.04 718.03,705.34 718.49,704.06 718.94,702.61 719.39,701 719.86,705.81 720.32,700.8 720.77,702.92 721.21,703.93 721.67,700.87 722.13,701.18 722.6,703.06 723.04,701.16 723.5,702.4 723.96,701.91 724.39,702.29 724.86,697.01 725.29,699.77 725.76,699.12 726.22,698.5 726.67,695.66 727.11,698.25 727.58,700.65 728.05,700.13 728.5,697.33 728.95,698.58 729.41,698.76 729.87,700.69 730.32,698.68 730.77,698.99 731.23,698.1 731.7,702.16 732.13,704.46 732.58,702.2 733.04,702.99 733.49,703.56 733.95,700.31 734.42,703.8 734.87,705.73 735.33,705.37 735.78,703.54 736.23,702.79 736.69,703.06 737.14,706.33 737.61,703.35 738.05,704.63 738.5,704.84 738.96,703.81 739.43,702.54 739.87,704.54 740.32,702.21 740.79,702.52 741.24,704.55 741.69,703.45 742.14,697.84 742.6,699.36 743.05,702.11 743.51,698.66 743.97,701.47 744.43,701.72 744.88,701.42 745.32,702.33 745.79,696.74 746.25,697.23 746.71,697.72" fill="none" stroke="#0d0d0d" stroke-width="3.6" stroke-linejoin="round"/>
<polyline points="94.8,697.85 96.68,697.85 98.56,697.84 100.44,697.84 102.32,697.84 104.2,697.84 106.08,697.84 107.96,697.84 109.83,697.85 111.71,697.85 113.59,697.86 115.47,697.87 117.35,697.88 119.23,697.89 121.11,697.9 122.99,697.91 124.87,697.93 126.75,697.94 128.63,697.96 130.51,697.98 132.39,698 134.27,698.02 136.14,698.04 138.02,698.07 139.9,698.1 141.78,698.12 143.66,698.16 145.54,698.19 147.42,698.22 149.3,698.26 151.18,698.3 153.06,698.34 154.94,698.38 156.82,698.42 158.7,698.47 160.58,698.52 162.45,698.57 164.33,698.62 166.21,698.67 168.09,698.73 169.97,698.79 171.85,698.85 173.73,698.92 175.61,698.98 177.49,699.05 179.37,699.13 181.25,699.2 183.13,699.28 185.01,699.36 186.89,699.44 188.77,699.53 190.64,699.62 192.52,699.72 194.4,699.81 196.28,699.91 198.16,700.02 200.04,700.12 201.92,700.24 203.8,700.35 205.68,700.47 207.56,700.59 209.44,700.72 211.32,700.85 213.2,700.99 215.08,701.13 216.95,701.28 218.83,701.43 220.71,701.58 222.59,701.74 224.47,701.91 226.35,702.08 228.23,702.26 230.11,702.45 231.99,702.64 233.87,702.83 235.75,703.04 237.63,703.25 239.51,703.46 241.39,703.69 243.26,703.92 245.14,704.16 247.02,704.41 248.9,704.66 250.78,704.93 252.66,705.21 254.54,705.49 256.42,705.79 258.3,706.09 260.18,706.41 262.06,706.73 263.94,707.07 265.82,707.42 267.7,707.79 269.58,708.16 271.45,708.55 273.33,708.96 275.21,709.37 277.09,709.81 278.97,710.26 280.85,710.72 282.73,711.2 284.61,711.7 286.49,712.22 288.37,712.76 290.25,713.32 292.13,713.91 294.01,714.51 295.89,715.14 297.76,715.79 299.64,716.47 301.52,717.16 303.4,717.87 305.28,718.6 307.16,719.36 309.04,720.14 310.92,720.96 312.8,721.8 314.68,722.69 316.56,723.62 318.44,724.6 320.32,725.63 322.2,726.71 324.07,727.85 325.95,729.06 327.83,730.34 329.71,731.69 331.59,733.12 333.47,734.65 335.35,736.27 337.23,737.99 339.11,739.82 340.99,741.77 342.87,743.84 344.75,746.04 346.63,748.37 348.51,750.84 350.39,753.46 352.26,756.23 354.14,759.19 356.02,762.32 357.9,765.67 359.78,769.22 361.66,773.02 363.54,777.07 365.42,781.39 367.3,786.01 369.18,790.95 371.06,796.23 372.94,801.9 374.82,807.96 374.82,807.96 374.92,808.3 375.02,808.64 375.12,808.98 375.22,809.33 375.32,809.67 375.42,810.02 375.53,810.37 375.63,810.71 375.73,811.06 375.83,811.41 375.93,811.77 376.03,812.12 376.13,812.48 376.24,812.83 376.34,813.19 376.44,813.55 376.54,813.91 376.64,814.27 376.74,814.63 376.84,815 376.95,815.37 377.05,815.73 377.15,816.1 377.25,816.47 377.35,816.84 377.45,817.22 377.55,817.59 377.66,817.97 377.76,818.34 377.86,818.72 377.96,819.1 378.06,819.48 378.16,819.87 378.26,820.25 378.37,820.64 378.47,821.02 378.57,821.41 378.67,821.8 378.77,822.19 378.87,822.59 378.97,822.98 379.08,823.38 379.18,823.78 379.28,824.18 379.38,824.58 379.48,824.98 379.58,825.38 379.68,825.79 379.79,826.19 379.89,826.6 379.99,827.01 380.09,827.42 380.19,827.84 380.29,828.25 380.39,828.67 380.49,829.08 380.6,829.5 380.7,829.92 380.8,830.35 380.9,830.77 381,831.2 381.1,831.62 381.2,832.05 381.31,832.48 381.41,832.91 381.51,833.35 381.61,833.78 381.71,834.22 381.81,834.66 381.91,835.1 382.02,835.54 382.12,835.98 382.22,836.43 382.32,836.88 382.42,837.33 382.52,837.78 382.62,838.23 382.73,838.68 382.83,839.14 382.93,839.59 383.03,840.05 383.13,840.51 383.23,840.98 383.33,841.44 383.44,841.91 383.54,842.37 383.64,842.84 383.74,843.31 383.84,843.79 383.94,844.26 384.04,844.74 384.15,845.22 384.25,845.7 384.35,846.18 384.45,846.66 384.55,847.15 384.65,847.63 384.75,848.12 384.86,848.61 384.96,849.11 385.06,849.6 385.16,850.1 385.26,850.6 385.36,851.1 385.46,851.6 385.57,852.1 385.67,852.61 385.77,853.11 385.87,853.62 385.97,854.13 386.07,854.65 386.17,855.16 386.28,855.68 386.38,856.2 386.48,856.72 386.58,857.24 386.68,857.77 386.78,858.29 386.88,858.82 386.99,859.35 387.09,859.89 387.19,860.42 387.29,860.96 387.39,861.49 387.49,862.03 387.59,862.58 387.7,863.12 387.8,863.67 387.9,864.21 388,864.76 388.1,865.32 388.2,865.87 388.3,866.43 388.41,866.99 388.51,867.55 388.61,868.11 388.71,868.67 388.81,869.24 388.91,869.81 389.01,870.38 389.11,870.95 389.22,871.52 389.32,872.1 389.42,872.68 389.52,873.26 389.62,873.84 389.72,874.43 389.82,875.01 389.93,875.6 390.03,876.19 390.13,876.79 390.23,877.38 390.33,877.98 390.43,878.58 390.53,879.18 390.64,879.78 390.74,880.39 390.84,881 390.94,881.6 391.04,882.22 391.14,882.83 391.24,883.45 391.35,884.07 391.45,884.69 391.55,885.31 391.65,885.93 391.75,886.56 391.85,887.19 391.95,887.82 392.06,888.45 392.16,889.09 392.26,889.73 392.36,890.37 392.46,891.01 392.56,891.65 392.66,892.3 392.77,892.95 392.87,893.6 392.97,894.25 393.07,894.9 393.17,895.56 393.27,896.22 393.37,896.88 393.48,897.54 393.58,898.21 393.68,898.88 393.78,899.55 393.88,900.22 393.98,900.89 394.08,901.57 394.19,902.25 394.29,902.93 394.39,903.61 394.49,904.3 394.59,904.98 394.69,905.67 394.79,906.36 394.9,907.06 395,907.75 395.1,908.45 395.2,909.15 395.3,909.85 395.4,910.56 395.5,911.26 395.61,911.97 395.71,912.68 395.81,913.39 395.91,914.11 396.01,914.83 396.11,915.54 396.21,916.27 396.32,916.99 396.42,917.71 396.52,918.44 396.62,919.17 396.72,919.9 396.82,920.64 396.92,921.37 397.02,922.11 397.13,922.85 397.23,923.59 397.33,924.34 397.43,925.08 397.53,925.83 397.63,926.58 397.73,927.33 397.84,928.09 397.94,928.84 398.04,929.6 398.14,930.36 398.24,931.12 398.34,931.89 398.44,932.65 398.55,933.42 398.65,934.19 398.75,934.96 398.85,935.73 398.95,936.51 399.05,937.28 399.15,938.06 399.26,938.84 399.36,939.63 399.46,940.41 399.56,941.2 399.66,941.98 399.76,942.77 399.86,943.57 399.97,944.36 400.07,945.15 400.17,945.95 400.27,946.75 400.37,947.55 400.47,948.35 400.57,949.15 400.68,949.95 400.78,950.76 400.88,951.57 400.98,952.38 401.08,953.19 401.18,954 401.28,954.81 401.39,955.63 401.49,956.44 401.59,957.26 401.69,958.08 401.79,958.9 401.89,959.72 401.99,960.54 402.1,961.36 402.2,962.19 402.3,963.01 402.4,963.84 402.5,964.67 402.6,965.49 402.7,966.32 402.81,967.15 402.91,967.98 403.01,968.82 403.11,969.65 403.21,970.48 403.31,971.32 403.41,972.15 403.52,972.99 403.62,973.82 403.72,974.66 403.82,975.49 403.92,976.33 404.02,977.17 404.12,978 404.23,978.84 404.33,979.68 404.43,980.52 404.53,981.35 404.63,982.19 404.73,983.03 404.83,983.86 404.93,984.7 405.04,985.54 405.14,986.37 405.24,987.2 405.34,988.04 405.44,988.87 405.54,989.7 405.64,990.53 405.75,991.36 405.85,992.19 405.95,993.02 406.05,993.85 406.15,994.67 406.25,995.49 406.35,996.31 406.46,997.13 406.56,997.95 406.66,998.77 406.76,999.58 406.86,1000.39 406.96,1001.19 407.06,1002 407.17,1002.8 407.27,1003.6 407.37,1004.39 407.47,1005.18 407.57,1005.97 407.67,1006.75 407.77,1007.53 407.88,1008.31 407.98,1009.08 408.08,1009.84 408.18,1010.6 408.28,1011.36 408.38,1012.11 408.48,1012.85 408.59,1013.59 408.69,1014.32 408.79,1015.04 408.89,1015.76 408.99,1016.47 409.09,1017.17 409.19,1017.86 409.3,1018.55 409.4,1019.22 409.5,1019.89 409.6,1020.55 409.7,1021.19 409.8,1021.83 409.9,1022.45 410.01,1023.06 410.11,1023.66 410.21,1024.25 410.31,1024.82 410.41,1025.38 410.51,1025.92 410.61,1026.45 410.72,1026.96 410.82,1027.45 410.92,1027.93 411.02,1028.38 411.12,1028.82 411.22,1029.24 411.32,1029.63 411.43,1030 411.53,1030.35 411.63,1030.67 411.73,1030.97 411.83,1031.24 411.93,1031.48 412.03,1031.69 412.14,1031.87 412.24,1032.02 412.34,1032.13 412.44,1032.21 412.54,1032.24 412.64,1032.24 412.74,1032.19 412.84,1032.09 412.95,1031.93 413.05,1031.7 413.15,1031.4 413.25,1031.02 413.35,1030.54 413.45,1029.96 413.55,1029.28 413.66,1028.48 413.76,1027.56 413.86,1026.51 413.96,1025.32 414.06,1023.99 414.16,1022.51 414.26,1020.88 414.37,1019.1 414.47,1017.16 414.57,1015.08 414.67,1012.84 414.77,1010.46 414.87,1007.94 414.97,1005.31 415.08,1002.56 415.18,999.72 415.28,996.8 415.38,993.83 415.48,990.9 415.58,988.13 415.68,985.51 415.79,983.06 415.89,980.78 415.99,978.66 416.09,976.69 416.19,974.86 416.29,973.16 416.39,971.56 416.5,970.05 416.6,968.59 416.7,967.17 416.8,965.76 416.9,964.32 417,962.84 417.1,961.26 417.21,959.57 417.31,957.73 417.41,955.69 417.51,953.43 417.61,950.89 417.71,948.04 417.81,944.83 417.92,941.21 418.02,937.12 418.12,932.52 418.22,927.38 418.32,922.05 418.42,916.64 418.52,911.18 418.63,905.68 418.73,900.18 418.83,894.7 418.93,889.27 419.03,883.91 419.13,878.66 419.23,873.55 419.34,868.6 419.44,863.85 419.54,859.33 419.64,855.06 419.74,851.08 419.84,847.4 419.94,844.06 420.05,841.06 420.15,838.43 420.25,836.17 420.35,834.3 420.45,832.82 420.55,831.73 420.65,831.03 420.75,830.71 420.86,830.76 420.96,831.19 421.06,832 421.16,833.18 421.26,834.73 421.36,836.65 421.46,838.9 421.57,841.48 421.67,844.34 421.77,847.47 421.87,850.84 421.97,854.41 422.07,858.15 422.17,862.02 422.28,866.01 422.38,870.08 422.48,874.2 422.58,878.34 422.68,882.49 422.78,886.61 422.88,890.7 422.99,894.74 423.09,898.7 423.19,902.58 423.29,906.36 423.39,910.05 423.49,913.62 423.59,917.08 423.7,920.42 423.8,923.63 423.9,926.71 424,929.67 424.1,932.51 424.2,935.23 424.3,937.85 424.41,940.38 424.51,942.8 424.61,945.14 424.71,947.4 424.81,949.58 424.91,951.69 425.01,953.73 425.12,955.7 425.22,957.62 425.32,959.47 425.42,961.28 425.52,963.04 425.62,964.75 425.72,966.42 425.83,968.05 425.93,969.65 426.03,971.21 426.13,972.74 426.23,974.24 426.33,975.71 426.43,977.16 426.54,978.59 426.64,979.99 426.74,981.38 426.84,982.75 426.94,984.1 427.04,985.43 427.14,986.75 427.25,988.05 427.35,989.34 427.45,990.62 427.55,991.89 427.65,993.14 427.75,994.38 427.85,995.59 427.96,996.76 428.06,997.9 428.16,999.01 428.26,1000.08 428.36,1001.13 428.46,1002.14 428.56,1003.13 428.66,1004.08 428.77,1005.01 428.87,1005.91 428.97,1006.78 429.07,1007.62 429.17,1008.44 429.27,1009.23 429.37,1010 429.48,1010.74 429.58,1011.46 429.68,1012.15 429.78,1012.82 429.88,1013.47 429.98,1014.09 430.08,1014.7 430.19,1015.28 430.29,1015.83 430.39,1016.37 430.49,1016.89 430.59,1017.38 430.69,1017.86 430.79,1018.31 430.9,1018.75 431,1019.17 431.1,1019.57 431.2,1019.95 431.3,1020.31 431.4,1020.65 431.5,1020.98 431.61,1021.29 431.71,1021.58 431.81,1021.86 431.91,1022.12 432.01,1022.36 432.11,1022.58 432.21,1022.8 432.32,1022.99 432.42,1023.17 432.52,1023.34 432.62,1023.49 432.72,1023.62 432.82,1023.74 432.92,1023.85 433.03,1023.94 433.13,1024.02 433.23,1024.09 433.33,1024.14 433.43,1024.18 433.53,1024.2 433.63,1024.21 433.74,1024.21 433.84,1024.2 433.94,1024.18 434.04,1024.14 434.14,1024.09 434.24,1024.03 434.34,1023.96 434.45,1023.87 434.55,1023.78 434.65,1023.67 434.75,1023.56 434.85,1023.43 434.95,1023.29 435.05,1023.14 435.16,1022.98 435.26,1022.81 435.36,1022.64 435.46,1022.45 435.56,1022.25 435.66,1022.04 435.76,1021.82 435.87,1021.6 435.97,1021.36 436.07,1021.12 436.17,1020.86 436.27,1020.6 436.37,1020.33 436.47,1020.05 436.57,1019.76 436.68,1019.47 436.78,1019.16 436.88,1018.85 436.98,1018.53 437.08,1018.21 437.18,1017.87 437.28,1017.53 437.39,1017.18 437.49,1016.82 437.59,1016.46 437.69,1016.09 437.79,1015.71 437.89,1015.33 437.99,1014.94 438.1,1014.54 438.2,1014.13 438.3,1013.72 438.4,1013.31 438.5,1012.88 438.6,1012.46 438.7,1012.02 438.81,1011.58 438.91,1011.13 439.01,1010.68 439.11,1010.22 439.21,1009.76 439.31,1009.29 439.41,1008.82 439.52,1008.34 439.62,1007.85 439.72,1007.36 439.82,1006.87 439.92,1006.37 440.02,1005.86 440.12,1005.36 440.23,1004.84 440.33,1004.32 440.43,1003.8 440.53,1003.27 440.63,1002.74 440.73,1002.21 440.83,1001.67 440.94,1001.13 441.04,1000.58 441.14,1000.03 441.24,999.47 441.34,998.91 441.44,998.35 441.54,997.78 441.65,997.21 441.75,996.64 441.85,996.06 441.95,995.48 442.05,994.9 442.15,994.31 442.25,993.72 442.36,993.13 442.46,992.54 442.56,991.94 442.66,991.34 442.76,990.73 442.86,990.12 442.96,989.51 443.07,988.9 443.17,988.29 443.27,987.67 443.37,987.05 443.47,986.43 443.57,985.8 443.67,985.18 443.78,984.55 443.88,983.92 443.98,983.29 444.08,982.65 444.18,982.01 444.28,981.38 444.38,980.74 444.48,980.09 444.59,979.45 444.69,978.8 444.79,978.16 444.89,977.51 444.99,976.86 445.09,976.2 445.19,975.55 445.3,974.9 445.4,974.24 445.5,973.58 445.6,972.92 445.7,972.26 445.8,971.6 445.9,970.94 446.01,970.28 446.11,969.61 446.21,968.95 446.31,968.28 446.41,967.61 446.51,966.95 446.61,966.28 446.72,965.61 446.82,964.94 446.92,964.27 447.02,963.59 447.12,962.92 447.22,962.25 447.32,961.58 447.43,960.9 447.53,960.23 447.63,959.55 447.73,958.88 447.83,958.2 447.93,957.53 448.03,956.85 448.14,956.18 448.24,955.5 448.34,954.82 448.44,954.15 448.54,953.47 448.64,952.79 448.74,952.12 448.85,951.44 448.95,950.76 449.05,950.09 449.15,949.41 449.25,948.74 449.35,948.06 449.45,947.38 449.56,946.71 449.66,946.03 449.76,945.36 449.86,944.68 449.96,944.01 450.06,943.33 450.16,942.66 450.27,941.98 450.37,941.31 450.47,940.64 450.57,939.97 450.67,939.29 450.77,938.62 450.87,937.95 450.98,937.28 451.08,936.61 451.18,935.94 451.28,935.28 451.38,934.61 451.48,933.94 451.58,933.27 451.69,932.61 451.79,931.94 451.89,931.28 451.99,930.62 452.09,929.95 452.19,929.29 452.29,928.63 452.39,927.97 452.5,927.31 452.6,926.65 452.7,926 452.8,925.34 452.9,924.68 453,924.03 453.1,923.38 453.21,922.72 453.31,922.07 453.41,921.42 453.51,920.77 453.61,920.12 453.71,919.48 453.81,918.83 453.92,918.19 454.02,917.54 454.12,916.9 454.22,916.26 454.32,915.62 454.42,914.98 454.52,914.34 454.63,913.7 454.73,913.07 454.83,912.43 454.93,911.8 455.03,911.17 455.13,910.53 455.23,909.9 455.34,909.28 455.44,908.65 455.54,908.02 455.64,907.4 455.74,906.77 455.84,906.15 455.94,905.53 456.05,904.91 456.15,904.29 456.25,903.68 456.35,903.06 456.45,902.45 456.55,901.84 456.65,901.23 456.76,900.62 456.86,900.01 456.96,899.4 457.06,898.79 457.16,898.19 457.26,897.59 457.36,896.99 457.47,896.39 457.57,895.79 457.67,895.19 457.77,894.6 457.87,894 457.97,893.41 458.07,892.82 458.18,892.23 458.28,891.64 458.38,891.05 458.48,890.47 458.58,889.88 458.68,889.3 458.78,888.72 458.89,888.14 458.99,887.56 459.09,886.99 459.19,886.41 459.29,885.84 459.39,885.27 459.49,884.7 459.6,884.13 459.7,883.56 459.8,883 459.9,882.43 460,881.87 460.1,881.31 460.2,880.75 460.31,880.19 460.41,879.64 460.51,879.08 460.61,878.53 460.71,877.98 460.81,877.43 460.91,876.88 461.01,876.33 461.12,875.79 461.22,875.24 461.32,874.7 461.42,874.16 461.52,873.62 461.62,873.09 461.72,872.55 461.83,872.02 461.93,871.48 462.03,870.95 462.13,870.42 462.23,869.89 462.33,869.37 462.43,868.84 462.54,868.32 462.64,867.8 462.74,867.28 462.84,866.76 462.94,866.24 463.04,865.73 463.14,865.21 463.25,864.7 463.35,864.19 463.45,863.68 463.55,863.17 463.65,862.67 463.75,862.16 463.85,861.66 463.96,861.16 464.06,860.66 464.16,860.16 464.26,859.66 464.36,859.17 464.46,858.67 464.56,858.18 464.67,857.69 464.77,857.2 464.87,856.71 464.97,856.23 465.07,855.74 465.17,855.26 465.27,854.78 465.38,854.3 465.48,853.82 465.58,853.35 465.68,852.87 465.78,852.4 465.88,851.92 465.98,851.45 465.98,851.45 467.86,843 469.74,835.06 471.62,827.6 473.5,820.59 475.38,814.02 477.26,807.86 479.14,802.08 481.02,796.67 482.9,791.59 484.78,786.82 486.66,782.35 488.54,778.15 490.41,774.2 492.29,770.49 494.17,767 496.05,763.71 497.93,760.62 499.81,757.73 501.69,755.02 503.57,752.45 505.45,750.04 507.33,747.75 509.21,745.59 511.09,743.55 512.97,741.61 514.85,739.78 516.73,738.04 518.6,736.39 520.48,734.83 522.36,733.34 524.24,731.92 526.12,730.58 528,729.3 529.88,728.08 531.76,726.91 533.64,725.81 535.52,724.75 537.4,723.74 539.28,722.78 541.16,721.86 543.04,720.98 544.91,720.13 546.79,719.33 548.67,718.56 550.55,717.82 552.43,717.11 554.31,716.43 556.19,715.78 558.07,715.15 559.95,714.55 561.83,713.98 563.71,713.43 565.59,712.91 567.47,712.42 569.35,711.95 571.22,711.5 573.1,711.08 574.98,710.67 576.86,710.29 578.74,709.93 580.62,709.58 582.5,709.25 584.38,708.93 586.26,708.63 588.14,708.35 590.02,708.08 591.9,707.82 593.78,707.58 595.66,707.34 597.54,707.12 599.41,706.91 601.29,706.71 603.17,706.51 605.05,706.33 606.93,706.15 608.81,705.98 610.69,705.81 612.57,705.66 614.45,705.51 616.33,705.36 618.21,705.22 620.09,705.08 621.97,704.94 623.85,704.81 625.72,704.69 627.6,704.56 629.48,704.44 631.36,704.31 633.24,704.19 635.12,704.07 637,703.95 638.88,703.83 640.76,703.71 642.64,703.58 644.52,703.46 646.4,703.33 648.28,703.21 650.16,703.07 652.03,702.94 653.91,702.81 655.79,702.67 657.67,702.54 659.55,702.41 661.43,702.29 663.31,702.17 665.19,702.05 667.07,701.93 668.95,701.82 670.83,701.71 672.71,701.6 674.59,701.49 676.47,701.39 678.35,701.29 680.22,701.19 682.1,701.09 683.98,701 685.86,700.9 687.74,700.81 689.62,700.72 691.5,700.63 693.38,700.55 695.26,700.46 697.14,700.38 699.02,700.3 700.9,700.22 702.78,700.14 704.66,700.06 706.53,699.99 708.41,699.91 710.29,699.84 712.17,699.77 714.05,699.7 715.93,699.63 717.81,699.57 719.69,699.5 721.57,699.44 723.45,699.37 725.33,699.31 727.21,699.25 729.09,699.19 730.97,699.13 732.84,699.07 734.72,699.01 736.6,698.96 738.48,698.9 740.36,698.85 742.24,698.79 744.12,698.74 746,698.69" fill="none" stroke="#e8141b" stroke-width="2" stroke-linejoin="round"/>
</g>
<path d="M746,632 L94.8,632 L94.8,1071 L746,1071" fill="none" stroke="#333" stroke-width="2.4" stroke-linecap="round" stroke-linejoin="round"/>
<line x1="746" y1="632" x2="746" y2="1071" stroke="#333" stroke-width="2.4" stroke-linecap="round"/>
<line x1="159.92" y1="1071" x2="159.92" y2="1063" stroke="#333" stroke-width="2.2"/>
<line x1="159.92" y1="632" x2="159.92" y2="640" stroke="#333" stroke-width="2.2"/>
<line x1="290.16" y1="1071" x2="290.16" y2="1063" stroke="#333" stroke-width="2.2"/>
<line x1="290.16" y1="632" x2="290.16" y2="640" stroke="#333" stroke-width="2.2"/>
<line x1="420.4" y1="1071" x2="420.4" y2="1063" stroke="#333" stroke-width="2.2"/>
<line x1="420.4" y1="632" x2="420.4" y2="640" stroke="#333" stroke-width="2.2"/>
<line x1="550.64" y1="1071" x2="550.64" y2="1063" stroke="#333" stroke-width="2.2"/>
<line x1="550.64" y1="632" x2="550.64" y2="640" stroke="#333" stroke-width="2.2"/>
<line x1="680.88" y1="1071" x2="680.88" y2="1063" stroke="#333" stroke-width="2.2"/>
<line x1="680.88" y1="632" x2="680.88" y2="640" stroke="#333" stroke-width="2.2"/>
<line x1="94.8" y1="694.5" x2="102.8" y2="694.5" stroke="#333" stroke-width="2.2"/>
<line x1="746" y1="694.5" x2="738" y2="694.5" stroke="#333" stroke-width="2.2"/>
<line x1="94.8" y1="799.25" x2="102.8" y2="799.25" stroke="#333" stroke-width="2.2"/>
<line x1="746" y1="799.25" x2="738" y2="799.25" stroke="#333" stroke-width="2.2"/>
<line x1="94.8" y1="904" x2="102.8" y2="904" stroke="#333" stroke-width="2.2"/>
<line x1="746" y1="904" x2="738" y2="904" stroke="#333" stroke-width="2.2"/>
<line x1="94.8" y1="1008.75" x2="102.8" y2="1008.75" stroke="#333" stroke-width="2.2"/>
<line x1="746" y1="1008.75" x2="738" y2="1008.75" stroke="#333" stroke-width="2.2"/>
<clipPath id="clipD"><rect x="792.6" y="632" width="651.9" height="438.6"/></clipPath>
<g clip-path="url(#clipD)">
<polyline points="791.85,728.22 792.38,727.03 792.79,726.09 793.25,726.53 793.72,725.55 794.19,723.28 794.65,724.69 795.05,723.25 795.54,722.26 796.01,724.91 796.43,724.53 796.89,725.4 797.36,723.38 797.84,724.62 798.29,724.08 798.73,724.91 799.18,722.69 799.61,725.94 800.07,723.27 800.5,721.31 801.03,724.95 801.46,722.84 801.91,727.43 802.36,724.01 802.83,726.6 803.23,724.07 803.76,728.2 804.2,730.14 804.62,727.68 805.09,730.51 805.59,728.48 806.02,727.04 806.49,728.87 806.91,728.2 807.35,730.92 807.81,730.88 808.3,733.03 808.74,728.91 809.17,730.16 809.58,729.38 810.11,729.03 810.57,729.73 811.01,731.09 811.46,731 811.91,731.56 812.34,728.95 812.83,729.05 813.25,728.31 813.73,722.96 814.2,728.69 814.65,728.22 815.08,727.06 815.53,727.86 816.02,729.13 816.44,724.87 816.9,727.28 817.39,725.19 817.82,725.65 818.29,725.21 818.74,724.93 819.2,727.9 819.64,725.08 820.08,724.85 820.53,723.41 821.03,728.13 821.48,726.3 821.91,725.68 822.42,724.32 822.84,725.34 823.29,729.01 823.76,724.89 824.18,724.79 824.64,729.35 825.1,725.63 825.56,729.17 826.04,731.79 826.49,726.72 826.91,727.64 827.41,731.95 827.9,732.54 828.28,734.05 828.78,731.35 829.17,731.33 829.65,729.23 830.12,731 830.52,731.57 831.02,732.27 831.49,730.34 831.96,731.44 832.4,733.57 832.85,734.52 833.25,732.67 833.75,732.7 834.2,733.66 834.72,727.4 835.15,733.85 835.55,730.02 836.06,727.21 836.46,730.18 836.95,730.37 837.37,727.82 837.88,730.43 838.31,729.69 838.79,732.01 839.23,727.83 839.67,727.67 840.11,726.54 840.57,725.33 841.03,727.76 841.5,730.7 841.95,725.73 842.4,725.32 842.87,727 843.29,725.59 843.76,727.79 844.19,726.61 844.68,726.35 845.12,726.5 845.61,727.77 846.02,730.31 846.48,724.65 846.91,731.78 847.41,729.42 847.83,731.61 848.34,731.1 848.74,731.04 849.2,729.09 849.63,729.34 850.13,732.56 850.59,732.34 851.07,735.38 851.51,726.45 851.95,731.31 852.39,727.99 852.85,736.28 853.36,731.7 853.81,730.44 854.24,734.28 854.66,734.51 855.14,731.07 855.6,732.06 856.02,732.93 856.51,735.86 856.97,731.67 857.41,732.78 857.85,734.48 858.34,732.85 858.76,731.7 859.24,732.26 859.7,734.08 860.12,731.4 860.6,732.8 861.08,729.07 861.52,729.89 861.95,728.98 862.42,731.87 862.86,727.89 863.31,726.45 863.78,729.84 864.23,730.81 864.68,732.41 865.13,725.61 865.57,726.1 866.06,730.56 866.49,729.39 866.98,727.3 867.42,728.6 867.88,730.12 868.32,729.3 868.81,725.26 869.2,728.57 869.69,729.17 870.16,731.02 870.58,731.48 871.05,729.86 871.5,731.14 872.02,730.14 872.45,729.76 872.89,732.32 873.39,729.73 873.84,728.88 874.26,730.16 874.7,734.02 875.12,733.52 875.58,733.36 876.05,736.54 876.51,734.71 876.99,733.73 877.4,736.6 877.9,734.59 878.32,731.84 878.79,733.59 879.21,733.65 879.7,735.05 880.1,734.25 880.61,735.11 881.09,733.91 881.47,733.36 881.97,732.93 882.4,732.97 882.87,732.32 883.32,730.1 883.81,730.85 884.31,733.24 884.72,729.98 885.15,734.07 885.5,732.04 886.04,730.91 886.53,728.35 886.95,730.5 887.46,730 887.9,731.38 888.34,732.28 888.8,731.95 889.27,731.38 889.73,731.67 890.14,733.2 890.63,731.51 891.01,731.55 891.55,729.81 892.03,731.25 892.47,732.37 892.9,728.87 893.36,735.33 893.83,732.15 894.25,733.67 894.82,729.25 895.18,733.56 895.63,732.19 896.05,734.23 896.57,732.72 896.98,733.1 897.48,732.36 897.92,737.68 898.29,734.61 898.81,734.3 899.3,733.79 899.76,736.29 900.18,739.36 900.55,736.72 901.04,735.47 901.63,736.84 902.02,735.94 902.5,736.64 902.77,735.74 903.36,739.24 903.83,740.46 904.27,736.04 904.76,734.99 905.24,736.71 905.67,736.23 906.03,737.61 906.46,735.11 906.98,735.52 907.36,735.58 907.9,735.01 908.45,735.56 908.77,735.54 909.32,735.3 909.76,731.56 910.16,735.19 910.63,734.4 911.03,730.86 911.54,734 912.04,732.77 912.42,733.71 912.91,732.05 913.35,735.37 913.87,735.34 914.35,736.05 914.69,735.46 915.12,735.66 915.66,736.05 916.08,737.41 916.56,735.69 917.06,737.38 917.47,734.68 917.95,738.33 918.28,737.23 918.81,740.39 919.26,739.06 919.75,737.02 920.19,739.46 920.63,738.43 921.01,741.54 921.57,740.01 922.04,740.05 922.44,740.48 922.93,738.79 923.34,741.01 923.77,740.67 924.25,741.27 924.66,742.99 925.16,739.31 925.53,741.06 926.11,743.65 926.63,740.86 927.05,740.49 927.46,741.29 927.89,742.81 928.28,740.82 928.82,742.34 929.36,738.71 929.77,742.16 930.09,739.39 930.55,740.64 931.12,740.88 931.47,737.8 931.92,741.91 932.53,738.93 932.82,737.85 933.37,741.11 933.86,739.65 934.35,742 934.66,738.5 935.19,736.43 935.73,739.25 935.99,735.87 936.5,740.3 937,739.26 937.45,735.55 937.9,739.44 938.43,738.65 938.83,737.69 939.27,739.69 939.66,740.22 940.23,742.25 940.7,740.92 941.07,744.86 941.66,746.75 942,744.58 942.48,742.67 942.93,744.2 943.4,744.56 943.84,743.48 944.46,744.67 944.75,747.35 945.23,744.14 945.79,746.99 946.29,745.22 946.51,744.01 947.08,745.14 947.49,746.9 947.95,745.41 948.38,744.67 948.84,745.09 949.32,743.89 949.74,745.54 950.26,746.52 950.78,746.5 951.09,747.44 951.53,745.21 952.03,740.48 952.71,744.43 952.97,741.59 953.22,743.12 953.79,742.65 954.21,744.4 954.77,743.52 955.24,742.77 955.64,743.71 956.07,741.2 956.51,742.22 957.17,744.84 957.46,746.89 957.91,743.3 958.41,746.42 958.82,744.4 959.37,746.92 959.71,743.57 960.12,746.12 960.72,747.9 961.13,744.57 961.56,747.04 961.93,745.95 962.42,747.13 962.96,748.43 963.39,747.56 963.93,747.33 964.26,748.82 964.61,747.93 965.23,748.88 965.7,748.57 966.17,750.6 966.6,749.36 966.89,749.6 967.54,749.85 967.71,749.8 968.5,752.45 968.87,753.51 969.4,752.02 969.61,750.55 970.23,750.12 970.51,751.77 971.23,751.86 971.59,752.51 971.91,752.4 972.69,753.29 972.92,751.22 973.29,755.24 973.68,750.99 974.49,751.82 974.77,752.09 975.2,751.27 975.72,749.4 976.12,754.05 976.7,757.61 976.92,754.31 977.53,750.03 978.05,752.77 978.28,752.53 978.89,754.83 979.47,753.48 979.64,753.22 980.35,752.61 980.74,754.62 981.16,753.81 981.64,755.05 982.09,755.63 982.63,755.43 983.06,755.67 983.29,755.62 983.84,756.45 984.15,754.98 984.85,754.34 985.3,757.76 985.64,759.51 986.14,758.41 986.7,758.33 987.13,760.08 987.55,758.91 988.09,759.37 988.24,760.65 988.82,761.75 989.52,762 989.73,764.21 990.03,762.29 990.69,760.95 991.13,761.87 991.65,762.7 991.95,763.56 992.57,762.34 992.86,765.05 993.5,765.18 993.93,763.49 994.09,766.41 994.67,764.57 995.32,763.54 995.73,764.17 996.12,764.05 996.55,766.53 997.08,764.32 997.7,766.94 998.07,765.91 998.56,765.42 999.11,766.18 999.24,765.3 999.65,765.08 1000.22,764.09 1000.78,767.45 1001,769.82 1001.58,765.2 1002.06,766.93 1002.6,769.75 1002.84,770.25 1003.8,770.17 1003.97,768.17 1004.46,770.58 1004.79,769.26 1005.32,768.24 1005.97,770.39 1006.08,770.93 1006.59,772.78 1006.89,770.45 1007.43,770.49 1007.89,772.6 1008.45,773.49 1008.93,775.57 1009.32,774.28 1009.68,773.52 1010.12,774.79 1010.71,779.18 1011.12,773.08 1011.47,776.2 1012.14,779.09 1012.64,777.44 1013.02,776.47 1013.4,777.38 1013.87,779.69 1014.26,777.66 1014.92,779.72 1015.13,779.85 1015.89,781.06 1016.2,781.63 1016.28,782.01 1017.38,781.58 1017.43,782.57 1018.04,781.77 1018.37,780.96 1018.77,782.3 1019.48,783.45 1019.9,784.2 1020.32,785.59 1020.74,782.89 1021.18,782.29 1021.54,782.54 1021.99,784.29 1022.45,781.51 1023.03,782.64 1023.46,785.19 1023.98,785.56 1024.25,783.53 1024.94,786.77 1025.33,786.34 1025.42,787.56 1026.17,788.35 1026.94,787.2 1027.08,787.88 1027.49,788.96 1027.91,787.44 1028.51,790.07 1028.92,787.88 1029.41,791.91 1029.86,791.82 1030.1,790.9 1030.66,792.49 1031.27,792.51 1031.49,794.38 1032.12,796.11 1032.66,794.9 1032.93,796.33 1033.56,798.29 1033.74,797.2 1034.18,799.16 1034.6,797.73 1035.39,799.07 1035.67,801.08 1036.26,802.25 1036.44,799.8 1037.22,801.87 1037.47,804.29 1038.06,803.69 1038.45,802.82 1038.87,804.89 1039.24,804.34 1039.83,807.18 1040.11,805.13 1041.12,805.41 1041.46,807.41 1042.08,807.78 1041.96,808.32 1042.54,807.81 1042.81,810.36 1043.56,809.84 1044,809.35 1044.54,815.14 1044.94,812.63 1044.99,811.89 1045.72,814.26 1046.61,812.59 1046.6,815.86 1047.22,816.82 1047.5,816.66 1048.17,817.64 1048.53,818.55 1048.95,820.49 1049.51,823.07 1049.76,816.8 1050.37,821.33 1050.76,821.31 1051.31,824.43 1051.64,823.45 1051.73,824.73 1052.51,824.56 1052.89,827.32 1053.29,827.89 1054.04,828.13 1054.02,831.15 1054.85,832.51 1055.38,831.68 1055.85,832.04 1056.37,832.46 1056.66,836.96 1056.96,834.42 1057.8,836.98 1058.05,836.67 1058.53,837.71 1058.92,838.73 1059.39,842.59 1060.04,841.44 1060.36,840.99 1060.73,842.88 1061.43,843.54 1061.8,845.82 1062.17,846.82 1062.59,850.33 1063.21,848.73 1063.23,849.75 1063.81,852.7 1064.64,855.96 1064.82,854.79 1065.25,855.85 1066.05,859.76 1066.43,857.85 1066.72,861.34 1067.28,862.49 1067.65,865.43 1068.03,866.98 1068.69,868.02 1069.15,869.59 1069.41,871.88 1069.89,873.35 1070.04,875 1070.64,877.6 1071.01,879.71 1071.9,883.37 1072.39,883.95 1072.36,884.52 1073.14,887.85 1073.77,888.9 1074.07,893.69 1074.15,894.21 1074.75,895.25 1075.41,896.96 1075.96,900.92 1076.33,901.33 1076.78,903.06 1077.15,906.4 1077.75,907.71 1077.94,910.73 1078.6,913.17 1078.88,916.85 1079.51,918.53 1079.37,920.46 1080.41,920.38 1080.63,923.85 1081.36,924.38 1081.31,927 1082.2,929.08 1082.4,930.57 1083.03,931.86 1083.37,937.21 1083.52,938.52 1084.72,939.76 1084.91,943.17 1085.21,944.84 1085.92,948.18 1085.87,949.17 1086.61,952.38 1087.34,951.48 1087.45,958.41 1088.07,959.36 1088.75,960.13 1088.92,961.73 1089.41,962.84 1089.81,967.04 1090.39,969.07 1090.86,971.74 1091.13,973.95 1092.03,976.62 1092.08,976.76 1092.42,979.04 1092.98,984.24 1093.68,985.52 1093.98,989.21 1094.52,988.85 1094.31,992.18 1095.37,993.63 1095.79,1000.24 1095.93,997.67 1096.52,1000.85 1097.34,1004.77 1097.87,1007.26 1097.85,1005 1098.19,1007.42 1098.94,1006.96 1099.44,1011.84 1099.75,1012.71 1100.12,1013.01 1100.33,1013.34 1101.27,1016.01 1101.59,1017.3 1101.75,1019.22 1102.44,1018.9 1103.06,1022.75 1103.42,1020.96 1104.11,1022.71 1104.4,1022.87 1104.83,1022.89 1105.57,1020.06 1105.9,1019.54 1106.44,1015.53 1106.69,1008.99 1106.94,1004.75 1107.8,995.37 1107.66,986.76 1108.47,980.41 1108.75,968.8 1109.37,958.88 1109.86,946.02 1111.17,936.16 1110.97,927.74 1112.02,923.03 1112.72,914.99 1113.26,905.15 1113.23,897.24 1114.1,886.73 1114.04,872.62 1114.69,859.45 1115.24,842.51 1115.35,827.99 1115.99,812.75 1116.21,797.15 1117.17,786.06 1117.42,775.28 1118.47,769.36 1118.26,763.47 1118.78,759.19 1119.67,763.39 1119.78,770.3 1120.31,778.2 1120.27,794.22 1121.22,817.23 1121.23,839.79 1122.02,858.77 1122.12,877.63 1123.12,892.11 1123.42,904.53 1123.36,913.02 1123.97,919.41 1124.73,928.2 1124.9,937.6 1125.57,950.3 1125.94,965.46 1125.5,977.45 1126.24,988.42 1126.85,996.39 1127.37,1007.11 1127.49,1011.7 1128.2,1016.42 1128.35,1021.75 1129.04,1022.33 1129.26,1025.29 1129.98,1025.02 1130.32,1022.11 1130.58,1021.67 1131.59,1020.36 1132.12,1017.46 1132.02,1013.72 1132.72,1013.65 1133.29,1008.54 1133.67,1005 1134.01,1001.76 1134.37,999.69 1134.88,995.1 1135.28,992.88 1136.22,985.32 1135.99,982.36 1136.68,978.83 1137.26,974.22 1137.44,968.74 1138.27,965 1138.46,961.32 1139.29,957.25 1139.12,953.5 1140.52,949.33 1140.61,944.52 1141.19,939.91 1141.41,939.32 1141.53,935.72 1142.05,930.39 1142.39,927.84 1142.66,924.09 1143.66,920.53 1143.86,915.39 1144.47,912.81 1145.21,908.77 1145.07,904.25 1145.96,901.32 1146,899.8 1146.63,896.4 1147.01,893.8 1147.65,890.32 1147.85,887.44 1148.62,884.65 1148.8,880.25 1149.46,877.75 1149.91,878.27 1150.36,873.42 1151.13,871.66 1151.32,867.07 1151.63,865.08 1152.04,863.91 1152.88,860.19 1152.91,857.92 1153.42,855.82 1154.04,852.33 1154.55,848.56 1154.97,846.08 1155.1,843.76 1155.63,841.3 1155.9,838.26 1156.31,837.02 1156.88,835.39 1157.73,835.88 1158.03,830.97 1158.13,829.93 1158.97,827.58 1159.44,825.6 1160.3,822.44 1160.53,822.45 1160.95,819.39 1161.69,819.43 1161.9,816.65 1162,813 1162.41,813.78 1163.44,809.65 1164,807.41 1164.35,810.14 1164.84,806.88 1165.43,805.82 1165.67,802.64 1165.78,801.09 1166.28,799.01 1166.72,798.04 1167.14,796.56 1167.54,794.08 1168.06,796.13 1168.9,792.14 1169.52,793.11 1169.65,789.52 1169.73,789.87 1170.24,787.4 1170.84,786.77 1171.35,785.99 1171.86,784.47 1172.28,783.96 1173.03,782.7 1173.27,780.92 1173.82,780.97 1174.14,780.06 1174.68,780.01 1174.87,777.75 1175.37,775.67 1176.13,775.46 1176.03,775.24 1176.56,774.14 1177.48,774.41 1177.83,774.49 1178.01,772.22 1178.42,771.33 1179.33,770.62 1179.46,768.56 1180.23,768.03 1180.52,768.08 1180.95,766.95 1181.33,763.19 1181.67,764.06 1182.09,762.99 1182.57,762.59 1183.45,763.38 1183.79,762.48 1184.29,758.83 1184.42,760.93 1184.91,757.6 1185.11,758.59 1185.81,757.13 1186.29,756 1186.44,754.34 1187.18,755.86 1187.4,754.88 1188.15,751.45 1188.77,754.53 1189.01,752.07 1189.45,752.45 1189.99,750.17 1190.41,750.57 1191.06,750 1191.19,745.84 1191.86,751.01 1192.2,749.33 1192.45,748.01 1193.16,750.22 1193.71,749.39 1194.27,748.78 1194.28,745.36 1194.85,749.13 1195.42,746.68 1195.47,747.96 1196.25,744.31 1196.84,744.99 1197.51,743.67 1197.74,743.63 1197.95,742.76 1198.67,742.29 1199.18,744.37 1199.22,742.5 1200.01,741.89 1200.68,739.16 1200.94,741.53 1201.33,739.29 1201.65,741.67 1202.13,739.37 1202.97,740.04 1203.14,738.46 1203.72,737.09 1204.22,735.96 1204.64,738.45 1204.98,736.74 1205.48,734.57 1205.67,735.89 1206.2,736.49 1206.8,734.7 1207.4,735.12 1208.04,732.94 1208.11,730.41 1208.81,730.81 1209.19,731.68 1209.46,731.99 1209.95,732.51 1210.28,733.57 1211.02,730.5 1211.58,730.24 1211.76,730.93 1212.26,729.74 1212.81,728.67 1213.26,728.97 1213.51,730.83 1214.14,728.2 1214.5,725.76 1215.16,730.09 1215.54,727.53 1215.75,729.36 1216.37,726.68 1216.93,724.47 1217.29,726.44 1217.58,725.01 1217.96,727.15 1218.53,726.97 1219.01,726.02 1219.45,728.88 1219.75,724.68 1220.49,724.34 1220.93,726.34 1221.24,726.98 1221.89,726.08 1222.29,724.74 1222.65,727.13 1223.21,722.49 1223.55,723.44 1224.12,724.6 1224.36,722.16 1224.95,724.58 1225.27,723.71 1225.95,723.81 1226.5,723.9 1227.01,724.12 1227.23,723.21 1227.57,722.62 1228.26,719.28 1228.69,721.43 1228.98,720.1 1229.63,720.05 1230.02,716.81 1230.57,718.39 1230.83,719.09 1231.25,721.21 1231.78,717.14 1232.24,715.91 1232.77,718.2 1233.17,720.34 1233.64,718.4 1234.18,716.49 1234.49,717.05 1234.92,715.08 1235.55,716.29 1235.82,715.24 1236.28,718.52 1236.77,714.02 1237.23,715.94 1237.85,715.72 1238.02,714.77 1238.68,715.18 1239.12,718.35 1239.47,712.77 1240.03,715.18 1240.51,716.4 1241.01,713.62 1241.39,713.38 1241.75,712.66 1242.41,718.45 1242.74,716.45 1243.25,714.72 1243.66,715.07 1244.11,715.5 1244.57,716.72 1244.9,714.9 1245.53,717.37 1245.99,717.41 1246.42,718.48 1246.83,717 1247.12,717.26 1247.68,716.71 1248.19,717.7 1248.59,716.58 1249.13,715.06 1249.6,714.17 1249.99,713.98 1250.36,714.74 1250.81,713 1251.32,713.89 1251.88,712.52 1252.36,713.35 1252.73,712.85 1253.23,712.93 1253.7,713.96 1254.15,711.62 1254.51,708.23 1254.92,711.98 1255.45,710.83 1255.9,710.8 1256.3,710.06 1256.86,708.82 1257.33,707.37 1257.73,710.12 1258.12,710.44 1258.69,706.16 1259.02,707.91 1259.55,705.48 1260.06,705.82 1260.46,710.17 1260.97,708.38 1261.4,711.13 1261.88,706.3 1262.36,709.24 1262.78,710.57 1263.2,710.67 1263.66,712.75 1264.08,710.24 1264.57,710.65 1264.98,711.05 1265.47,711.83 1265.87,711.37 1266.45,711.12 1266.86,711.06 1267.3,712.83 1267.76,711.28 1268.16,710.84 1268.66,714.04 1269.09,712.17 1269.57,712.15 1270.05,713.25 1270.46,711.93 1270.9,711.21 1271.39,714.33 1271.84,714.61 1272.3,710.95 1272.75,712.03 1273.24,713.07 1273.67,714.05 1274.13,712.97 1274.56,712.68 1275.01,710.24 1275.49,711.05 1275.93,712.26 1276.35,707.98 1276.86,711 1277.3,709.57 1277.77,707.91 1278.22,709.77 1278.66,708.83 1279.1,706.58 1279.57,706.96 1280.02,705.54 1280.49,706.27 1280.95,704.47 1281.4,703.78 1281.83,707.72 1282.27,703.55 1282.77,703.99 1283.18,704.82 1283.68,710.42 1284.13,704.12 1284.56,706.13 1285.02,705.81 1285.48,708.79 1285.93,706.13 1286.4,709.85 1286.83,707.81 1287.31,710.52 1287.75,709.12 1288.21,708.89 1288.68,707.06 1289.13,708.5 1289.56,709.42 1290.03,709.54 1290.48,711.33 1290.96,710.66 1291.4,712.64 1291.86,710.97 1292.32,710.9 1292.78,713.04 1293.22,712.07 1293.68,713.09 1294.14,712.38 1294.59,710.74 1295.06,711.97 1295.51,712.21 1295.96,711.52 1296.42,713.56 1296.86,706.98 1297.34,710.73 1297.77,710.05 1298.23,711.06 1298.69,708.1 1299.13,708.87 1299.59,707.04 1300.05,705.39 1300.49,705.84 1300.96,709.79 1301.43,704.35 1301.86,707.18 1302.32,703.52 1302.78,707.16 1303.24,706.73 1303.7,705.7 1304.13,704.33 1304.59,705.23 1305.05,705.78 1305.52,704.58 1305.95,701.57 1306.41,706.59 1306.87,705.54 1307.32,705.33 1307.79,704.72 1308.23,699.56 1308.69,705.57 1309.14,705.44 1309.6,707.33 1310.05,707.18 1310.52,705.61 1310.97,708.5 1311.42,707.67 1311.87,708.79 1312.33,708.29 1312.78,709.87 1313.24,710.38 1313.69,710.29 1314.14,712.48 1314.6,711.89 1315.06,711.05 1315.51,709.69 1315.97,710.25 1316.42,711.08 1316.88,711.27 1317.33,709.84 1317.79,709.33 1318.24,712.17 1318.7,711.48 1319.15,711.58 1319.61,708.26 1320.06,708.27 1320.52,711.63 1320.97,712.79 1321.42,712.63 1321.88,711.33 1322.34,711.4 1322.79,707.19 1323.25,711.06 1323.7,710.1 1324.15,704.65 1324.61,710.54 1325.07,709.9 1325.52,706.56 1325.97,705.09 1326.43,709.32 1326.88,706.84 1327.34,704.03 1327.8,704.52 1328.25,706.51 1328.71,704.52 1329.16,708.12 1329.62,703.67 1330.07,706.41 1330.52,707.07 1330.98,705.41 1331.43,706.29 1331.89,704.2 1332.35,708.1 1332.8,706.04 1333.25,704.81 1333.71,706.44 1334.17,709.02 1334.62,707.04 1335.07,704.99 1335.53,706.48 1335.98,710.85 1336.44,708.68 1336.89,707.68 1337.35,709.99 1337.8,710.69 1338.26,711.21 1338.71,709.6 1339.17,711.07 1339.62,711.24 1340.08,711.33 1340.53,711.59 1340.99,711.31 1341.44,711.29 1341.9,708.69 1342.35,709.16 1342.81,712.88 1343.25,710.15 1343.71,708.94 1344.17,711.11 1344.63,713.33 1345.08,712.97 1345.54,708.34 1345.99,708.31 1346.44,705.89 1346.9,708.54 1347.35,708.54 1347.82,705.35 1348.27,703.32 1348.72,704.04 1349.18,705.64 1349.63,702.43 1350.09,706.74 1350.55,704.87 1351,703.75 1351.45,704.84 1351.9,703.39 1352.35,706.41 1352.82,704.75 1353.27,706.38 1353.73,708.56 1354.18,705.47 1354.64,706.33 1355.09,702.27 1355.55,708.18 1356,708.16 1356.46,708.42 1356.91,706.97 1357.37,707.49 1357.82,704.27 1358.28,709.42 1358.73,708.34 1359.19,710.22 1359.64,710.52 1360.09,710.86 1360.55,708.77 1361,712.16 1361.46,711.73 1361.91,710.02 1362.37,708.63 1362.82,710.03 1363.28,708.16 1363.73,711.06 1364.19,709.77 1364.65,713.52 1365.1,711.86 1365.56,708.69 1366.01,708.71 1366.46,708.69 1366.92,707.47 1367.37,710.49 1367.83,707.71 1368.28,704.11 1368.74,707.21 1369.2,703.14 1369.65,707.14 1370.1,708.22 1370.56,705.95 1371.01,703.35 1371.47,705.35 1371.92,707.14 1372.38,705.13 1372.83,701.87 1373.29,702.65 1373.74,704.54 1374.2,704.39 1374.65,705.05 1375.11,703.16 1375.56,698.78 1376.02,704.21 1376.48,707.23 1376.92,706.61 1377.38,702.15 1377.84,704.37 1378.29,704.46 1378.75,709.1 1379.2,707.09 1379.66,703.86 1380.11,705.7 1380.56,710.04 1381.02,709.29 1381.48,708.28 1381.93,705.75 1382.39,706.13 1382.84,713.85 1383.3,708.84 1383.75,707.74 1384.21,709.38 1384.66,714.63 1385.12,713.29 1385.57,711.92 1386.03,709.84 1386.48,712.41 1386.93,713.35 1387.39,710.56 1387.85,709.68 1388.3,710.54 1388.76,710.98 1389.21,708.94 1389.67,705.91 1390.12,712.69 1390.58,710.61 1391.03,707.48 1391.48,709.18 1391.94,709.62 1392.4,709.52 1392.85,706.81 1393.3,706.26 1393.76,706.28 1394.21,707.29 1394.67,701.86 1395.12,708.7 1395.58,704.73 1396.03,705.08 1396.49,703.65 1396.94,703.44 1397.4,704.83 1397.85,703.94 1398.31,704.37 1398.76,703.04 1399.22,706.2 1399.67,703.41 1400.13,705.29 1400.58,702.93 1401.04,706.16 1401.49,706.31 1401.95,706.49 1402.4,704.27 1402.87,705.98 1403.31,707.07 1403.77,709.08 1404.22,707 1404.67,708.5 1405.14,707.88 1405.59,706.65 1406.04,706.01 1406.5,706.44 1406.96,710.63 1407.4,705.61 1407.86,709.43 1408.32,707.77 1408.77,710.31 1409.23,709.87 1409.68,712.49 1410.13,711.01 1410.59,708.92 1411.04,711.85 1411.51,709.63 1411.96,711.55 1412.41,709.29 1412.87,706.44 1413.32,711.03 1413.77,708.93 1414.24,713.22 1414.69,709.2 1415.14,706.31 1415.59,707.78 1416.06,710.92 1416.51,707.67 1416.97,706.5 1417.42,706.75 1417.87,706.75 1418.32,705.13 1418.78,703.7 1419.24,702.86 1419.69,706.95 1420.14,710.02 1420.6,705.61 1421.06,706.93 1421.52,705.62 1421.96,704.78 1422.42,701.63 1422.87,704.35 1423.33,704.96 1423.78,704.36 1424.24,704.31 1424.69,705.51 1425.14,705.45 1425.61,705.28 1426.06,705.23 1426.51,706.57 1426.97,707.6 1427.43,708.11 1427.87,708.83 1428.34,710.55 1428.79,709.83 1429.24,711.27 1429.7,711.77 1430.16,708.37 1430.61,709.99 1431.06,710.23 1431.52,710.58 1431.98,709 1432.42,714.22 1432.87,706.95 1433.34,709.23 1433.79,711.11 1434.24,707.05 1434.71,709.25 1435.17,709.82 1435.62,707.93 1436.06,709.86 1436.52,705.18 1436.97,705.7 1437.43,710.43 1437.9,707.15 1438.34,706.94 1438.79,702.87 1439.26,704.45 1439.71,706.02 1440.16,702.71 1440.62,702.88 1441.07,705.83 1441.53,701.99 1441.98,703.98 1442.43,703.29 1442.89,701.67 1443.35,704.02 1443.8,704.59" fill="none" stroke="#0d0d0d" stroke-width="3.6" stroke-linejoin="round"/>
<polyline points="793.31,728.22 793.72,727.03 794.28,726.09 794.66,726.53 795.13,725.55 795.62,723.28 796.03,724.69 796.44,723.25 796.96,722.26 797.36,724.91 797.85,724.53 798.31,725.4 798.79,723.38 799.25,724.62 799.71,724.08 800.11,724.91 800.57,722.69 801.05,725.94 801.5,723.27 801.93,721.31 802.4,724.95 802.83,722.84 803.3,727.43 803.73,724.01 804.23,726.6 804.66,724.07 805.17,728.2 805.59,730.14 806.04,727.68 806.5,730.51 806.97,728.48 807.4,727.04 807.83,728.87 808.3,728.2 808.76,730.92 809.24,730.88 809.7,733.03 810.16,728.91 810.6,730.16 811.05,729.38 811.48,729.03 811.99,729.73 812.39,731.09 812.85,731 813.32,731.56 813.77,728.95 814.22,729.05 814.69,728.31 815.16,722.96 815.61,728.69 816.01,728.22 816.5,727.06 816.93,727.86 817.4,729.13 817.89,724.87 818.33,727.28 818.73,725.19 819.22,725.65 819.72,725.21 820.15,724.93 820.58,727.9 821.07,725.08 821.51,724.85 821.97,723.41 822.47,728.13 822.93,726.3 823.32,725.68 823.78,724.32 824.24,725.34 824.66,729.01 825.15,724.89 825.58,724.79 826.04,729.35 826.48,725.63 827,729.17 827.39,731.79 827.84,726.72 828.33,727.64 828.75,731.95 829.24,732.54 829.68,734.05 830.14,731.35 830.62,731.33 831.1,729.23 831.51,731 831.96,731.57 832.43,732.27 832.88,730.34 833.32,731.44 833.77,733.57 834.24,734.52 834.68,732.67 835.15,732.7 835.6,733.66 836.09,727.4 836.52,733.85 836.97,730.02 837.47,727.21 837.93,730.18 838.34,730.37 838.79,727.82 839.23,730.43 839.71,729.69 840.15,732.01 840.63,727.83 841.09,727.67 841.51,726.54 841.99,725.33 842.44,727.76 842.82,730.7 843.32,725.73 843.8,725.32 844.24,727 844.7,725.59 845.17,727.79 845.6,726.61 846.09,726.35 846.53,726.5 846.98,727.77 847.41,730.31 847.91,724.65 848.37,731.78 848.8,729.42 849.26,731.61 849.7,731.1 850.16,731.04 850.63,729.09 851.07,729.34 851.53,732.56 851.99,732.34 852.42,735.38 852.91,726.45 853.32,731.31 853.79,727.99 854.28,736.28 854.73,731.7 855.17,730.44 855.62,734.28 856.08,734.51 856.53,731.07 856.99,732.06 857.46,732.93 857.91,735.86 858.34,731.67 858.79,732.78 859.23,734.48 859.74,732.85 860.19,731.7 860.65,732.26 861.07,734.08 861.57,731.4 861.96,732.8 862.47,729.07 862.92,729.89 863.34,728.98 863.82,731.87 864.24,727.89 864.71,726.45 865.16,729.84 865.65,730.81 866.12,732.41 866.59,725.61 866.97,726.1 867.46,730.56 867.9,729.39 868.37,727.3 868.78,728.6 869.23,730.12 869.7,729.3 870.21,725.26 870.61,728.57 871.11,729.17 871.55,731.02 872.02,731.48 872.45,729.86 872.94,731.14 873.37,730.14 873.82,729.76 874.28,732.32 874.73,729.73 875.16,728.88 875.64,730.16 876.11,734.02 876.55,733.52 876.99,733.36 877.46,736.54 877.89,734.71 878.38,733.73 878.81,736.6 879.29,734.59 879.75,731.84 880.21,733.59 880.65,733.65 881.11,735.05 881.53,734.25 882.04,735.11 882.47,733.91 882.93,733.36 883.38,732.93 883.88,732.97 884.27,732.32 884.79,730.1 885.28,730.85 885.65,733.24 886.09,729.98 886.51,734.07 887.03,732.04 887.47,730.91 887.89,728.35 888.35,730.5 888.77,730 889.31,731.38 889.69,732.28 890.19,731.95 890.67,731.38 891.14,731.67 891.56,733.2 892,731.51 892.49,731.55 892.9,729.81 893.35,731.25 893.77,732.37 894.29,728.87 894.71,735.33 895.22,732.15 895.7,733.67 896.09,729.25 896.58,733.56 897.03,732.19 897.47,734.23 897.99,732.72 898.39,733.1 898.88,732.36 899.28,737.68 899.83,734.61 900.2,734.3 900.64,733.79 901.11,736.29 901.58,739.36 902.06,736.72 902.45,735.47 903.01,736.84 903.4,735.94 903.89,736.64 904.26,735.74 904.77,739.24 905.19,740.46 905.72,736.04 906.1,734.99 906.55,736.71 907.03,736.23 907.49,737.61 907.94,735.11 908.4,735.52 908.89,735.58 909.36,735.01 909.85,735.56 910.23,735.54 910.64,735.3 911.22,731.56 911.58,735.19 912.09,734.4 912.5,730.86 912.96,734 913.34,732.77 913.73,733.71 914.3,732.05 914.76,735.37 915.19,735.34 915.68,736.05 916.13,735.46 916.57,735.66 917.06,736.05 917.48,737.41 917.89,735.69 918.42,737.38 918.86,734.68 919.27,738.33 919.68,737.23 920.23,740.39 920.7,739.06 921.2,737.02 921.56,739.46 922.09,738.43 922.55,741.54 922.92,740.01 923.48,740.05 923.97,740.48 924.3,738.79 924.82,741.01 925.2,740.67 925.71,741.27 925.94,742.99 926.56,739.31 927.14,741.06 927.56,743.65 928.01,740.86 928.62,740.49 928.86,741.29 929.27,742.81 929.56,740.82 930.17,742.34 930.61,738.71 931.24,742.16 931.58,739.39 931.98,740.64 932.51,740.88 932.99,737.8 933.42,741.91 933.96,738.93 934.33,737.85 934.79,741.11 935.28,739.65 935.64,742 936.16,738.5 936.59,736.43 937.12,739.25 937.56,735.87 937.84,740.3 938.48,739.26 938.9,735.55 939.33,739.44 939.71,738.65 940.35,737.69 940.66,739.69 941.17,740.22 941.56,742.25 942.11,740.92 942.48,744.86 942.96,746.75 943.49,744.58 943.88,742.67 944.32,744.2 944.88,744.56 945.14,743.48 945.76,744.67 946.26,747.35 946.6,744.14 947.14,746.99 947.46,745.22 947.98,744.01 948.45,745.14 948.8,746.9 949.2,745.41 949.88,744.67 950.1,745.09 950.74,743.89 951.15,745.54 951.61,746.52 952.16,746.5 952.53,747.44 952.99,745.21 953.49,740.48 953.91,744.43 954.25,741.59 954.83,743.12 955.4,742.65 955.64,744.4 956.18,743.52 956.54,742.77 956.94,743.71 957.6,741.2 957.98,742.22 958.45,744.84 958.9,746.89 959.4,743.3 959.87,746.42 960.29,744.4 960.73,746.92 960.98,743.57 961.53,746.12 962.05,747.9 962.49,744.57 962.88,747.04 963.45,745.95 963.91,747.13 964.47,748.43 964.76,747.56 965.31,747.33 965.64,748.82 966.16,747.93 966.46,748.88 966.92,748.57 967.62,750.6 967.78,749.36 968.45,749.6 968.85,749.85 969.31,749.8 969.79,752.45 970.29,753.51 970.75,752.02 971.12,750.55 971.62,750.12 972,751.77 972.49,751.86 972.85,752.51 973.34,752.4 973.77,753.29 974.32,751.22 974.95,755.24 975.35,750.99 975.65,751.82 976.02,752.09 976.48,751.27 976.97,749.4 977.76,754.05 977.97,757.61 978.27,754.31 978.96,750.03 979.3,752.77 980.03,752.53 980.38,754.83 980.83,753.48 981.25,753.22 981.67,752.61 982.03,754.62 982.56,753.81 983.22,755.05 983.61,755.63 983.94,755.43 984.41,755.67 984.84,755.62 985.14,756.45 985.72,754.98 986.22,754.34 986.7,757.76 987.12,759.51 987.75,758.41 988.1,758.33 988.38,760.08 988.8,758.91 989.31,759.37 989.8,760.65 990.37,761.75 990.99,762 991.13,764.21 991.47,762.29 992.04,760.95 992.59,761.87 993.11,762.7 993.44,763.56 994.1,762.34 994.45,765.05 995.02,765.18 995.4,763.49 995.88,766.41 996.32,764.57 996.59,763.54 996.81,764.17 997.74,764.05 997.88,766.53 998.39,764.32 999.04,766.94 999.61,765.91 1000,765.42 1000.27,766.18 1000.86,765.3 1001.11,765.08 1001.61,764.09 1002.3,767.45 1002.42,769.82 1002.8,765.2 1003.39,766.93 1004.02,769.75 1004.28,770.25 1004.8,770.17 1005.36,768.17 1005.51,770.58 1006.52,769.26 1006.54,768.24 1007.33,770.39 1007.4,770.93 1008.02,772.78 1008.55,770.45 1009.08,770.49 1009.55,772.6 1009.88,773.49 1010.04,775.57 1010.78,774.28 1011.17,773.52 1011.57,774.79 1012.26,779.18 1012.39,773.08 1013.3,776.2 1013.53,779.09 1013.9,777.44 1014.47,776.47 1015,777.38 1015.25,779.69 1015.85,777.66 1016.27,779.72 1016.59,779.85 1017.18,781.06 1017.5,781.63 1018.1,782.01 1018.43,781.58 1019.05,782.57 1019.54,781.77 1020.04,780.96 1020.38,782.3 1020.63,783.45 1021.15,784.2 1021.48,785.59 1022.31,782.89 1022.41,782.29 1023.21,782.54 1023.6,784.29 1023.87,781.51 1024.32,782.64 1024.78,785.19 1025.24,785.56 1025.7,783.53 1025.98,786.77 1026.91,786.34 1027.19,787.56 1027.65,788.35 1028.28,787.2 1028.5,787.88 1028.89,788.96 1029.22,787.44 1029.73,790.07 1030.38,787.88 1030.76,791.91 1031.08,791.82 1031.59,790.9 1031.87,792.49 1032.38,792.51 1033.14,794.38 1033.52,796.11 1033.89,794.9 1034.39,796.33 1035.01,798.29 1035.36,797.2 1035.85,799.16 1036.05,797.73 1036.75,799.07 1036.95,801.08 1037.64,802.25 1037.96,799.8 1038.67,801.87 1038.95,804.29 1039.12,803.69 1039.82,802.82 1040.37,804.89 1040.89,804.34 1041.4,807.18 1041.73,805.13 1042.45,805.41 1042.36,807.41 1042.99,807.78 1043.25,808.32 1043.83,807.81 1044.19,810.36 1044.71,809.84 1045.48,809.35 1045.74,815.14 1046.46,812.63 1046.74,811.89 1047.25,814.26 1047.83,812.59 1047.94,815.86 1048.46,816.82 1049.14,816.66 1049.45,817.64 1049.76,818.55 1050.85,820.49 1050.45,823.07 1051.23,816.8 1051.73,821.33 1052.09,821.31 1052.68,824.43 1053.05,823.45 1053.55,824.73 1053.99,824.56 1054.35,827.32 1054.95,827.89 1055.08,828.13 1055.83,831.15 1056.03,832.51 1056.9,831.68 1057.45,832.04 1057.48,832.46 1057.74,836.96 1058.19,834.42 1058.86,836.98 1059.34,836.67 1059.91,837.71 1060.48,838.73 1060.73,842.59 1061.09,841.44 1062.23,840.99 1062.16,842.88 1062.65,843.54 1062.92,845.82 1063.57,846.82 1063.96,850.33 1064.54,848.73 1064.86,849.75 1065.02,852.7 1065.5,855.96 1066.42,854.79 1066.83,855.85 1067.14,859.76 1067.73,857.85 1068.36,861.34 1068.32,862.49 1069.23,865.43 1069.82,866.98 1070.16,868.02 1070.26,869.59 1070.93,871.88 1071.22,873.35 1071.48,875 1072,877.6 1072.51,879.71 1072.97,883.37 1073.52,883.95 1073.68,884.52 1074.01,887.85 1074.71,888.9 1075.56,893.69 1075.81,894.21 1076.34,895.25 1076.59,896.96 1077.01,900.92 1077.59,901.33 1078.12,903.06 1078.62,906.4 1079.4,907.71 1079.71,910.73 1080.03,913.17 1079.99,916.85 1080.72,918.53 1081.21,920.46 1081.47,920.38 1082.22,923.85 1082.54,924.38 1083.04,927 1083.57,929.08 1083.82,930.57 1084.53,931.86 1084.78,937.21 1085.35,938.52 1085.88,939.76 1086.76,943.17 1086.44,944.84 1087.5,948.18 1087.66,949.17 1087.89,952.38 1088.46,951.48 1088.83,958.41 1089.65,959.36 1090.05,960.13 1090.51,961.73 1091.01,962.84 1091.03,967.04 1091.33,969.07 1092.29,971.74 1092.58,973.95 1092.89,976.62 1093.8,976.76 1094.44,979.04 1094.75,984.24 1094.83,985.52 1095.83,989.21 1096.18,988.85 1096.03,992.18 1096.81,993.63 1097.17,1000.24 1097.38,997.67 1098.19,1000.85 1098.63,1004.77 1098.66,1007.26 1098.84,1005 1099.7,1007.42 1100.23,1006.96 1100.6,1011.84 1101.18,1012.71 1101.97,1013.01 1102.23,1013.34 1102.45,1016.01 1102.77,1017.3 1103.4,1019.22 1103.84,1018.9 1104.4,1022.75 1105.05,1020.96 1105.23,1022.71 1105.84,1022.87 1106.49,1022.89 1106.8,1020.06 1107.22,1019.54 1107.42,1015.53 1107.96,1008.99 1108.97,1004.75 1109.05,995.37 1109.56,986.76 1109.85,980.41 1109.92,968.8 1110.84,958.88 1111.32,946.02 1110.91,936.16 1111.83,927.74 1112.14,923.03 1112.06,914.99 1112.81,905.15 1113.05,897.24 1113.72,886.73 1113.54,872.62 1114.73,859.45 1115.18,842.51 1115.34,827.99 1116.43,812.75 1116.63,797.15 1116.96,786.06 1117.45,775.28 1117.82,769.36 1118.18,763.47 1118.71,759.19 1119.36,763.39 1119.45,770.3 1119.87,778.2 1120.87,794.22 1120.88,817.23 1121.55,839.79 1121.71,858.77 1122.39,877.63 1122.7,892.11 1123.16,904.53 1123.76,913.02 1124.3,919.41 1124.63,928.2 1125.48,937.6 1125.67,950.3 1125.95,965.46 1127.24,977.45 1127.75,988.42 1128.31,996.39 1128.42,1007.11 1128.64,1011.7 1129.11,1016.42 1129.52,1021.75 1130.6,1022.33 1130.59,1025.29 1131.47,1025.02 1131.78,1022.11 1132.35,1021.67 1132.31,1020.36 1133.02,1017.46 1133.8,1013.72 1133.85,1013.65 1134.82,1008.54 1135.05,1005 1135.38,1001.76 1136.14,999.69 1136.27,995.1 1136.82,992.88 1137.31,985.32 1137.37,982.36 1138.2,978.83 1138.82,974.22 1139.26,968.74 1139.84,965 1140.02,961.32 1140.2,957.25 1141.25,953.5 1140.92,949.33 1141.9,944.52 1141.7,939.91 1142.62,939.32 1143.62,935.72 1143.23,930.39 1144.43,927.84 1144.42,924.09 1144.78,920.53 1145.36,915.39 1145.81,912.81 1146.43,908.77 1146.92,904.25 1147.35,901.32 1147.75,899.8 1148.09,896.4 1148.99,893.8 1149.3,890.32 1149.48,887.44 1150.02,884.65 1150.51,880.25 1151.24,877.75 1151.37,878.27 1151.82,873.42 1152.37,871.66 1152.77,867.07 1152.97,865.08 1153.34,863.91 1154.23,860.19 1154.59,857.92 1155.01,855.82 1155.37,852.33 1155.71,848.56 1156.27,846.08 1156.59,843.76 1157.04,841.3 1157.61,838.26 1158.27,837.02 1158.46,835.39 1159.19,835.88 1159.7,830.97 1159.99,829.93 1160.3,827.58 1161,825.6 1161.46,822.44 1162.22,822.45 1162.24,819.39 1162.89,819.43 1163.4,816.65 1163.95,813 1163.7,813.78 1164.6,809.65 1164.94,807.41 1165.32,810.14 1165.38,806.88 1166.16,805.82 1166.7,802.64 1167.38,801.09 1167.52,799.01 1168.25,798.04 1168.34,796.56 1169.05,794.08 1169.6,796.13 1169.83,792.14 1170.31,793.11 1170.91,789.52 1171.68,789.87 1171.8,787.4 1172.01,786.77 1172.71,785.99 1173.33,784.47 1173.92,783.96 1174.14,782.7 1174.59,780.92 1175.03,780.97 1175.53,780.06 1175.97,780.01 1176.28,777.75 1176.96,775.67 1177.13,775.46 1177.37,775.24 1178.05,774.14 1178.5,774.41 1179.14,774.49 1179.35,772.22 1179.51,771.33 1180.19,770.62 1180.8,768.56 1181.15,768.03 1181.61,768.08 1182.39,766.95 1182.59,763.19 1183.33,764.06 1183.74,762.99 1184.2,762.59 1184.51,763.38 1184.89,762.48 1185.6,758.83 1185.81,760.93 1186.42,757.6 1186.83,758.59 1187.16,757.13 1187.33,756 1188.18,754.34 1188.72,755.86 1188.99,754.88 1189.74,751.45 1189.94,754.53 1190.34,752.07 1191.02,752.45 1191.16,750.17 1191.89,750.57 1192.59,750 1192.82,745.84 1193.14,751.01 1193.76,749.33 1194.26,748.01 1194.54,750.22 1195.04,749.39 1195.56,748.78 1196.07,745.36 1196.31,749.13 1196.84,746.68 1197.46,747.96 1197.76,744.31 1198.16,744.99 1198.92,743.67 1198.93,743.63 1199.52,742.76 1200.11,742.29 1200.61,744.37 1200.79,742.5 1201.38,741.89 1201.88,739.16 1202.18,741.53 1202.77,739.29 1203.18,741.67 1203.53,739.37 1203.9,740.04 1204.56,738.46 1205.07,737.09 1205.35,735.96 1205.81,738.45 1206.22,736.74 1206.57,734.57 1207.25,735.89 1207.76,736.49 1208.31,734.7 1208.48,735.12 1209.18,732.94 1209.57,730.41 1209.94,730.81 1210.52,731.68 1210.87,731.99 1211.53,732.51 1211.79,733.57 1212.36,730.5 1213.03,730.24 1213.22,730.93 1213.66,729.74 1214.17,728.67 1214.52,728.97 1215.01,730.83 1215.58,728.2 1215.82,725.76 1216.52,730.09 1216.76,727.53 1217.15,729.36 1217.95,726.68 1218.06,724.47 1218.6,726.44 1219.18,725.01 1219.57,727.15 1220.18,726.97 1220.49,726.02 1220.91,728.88 1221.38,724.68 1221.83,724.34 1222.39,726.34 1222.72,726.98 1223.31,726.08 1223.7,724.74 1224.08,727.13 1224.66,722.49 1224.84,723.44 1225.53,724.6 1225.89,722.16 1226.33,724.58 1226.68,723.71 1227.34,723.81 1227.98,723.9 1228.23,724.12 1228.68,723.21 1228.99,722.62 1229.72,719.28 1230.08,721.43 1230.46,720.1 1231.06,720.05 1231.42,716.81 1231.77,718.39 1232.34,719.09 1232.74,721.21 1233.37,717.14 1233.62,715.91 1234.18,718.2 1234.55,720.34 1235.04,718.4 1235.42,716.49 1235.91,717.05 1236.28,715.08 1236.84,716.29 1237.33,715.24 1237.81,718.52 1238.23,714.02 1238.76,715.94 1239.05,715.72 1239.55,714.77 1239.97,715.18 1240.35,718.35 1240.89,712.77 1241.23,715.18 1241.82,716.4 1242.35,713.62 1242.79,713.38 1243.08,712.66 1243.81,718.45 1244.19,716.45 1244.51,714.72 1244.92,715.07 1245.51,715.5 1245.96,716.72 1246.36,714.9 1246.82,717.37 1247.32,717.41 1247.8,718.48 1248.33,717 1248.61,717.26 1249.09,716.71 1249.6,717.7 1250.03,716.58 1250.29,715.06 1250.97,714.17 1251.51,713.98 1251.93,714.74 1252.41,713 1252.79,713.89 1253.27,712.52 1253.6,713.35 1254.06,712.85 1254.55,712.93 1254.9,713.96 1255.52,711.62 1255.92,708.23 1256.42,711.98 1256.87,710.83 1257.34,710.8 1257.81,710.06 1258.2,708.82 1258.64,707.37 1259.08,710.12 1259.6,710.44 1260.02,706.16 1260.43,707.91 1260.94,705.48 1261.42,705.82 1261.89,710.17 1262.28,708.38 1262.73,711.13 1263.23,706.3 1263.69,709.24 1264.11,710.57 1264.61,710.67 1265.02,712.75 1265.53,710.24 1266.01,710.65 1266.37,711.05 1266.89,711.83 1267.33,711.37 1267.75,711.12 1268.23,711.06 1268.72,712.83 1269.18,711.28 1269.59,710.84 1270.05,714.04 1270.57,712.17 1270.98,712.15 1271.42,713.25 1271.89,711.93 1272.35,711.21 1272.77,714.33 1273.2,714.61 1273.65,710.95 1274.17,712.03 1274.58,713.07 1275.02,714.05 1275.47,712.97 1276.01,712.68 1276.47,710.24 1276.88,711.05 1277.36,712.26 1277.81,707.98 1278.21,711 1278.72,709.57 1279.16,707.91 1279.61,709.77 1280.06,708.83 1280.49,706.58 1281,706.96 1281.44,705.54 1281.87,706.27 1282.33,704.47 1282.77,703.78 1283.27,707.72 1283.71,703.55 1284.17,703.99 1284.62,704.82 1285.08,710.42 1285.54,704.12 1286.01,706.13 1286.44,705.81 1286.88,708.79 1287.32,706.13 1287.81,709.85 1288.26,707.81 1288.74,710.52 1289.17,709.12 1289.6,708.89 1290.08,707.06 1290.52,708.5 1290.99,709.42 1291.42,709.54 1291.89,711.33 1292.35,710.66 1292.79,712.64 1293.24,710.97 1293.72,710.9 1294.15,713.04 1294.6,712.07 1295.06,713.09 1295.53,712.38 1295.99,710.74 1296.44,711.97 1296.9,712.21 1297.35,711.52 1297.81,713.56 1298.26,706.98 1298.72,710.73 1299.19,710.05 1299.63,711.06 1300.08,708.1 1300.54,708.87 1301,707.04 1301.44,705.39 1301.89,705.84 1302.36,709.79 1302.8,704.35 1303.27,707.18 1303.72,703.52 1304.17,707.16 1304.62,706.73 1305.07,705.7 1305.53,704.33 1305.98,705.23 1306.44,705.78 1306.9,704.58 1307.36,701.57 1307.81,706.59 1308.27,705.54 1308.72,705.33 1309.18,704.72 1309.63,699.56 1310.09,705.57 1310.54,705.44 1311,707.33 1311.45,707.18 1311.91,705.61 1312.37,708.5 1312.82,707.67 1313.27,708.79 1313.73,708.29 1314.19,709.87 1314.64,710.38 1315.09,710.29 1315.55,712.48 1316,711.89 1316.46,711.05 1316.92,709.69 1317.38,710.25 1317.82,711.08 1318.27,711.27 1318.73,709.84 1319.19,709.33 1319.64,712.17 1320.1,711.48 1320.55,711.58 1321,708.26 1321.46,708.27 1321.92,711.63 1322.37,712.79 1322.83,712.63 1323.28,711.33 1323.73,711.4 1324.19,707.19 1324.65,711.06 1325.11,710.1 1325.56,704.65 1326.01,710.54 1326.47,709.9 1326.92,706.56 1327.38,705.09 1327.83,709.32 1328.29,706.84 1328.74,704.03 1329.2,704.52 1329.65,706.51 1330.1,704.52 1330.56,708.12 1331.02,703.67 1331.47,706.41 1331.92,707.07 1332.38,705.41 1332.83,706.29 1333.29,704.2 1333.75,708.1 1334.2,706.04 1334.65,704.81 1335.11,706.44 1335.57,709.02 1336.02,707.04 1336.47,704.99 1336.93,706.48 1337.39,710.85 1337.84,708.68 1338.29,707.68 1338.75,709.99 1339.2,710.69 1339.66,711.21 1340.11,709.6 1340.56,711.07 1341.02,711.24 1341.48,711.33 1341.94,711.59 1342.39,711.31 1342.85,711.29 1343.3,708.69 1343.75,709.16 1344.2,712.88 1344.66,710.15 1345.12,708.94 1345.57,711.11 1346.03,713.33 1346.48,712.97 1346.94,708.34 1347.4,708.31 1347.84,705.89 1348.3,708.54 1348.76,708.54 1349.21,705.35 1349.68,703.32 1350.12,704.04 1350.58,705.64 1351.04,702.43 1351.49,706.74 1351.94,704.87 1352.4,703.75 1352.85,704.84 1353.31,703.39 1353.76,706.41 1354.21,704.75 1354.67,706.38 1355.13,708.56 1355.58,705.47 1356.04,706.33 1356.49,702.27 1356.94,708.18 1357.4,708.16 1357.85,708.42 1358.31,706.97 1358.77,707.49 1359.22,704.27 1359.67,709.42 1360.13,708.34 1360.58,710.22 1361.04,710.52 1361.5,710.86 1361.95,708.77 1362.4,712.16 1362.86,711.73 1363.32,710.02 1363.77,708.63 1364.22,710.03 1364.68,708.16 1365.14,711.06 1365.59,709.77 1366.04,713.52 1366.5,711.86 1366.95,708.69 1367.41,708.71 1367.87,708.69 1368.32,707.47 1368.78,710.49 1369.23,707.71 1369.68,704.11 1370.14,707.21 1370.6,703.14 1371.05,707.14 1371.51,708.22 1371.95,705.95 1372.42,703.35 1372.87,705.35 1373.32,707.14 1373.78,705.13 1374.23,701.87 1374.69,702.65 1375.14,704.54 1375.59,704.39 1376.05,705.05 1376.51,703.16 1376.96,698.78 1377.41,704.21 1377.87,707.23 1378.33,706.61 1378.78,702.15 1379.24,704.37 1379.69,704.46 1380.15,709.1 1380.6,707.09 1381.05,703.86 1381.51,705.7 1381.97,710.04 1382.42,709.29 1382.88,708.28 1383.33,705.75 1383.79,706.13 1384.24,713.85 1384.69,708.84 1385.15,707.74 1385.61,709.38 1386.06,714.63 1386.52,713.29 1386.97,711.92 1387.43,709.84 1387.89,712.41 1388.33,713.35 1388.79,710.56 1389.25,709.68 1389.7,710.54 1390.15,710.98 1390.61,708.94 1391.06,705.91 1391.52,712.69 1391.97,710.61 1392.43,707.48 1392.88,709.18 1393.34,709.62 1393.79,709.52 1394.25,706.81 1394.7,706.26 1395.15,706.28 1395.61,707.29 1396.07,701.86 1396.52,708.7 1396.98,704.73 1397.43,705.08 1397.89,703.65 1398.34,703.44 1398.8,704.83 1399.26,703.94 1399.71,704.37 1400.16,703.04 1400.62,706.2 1401.08,703.41 1401.53,705.29 1401.98,702.93 1402.44,706.16 1402.9,706.31 1403.35,706.49 1403.8,704.27 1404.26,705.98 1404.72,707.07 1405.17,709.08 1405.62,707 1406.07,708.5 1406.53,707.88 1406.99,706.65 1407.45,706.01 1407.9,706.44 1408.35,710.63 1408.8,705.61 1409.27,709.43 1409.71,707.77 1410.17,710.31 1410.63,709.87 1411.08,712.49 1411.54,711.01 1411.99,708.92 1412.44,711.85 1412.9,709.63 1413.36,711.55 1413.81,709.29 1414.27,706.44 1414.72,711.03 1415.17,708.93 1415.63,713.22 1416.09,709.2 1416.53,706.31 1417,707.78 1417.45,710.92 1417.9,707.67 1418.36,706.5 1418.81,706.75 1419.27,706.75 1419.73,705.13 1420.17,703.7 1420.63,702.86 1421.09,706.95 1421.55,710.02 1421.99,705.61 1422.45,706.93 1422.9,705.62 1423.37,704.78 1423.82,701.63 1424.28,704.35 1424.73,704.96 1425.18,704.36 1425.65,704.31 1426.1,705.51 1426.55,705.45 1426.99,705.28 1427.46,705.23 1427.91,706.57 1428.37,707.6 1428.83,708.11 1429.28,708.83 1429.73,710.55 1430.19,709.83 1430.65,711.27 1431.1,711.77 1431.54,708.37 1432.01,709.99 1432.46,710.23 1432.92,710.58 1433.37,709 1433.83,714.22 1434.28,706.95 1434.74,709.23 1435.18,711.11 1435.64,707.05 1436.1,709.25 1436.57,709.82 1437.01,707.93 1437.47,709.86 1437.92,705.18 1438.38,705.7 1438.82,710.43 1439.27,707.15 1439.74,706.94 1440.19,702.87 1440.65,704.45 1441.1,706.02 1441.56,702.71 1442.03,702.88 1442.46,705.83 1442.92,701.99 1443.38,703.98 1443.83,703.29 1444.29,701.67 1444.74,704.02 1445.19,704.59" fill="none" stroke="#0d0d0d" stroke-width="3.6" stroke-linejoin="round"/>
<polyline points="792.6,701.42 794.48,701.44 796.36,701.47 798.24,701.5 800.13,701.52 802.01,701.55 803.89,701.59 805.77,701.62 807.65,701.65 809.53,701.69 811.41,701.73 813.29,701.77 815.18,701.81 817.06,701.85 818.94,701.9 820.82,701.94 822.7,701.99 824.58,702.04 826.46,702.09 828.35,702.14 830.23,702.19 832.11,702.25 833.99,702.3 835.87,702.36 837.75,702.42 839.63,702.48 841.51,702.54 843.4,702.61 845.28,702.67 847.16,702.74 849.04,702.81 850.92,702.88 852.8,702.95 854.68,703.03 856.56,703.1 858.45,703.18 860.33,703.26 862.21,703.34 864.09,703.42 865.97,703.51 867.85,703.59 869.73,703.68 871.62,703.77 873.5,703.86 875.38,703.96 877.26,704.06 879.14,704.15 881.02,704.25 882.9,704.36 884.78,704.46 886.67,704.57 888.55,704.68 890.43,704.79 892.31,704.9 894.19,705.02 896.07,705.14 897.95,705.26 899.84,705.38 901.72,705.51 903.6,705.64 905.48,705.77 907.36,705.91 909.24,706.04 911.12,706.19 913,706.33 914.89,706.48 916.77,706.63 918.65,706.78 920.53,706.94 922.41,707.1 924.29,707.27 926.17,707.44 928.06,707.61 929.94,707.79 931.82,707.97 933.7,708.16 935.58,708.35 937.46,708.54 939.34,708.74 941.22,708.95 943.11,709.16 944.99,709.38 946.87,709.6 948.75,709.83 950.63,710.08 952.51,710.34 954.39,710.62 956.28,710.9 958.16,711.21 960.04,711.52 961.92,711.85 963.8,712.19 965.68,712.54 967.56,712.9 969.44,713.27 971.33,713.65 973.21,714.04 975.09,714.44 976.97,714.85 978.85,715.27 980.73,715.7 982.61,716.13 984.49,716.58 986.38,717.03 988.26,717.49 990.14,717.96 992.02,718.44 993.9,718.93 995.78,719.43 997.66,719.94 999.55,720.46 1001.43,721 1003.31,721.56 1005.19,722.14 1007.07,722.74 1008.95,723.37 1010.83,724.04 1012.71,724.73 1014.6,725.47 1016.48,726.25 1018.36,727.08 1020.24,727.95 1022.12,728.88 1024,729.88 1025.88,730.93 1027.77,732.07 1029.65,733.27 1031.53,734.57 1033.41,735.96 1035.29,737.44 1037.17,739.04 1039.05,740.76 1040.93,742.6 1042.82,744.58 1044.7,746.7 1046.58,748.97 1048.46,751.4 1050.34,754.02 1052.22,756.84 1054.1,759.88 1055.99,763.17 1057.87,766.72 1059.75,770.56 1061.63,774.73 1063.51,779.25 1065.39,784.17 1067.27,789.53 1069.15,795.37 1071.04,801.75 1072.92,808.71 1072.92,808.71 1073.02,809.11 1073.12,809.5 1073.22,809.9 1073.32,810.3 1073.42,810.7 1073.53,811.11 1073.63,811.51 1073.73,811.92 1073.83,812.33 1073.93,812.74 1074.03,813.15 1074.14,813.57 1074.24,813.99 1074.34,814.41 1074.44,814.83 1074.54,815.25 1074.64,815.68 1074.74,816.1 1074.85,816.53 1074.95,816.97 1075.05,817.4 1075.15,817.84 1075.25,818.27 1075.35,818.71 1075.45,819.16 1075.56,819.6 1075.66,820.05 1075.76,820.5 1075.86,820.95 1075.96,821.4 1076.06,821.86 1076.17,822.32 1076.27,822.78 1076.37,823.24 1076.47,823.7 1076.57,824.17 1076.67,824.64 1076.77,825.11 1076.88,825.58 1076.98,826.06 1077.08,826.54 1077.18,827.02 1077.28,827.5 1077.38,827.99 1077.49,828.47 1077.59,828.97 1077.69,829.46 1077.79,829.95 1077.89,830.45 1077.99,830.95 1078.09,831.45 1078.2,831.96 1078.3,832.46 1078.4,832.97 1078.5,833.49 1078.6,834 1078.7,834.52 1078.81,835.04 1078.91,835.56 1079.01,836.08 1079.11,836.61 1079.21,837.14 1079.31,837.67 1079.41,838.21 1079.52,838.75 1079.62,839.29 1079.72,839.83 1079.82,840.37 1079.92,840.92 1080.02,841.47 1080.12,842.03 1080.23,842.58 1080.33,843.14 1080.43,843.7 1080.53,844.27 1080.63,844.83 1080.73,845.4 1080.84,845.97 1080.94,846.55 1081.04,847.13 1081.14,847.71 1081.24,848.29 1081.34,848.88 1081.44,849.47 1081.55,850.06 1081.65,850.65 1081.75,851.25 1081.85,851.85 1081.95,852.45 1082.05,853.06 1082.16,853.67 1082.26,854.28 1082.36,854.89 1082.46,855.51 1082.56,856.13 1082.66,856.76 1082.76,857.38 1082.87,858.01 1082.97,858.64 1083.07,859.28 1083.17,859.92 1083.27,860.56 1083.37,861.2 1083.48,861.85 1083.58,862.5 1083.68,863.15 1083.78,863.81 1083.88,864.47 1083.98,865.13 1084.08,865.79 1084.19,866.46 1084.29,867.13 1084.39,867.81 1084.49,868.49 1084.59,869.17 1084.69,869.85 1084.79,870.54 1084.9,871.23 1085,871.92 1085.1,872.61 1085.2,873.31 1085.3,874.02 1085.4,874.72 1085.51,875.43 1085.61,876.14 1085.71,876.86 1085.81,877.57 1085.91,878.29 1086.01,879.02 1086.11,879.75 1086.22,880.48 1086.32,881.21 1086.42,881.95 1086.52,882.69 1086.62,883.43 1086.72,884.17 1086.83,884.92 1086.93,885.68 1087.03,886.43 1087.13,887.19 1087.23,887.95 1087.33,888.72 1087.43,889.49 1087.54,890.26 1087.64,891.03 1087.74,891.81 1087.84,892.59 1087.94,893.37 1088.04,894.16 1088.14,894.95 1088.25,895.74 1088.35,896.54 1088.45,897.34 1088.55,898.14 1088.65,898.95 1088.75,899.75 1088.86,900.56 1088.96,901.38 1089.06,902.2 1089.16,903.02 1089.26,903.84 1089.36,904.67 1089.46,905.5 1089.57,906.33 1089.67,907.16 1089.77,908 1089.87,908.84 1089.97,909.69 1090.07,910.54 1090.18,911.39 1090.28,912.24 1090.38,913.09 1090.48,913.95 1090.58,914.81 1090.68,915.68 1090.78,916.54 1090.89,917.41 1090.99,918.28 1091.09,919.16 1091.19,920.04 1091.29,920.92 1091.39,921.8 1091.5,922.68 1091.6,923.57 1091.7,924.46 1091.8,925.35 1091.9,926.25 1092,927.14 1092.1,928.04 1092.21,928.94 1092.31,929.85 1092.41,930.75 1092.51,931.66 1092.61,932.57 1092.71,933.48 1092.81,934.4 1092.92,935.31 1093.02,936.23 1093.12,937.15 1093.22,938.07 1093.32,938.99 1093.42,939.92 1093.53,940.84 1093.63,941.77 1093.73,942.7 1093.83,943.63 1093.93,944.56 1094.03,945.49 1094.13,946.43 1094.24,947.36 1094.34,948.3 1094.44,949.24 1094.54,950.18 1094.64,951.11 1094.74,952.05 1094.85,952.99 1094.95,953.94 1095.05,954.88 1095.15,955.82 1095.25,956.76 1095.35,957.7 1095.45,958.64 1095.56,959.59 1095.66,960.53 1095.76,961.47 1095.86,962.41 1095.96,963.35 1096.06,964.29 1096.16,965.23 1096.27,966.17 1096.37,967.11 1096.47,968.05 1096.57,968.98 1096.67,969.92 1096.77,970.85 1096.88,971.78 1096.98,972.71 1097.08,973.64 1097.18,974.56 1097.28,975.48 1097.38,976.41 1097.48,977.32 1097.59,978.24 1097.69,979.15 1097.79,980.06 1097.89,980.97 1097.99,981.87 1098.09,982.77 1098.2,983.67 1098.3,984.56 1098.4,985.45 1098.5,986.33 1098.6,987.21 1098.7,988.09 1098.8,988.96 1098.91,989.82 1099.01,990.68 1099.11,991.54 1099.21,992.39 1099.31,993.23 1099.41,994.07 1099.52,994.9 1099.62,995.72 1099.72,996.54 1099.82,997.35 1099.92,998.15 1100.02,998.94 1100.12,999.73 1100.23,1000.51 1100.33,1001.28 1100.43,1002.04 1100.53,1002.79 1100.63,1003.53 1100.73,1004.26 1100.83,1004.99 1100.94,1005.7 1101.04,1006.4 1101.14,1007.1 1101.24,1007.78 1101.34,1008.45 1101.44,1009.1 1101.55,1009.75 1101.65,1010.38 1101.75,1011 1101.85,1011.61 1101.95,1012.2 1102.05,1012.78 1102.15,1013.35 1102.26,1013.9 1102.36,1014.43 1102.46,1014.95 1102.56,1015.46 1102.66,1015.95 1102.76,1016.42 1102.87,1016.87 1102.97,1017.31 1103.07,1017.73 1103.17,1018.13 1103.27,1018.52 1103.37,1018.88 1103.47,1019.22 1103.58,1019.55 1103.68,1019.85 1103.78,1020.13 1103.88,1020.4 1103.98,1020.64 1104.08,1020.85 1104.18,1021.05 1104.29,1021.22 1104.39,1021.37 1104.49,1021.49 1104.59,1021.59 1104.69,1021.66 1104.79,1021.71 1104.9,1021.73 1105,1021.73 1105.1,1021.69 1105.2,1021.63 1105.3,1021.53 1105.4,1021.4 1105.5,1021.24 1105.61,1021.03 1105.71,1020.79 1105.81,1020.51 1105.91,1020.18 1106.01,1019.81 1106.11,1019.39 1106.22,1018.93 1106.32,1018.41 1106.42,1017.85 1106.52,1017.23 1106.62,1016.56 1106.72,1015.83 1106.82,1015.04 1106.93,1014.2 1107.03,1013.3 1107.13,1012.33 1107.23,1011.31 1107.33,1010.22 1107.43,1009.07 1107.54,1007.86 1107.64,1006.58 1107.74,1005.24 1107.84,1003.84 1107.94,1002.37 1108.04,1000.83 1108.14,999.24 1108.25,997.58 1108.35,995.85 1108.45,994.07 1108.55,992.22 1108.65,990.32 1108.75,988.35 1108.85,986.33 1108.96,984.26 1109.06,982.13 1109.16,979.96 1109.26,977.73 1109.36,975.46 1109.46,973.15 1109.57,970.8 1109.67,968.41 1109.77,965.99 1109.87,963.54 1109.97,961.06 1110.07,958.57 1110.17,956.05 1110.28,953.53 1110.38,951.04 1110.48,948.63 1110.58,946.3 1110.68,944.05 1110.78,941.88 1110.89,939.78 1110.99,937.76 1111.09,935.81 1111.19,933.92 1111.29,932.09 1111.39,930.32 1111.49,928.59 1111.6,926.92 1111.7,925.28 1111.8,923.67 1111.9,922.08 1112,920.52 1112.1,918.96 1112.21,917.41 1112.31,915.86 1112.41,914.29 1112.51,912.7 1112.61,911.08 1112.71,909.42 1112.81,907.72 1112.92,905.96 1113.02,904.14 1113.12,902.25 1113.22,900.27 1113.32,898.2 1113.42,896.02 1113.52,893.74 1113.63,891.33 1113.73,888.79 1113.83,886.11 1113.93,883.28 1114.03,880.28 1114.13,877.12 1114.24,873.77 1114.34,870.3 1114.44,866.82 1114.54,863.33 1114.64,859.83 1114.74,856.33 1114.84,852.83 1114.95,849.33 1115.05,845.84 1115.15,842.36 1115.25,838.9 1115.35,835.45 1115.45,832.02 1115.56,828.62 1115.66,825.25 1115.76,821.92 1115.86,818.62 1115.96,815.37 1116.06,812.17 1116.16,809.02 1116.27,805.92 1116.37,802.89 1116.47,799.93 1116.57,797.04 1116.67,794.22 1116.77,791.49 1116.87,788.84 1116.98,786.29 1117.08,783.83 1117.18,781.48 1117.28,779.23 1117.38,777.09 1117.48,775.06 1117.59,773.16 1117.69,771.38 1117.79,769.72 1117.89,768.2 1117.99,766.82 1118.09,765.57 1118.19,764.47 1118.3,763.51 1118.4,762.7 1118.5,762.04 1118.6,761.54 1118.7,761.19 1118.8,760.99 1118.91,760.96 1119.01,761.09 1119.11,761.42 1119.21,761.95 1119.31,762.71 1119.41,763.73 1119.51,765 1119.62,766.56 1119.72,768.4 1119.82,770.53 1119.92,772.96 1120.02,775.68 1120.12,778.68 1120.23,781.97 1120.33,785.53 1120.43,789.34 1120.53,793.38 1120.63,797.64 1120.73,802.09 1120.83,806.7 1120.94,811.44 1121.04,816.3 1121.14,821.23 1121.24,826.21 1121.34,831.22 1121.44,836.22 1121.54,841.18 1121.65,846.09 1121.75,850.9 1121.85,855.61 1121.95,860.19 1122.05,864.62 1122.15,868.88 1122.26,872.95 1122.36,876.81 1122.46,880.44 1122.56,883.85 1122.66,887.05 1122.76,890.05 1122.86,892.88 1122.97,895.55 1123.07,898.07 1123.17,900.45 1123.27,902.71 1123.37,904.87 1123.47,906.93 1123.58,908.92 1123.68,910.84 1123.78,912.71 1123.88,914.54 1123.98,916.35 1124.08,918.14 1124.18,919.93 1124.29,921.73 1124.39,923.55 1124.49,925.4 1124.59,927.3 1124.69,929.25 1124.79,931.25 1124.89,933.33 1125,935.49 1125.1,937.73 1125.2,940.07 1125.3,942.5 1125.4,945.03 1125.5,947.67 1125.61,950.41 1125.71,953.26 1125.81,956.18 1125.91,959.1 1126.01,962.01 1126.11,964.9 1126.21,967.76 1126.32,970.59 1126.42,973.38 1126.52,976.12 1126.62,978.81 1126.72,981.44 1126.82,984 1126.93,986.5 1127.03,988.92 1127.13,991.26 1127.23,993.53 1127.33,995.71 1127.43,997.8 1127.53,999.8 1127.64,1001.72 1127.74,1003.54 1127.84,1005.27 1127.94,1006.91 1128.04,1008.46 1128.14,1009.92 1128.25,1011.28 1128.35,1012.56 1128.45,1013.75 1128.55,1014.85 1128.65,1015.87 1128.75,1016.8 1128.85,1017.65 1128.96,1018.43 1129.06,1019.13 1129.16,1019.76 1129.26,1020.32 1129.36,1020.82 1129.46,1021.25 1129.56,1021.62 1129.67,1021.93 1129.77,1022.19 1129.87,1022.4 1129.97,1022.56 1130.07,1022.68 1130.17,1022.76 1130.28,1022.8 1130.38,1022.81 1130.48,1022.78 1130.58,1022.73 1130.68,1022.64 1130.78,1022.53 1130.88,1022.38 1130.99,1022.21 1131.09,1022.01 1131.19,1021.79 1131.29,1021.54 1131.39,1021.26 1131.49,1020.96 1131.6,1020.64 1131.7,1020.29 1131.8,1019.92 1131.9,1019.53 1132,1019.11 1132.1,1018.68 1132.2,1018.23 1132.31,1017.75 1132.41,1017.26 1132.51,1016.75 1132.61,1016.22 1132.71,1015.68 1132.81,1015.12 1132.92,1014.54 1133.02,1013.95 1133.12,1013.34 1133.22,1012.71 1133.32,1012.08 1133.42,1011.42 1133.52,1010.76 1133.63,1010.08 1133.73,1009.39 1133.83,1008.69 1133.93,1007.97 1134.03,1007.25 1134.13,1006.51 1134.23,1005.77 1134.34,1005.01 1134.44,1004.24 1134.54,1003.47 1134.64,1002.68 1134.74,1001.89 1134.84,1001.09 1134.95,1000.28 1135.05,999.46 1135.15,998.63 1135.25,997.8 1135.35,996.96 1135.45,996.12 1135.55,995.26 1135.66,994.41 1135.76,993.54 1135.86,992.67 1135.96,991.8 1136.06,990.92 1136.16,990.04 1136.27,989.15 1136.37,988.25 1136.47,987.36 1136.57,986.46 1136.67,985.55 1136.77,984.65 1136.87,983.74 1136.98,982.82 1137.08,981.91 1137.18,980.99 1137.28,980.07 1137.38,979.14 1137.48,978.22 1137.58,977.29 1137.69,976.36 1137.79,975.43 1137.89,974.5 1137.99,973.56 1138.09,972.63 1138.19,971.69 1138.3,970.76 1138.4,969.82 1138.5,968.88 1138.6,967.94 1138.7,967.01 1138.8,966.07 1138.9,965.13 1139.01,964.19 1139.11,963.25 1139.21,962.31 1139.31,961.37 1139.41,960.44 1139.51,959.5 1139.62,958.56 1139.72,957.63 1139.82,956.69 1139.92,955.76 1140.02,954.83 1140.12,953.9 1140.22,952.97 1140.33,952.04 1140.43,951.11 1140.53,950.18 1140.63,949.26 1140.73,948.34 1140.83,947.42 1140.94,946.5 1141.04,945.58 1141.14,944.66 1141.24,943.75 1141.34,942.83 1141.44,941.92 1141.54,941.02 1141.65,940.11 1141.75,939.21 1141.85,938.3 1141.95,937.4 1142.05,936.51 1142.15,935.61 1142.25,934.72 1142.36,933.83 1142.46,932.94 1142.56,932.06 1142.66,931.17 1142.76,930.29 1142.86,929.42 1142.97,928.54 1143.07,927.67 1143.17,926.8 1143.27,925.93 1143.37,925.07 1143.47,924.21 1143.57,923.35 1143.68,922.49 1143.78,921.64 1143.88,920.79 1143.98,919.94 1144.08,919.1 1144.18,918.26 1144.29,917.42 1144.39,916.58 1144.49,915.75 1144.59,914.92 1144.69,914.09 1144.79,913.27 1144.89,912.45 1145,911.63 1145.1,910.82 1145.2,910.01 1145.3,909.2 1145.4,908.39 1145.5,907.59 1145.6,906.79 1145.71,906 1145.81,905.2 1145.91,904.41 1146.01,903.63 1146.11,902.84 1146.21,902.06 1146.32,901.29 1146.42,900.51 1146.52,899.74 1146.62,898.97 1146.72,898.21 1146.82,897.45 1146.92,896.69 1147.03,895.94 1147.13,895.18 1147.23,894.44 1147.33,893.69 1147.43,892.95 1147.53,892.21 1147.64,891.47 1147.74,890.74 1147.84,890.01 1147.94,889.28 1148.04,888.56 1148.14,887.84 1148.24,887.12 1148.35,886.41 1148.45,885.7 1148.55,884.99 1148.65,884.29 1148.75,883.59 1148.85,882.89 1148.96,882.19 1149.06,881.5 1149.16,880.81 1149.26,880.13 1149.36,879.44 1149.46,878.76 1149.56,878.09 1149.67,877.41 1149.77,876.74 1149.87,876.07 1149.97,875.41 1150.07,874.75 1150.17,874.09 1150.27,873.43 1150.38,872.78 1150.48,872.13 1150.58,871.49 1150.68,870.84 1150.78,870.2 1150.88,869.56 1150.99,868.93 1151.09,868.3 1151.19,867.67 1151.29,867.04 1151.39,866.42 1151.49,865.8 1151.59,865.18 1151.7,864.57 1151.8,863.96 1151.9,863.35 1152,862.74 1152.1,862.14 1152.2,861.54 1152.31,860.94 1152.41,860.35 1152.51,859.76 1152.61,859.17 1152.71,858.58 1152.81,858 1152.91,857.42 1153.02,856.84 1153.12,856.26 1153.22,855.69 1153.32,855.12 1153.42,854.55 1153.52,853.99 1153.62,853.43 1153.73,852.87 1153.83,852.31 1153.93,851.76 1154.03,851.21 1154.13,850.66 1154.23,850.11 1154.34,849.57 1154.44,849.03 1154.54,848.49 1154.64,847.96 1154.74,847.42 1154.84,846.89 1154.94,846.36 1155.05,845.84 1155.15,845.32 1155.25,844.8 1155.35,844.28 1155.45,843.76 1155.55,843.25 1155.66,842.74 1155.76,842.23 1155.86,841.72 1155.96,841.22 1156.06,840.72 1156.16,840.22 1156.26,839.72 1156.37,839.23 1156.47,838.74 1156.57,838.25 1156.67,837.76 1156.77,837.28 1156.87,836.8 1156.98,836.32 1157.08,835.84 1157.18,835.36 1157.28,834.89 1157.38,834.42 1157.48,833.95 1157.58,833.48 1157.69,833.02 1157.79,832.56 1157.89,832.1 1157.99,831.64 1158.09,831.19 1158.19,830.73 1158.29,830.28 1158.4,829.83 1158.5,829.39 1158.6,828.94 1158.7,828.5 1158.8,828.06 1158.9,827.62 1159.01,827.18 1159.11,826.75 1159.21,826.32 1159.31,825.89 1159.41,825.46 1159.51,825.03 1159.61,824.61 1159.72,824.19 1159.82,823.77 1159.92,823.35 1160.02,822.93 1160.12,822.52 1160.22,822.1 1160.33,821.69 1160.43,821.29 1160.53,820.88 1160.63,820.47 1160.73,820.07 1160.83,819.67 1160.93,819.27 1161.04,818.88 1161.14,818.48 1161.24,818.09 1161.34,817.7 1161.44,817.31 1161.54,816.92 1161.65,816.53 1161.75,816.15 1161.85,815.77 1161.95,815.38 1162.05,815.01 1162.15,814.63 1162.25,814.25 1162.36,813.88 1162.46,813.51 1162.56,813.14 1162.66,812.77 1162.76,812.4 1162.86,812.04 1162.96,811.67 1163.07,811.31 1163.17,810.95 1163.27,810.59 1163.37,810.24 1163.47,809.88 1163.57,809.53 1163.68,809.18 1163.78,808.83 1163.88,808.48 1163.98,808.13 1164.08,807.79 1164.18,807.44 1164.18,807.44 1166.06,801.35 1167.95,795.75 1169.83,790.59 1171.71,785.83 1173.59,781.44 1175.47,777.38 1177.35,773.61 1179.23,770.12 1181.11,766.88 1183,763.87 1184.88,761.06 1186.76,758.44 1188.64,755.99 1190.52,753.71 1192.4,751.56 1194.28,749.55 1196.17,747.67 1198.05,745.88 1199.93,744.17 1201.81,742.53 1203.69,740.95 1205.57,739.44 1207.45,737.98 1209.33,736.57 1211.22,735.21 1213.1,733.9 1214.98,732.64 1216.86,731.41 1218.74,730.23 1220.62,729.09 1222.5,727.98 1224.39,726.91 1226.27,725.88 1228.15,724.89 1230.03,723.93 1231.91,723.01 1233.79,722.12 1235.67,721.27 1237.55,720.46 1239.44,719.68 1241.32,718.94 1243.2,718.24 1245.08,717.57 1246.96,716.95 1248.84,716.37 1250.72,715.82 1252.61,715.32 1254.49,714.87 1256.37,714.45 1258.25,714.07 1260.13,713.7 1262.01,713.34 1263.89,712.99 1265.77,712.66 1267.66,712.34 1269.54,712.03 1271.42,711.73 1273.3,711.44 1275.18,711.16 1277.06,710.9 1278.94,710.64 1280.82,710.39 1282.71,710.14 1284.59,709.91 1286.47,709.68 1288.35,709.46 1290.23,709.25 1292.11,709.04 1293.99,708.84 1295.88,708.65 1297.76,708.46 1299.64,708.28 1301.52,708.1 1303.4,707.93 1305.28,707.76 1307.16,707.6 1309.04,707.44 1310.93,707.29 1312.81,707.14 1314.69,707 1316.57,706.86 1318.45,706.72 1320.33,706.59 1322.21,706.45 1324.1,706.33 1325.98,706.2 1327.86,706.08 1329.74,705.96 1331.62,705.85 1333.5,705.74 1335.38,705.63 1337.26,705.52 1339.15,705.41 1341.03,705.31 1342.91,705.21 1344.79,705.11 1346.67,705.01 1348.55,704.92 1350.43,704.82 1352.32,704.73 1354.2,704.64 1356.08,704.55 1357.96,704.46 1359.84,704.37 1361.72,704.29 1363.6,704.2 1365.48,704.12 1367.37,704.04 1369.25,703.96 1371.13,703.88 1373.01,703.8 1374.89,703.72 1376.77,703.65 1378.65,703.57 1380.54,703.5 1382.42,703.42 1384.3,703.35 1386.18,703.28 1388.06,703.21 1389.94,703.14 1391.82,703.07 1393.7,703 1395.59,702.93 1397.47,702.86 1399.35,702.79 1401.23,702.73 1403.11,702.66 1404.99,702.6 1406.87,702.53 1408.75,702.47 1410.64,702.41 1412.52,702.34 1414.4,702.28 1416.28,702.22 1418.16,702.16 1420.04,702.1 1421.92,702.04 1423.81,701.98 1425.69,701.92 1427.57,701.86 1429.45,701.81 1431.33,701.75 1433.21,701.69 1435.09,701.64 1436.97,701.58 1438.86,701.53 1440.74,701.47 1442.62,701.42 1444.5,701.36" fill="none" stroke="#e8141b" stroke-width="2" stroke-linejoin="round"/>
</g>
<path d="M1444.5,632 L792.6,632 L792.6,1070.6 L1444.5,1070.6" fill="none" stroke="#333" stroke-width="2.4" stroke-linecap="round" stroke-linejoin="round"/>
<line x1="1444.5" y1="632" x2="1444.5" y2="1070.6" stroke="#5a5a5a" stroke-width="2.4" stroke-linecap="round"/>
<line x1="857.79" y1="1070.6" x2="857.79" y2="1062.6" stroke="#333" stroke-width="2.2"/>
<line x1="857.79" y1="632" x2="857.79" y2="640" stroke="#333" stroke-width="2.2"/>
<line x1="988.17" y1="1070.6" x2="988.17" y2="1062.6" stroke="#333" stroke-width="2.2"/>
<line x1="988.17" y1="632" x2="988.17" y2="640" stroke="#333" stroke-width="2.2"/>
<line x1="1118.55" y1="1070.6" x2="1118.55" y2="1062.6" stroke="#333" stroke-width="2.2"/>
<line x1="1118.55" y1="632" x2="1118.55" y2="640" stroke="#333" stroke-width="2.2"/>
<line x1="1248.93" y1="1070.6" x2="1248.93" y2="1062.6" stroke="#333" stroke-width="2.2"/>
<line x1="1248.93" y1="632" x2="1248.93" y2="640" stroke="#333" stroke-width="2.2"/>
<line x1="1379.31" y1="1070.6" x2="1379.31" y2="1062.6" stroke="#333" stroke-width="2.2"/>
<line x1="1379.31" y1="632" x2="1379.31" y2="640" stroke="#333" stroke-width="2.2"/>
<line x1="792.6" y1="698.8" x2="800.6" y2="698.8" stroke="#333" stroke-width="2.2"/>
<line x1="1444.5" y1="698.8" x2="1436.5" y2="698.8" stroke="#5a5a5a" stroke-width="2.2"/>
<line x1="792.6" y1="807.9" x2="800.6" y2="807.9" stroke="#333" stroke-width="2.2"/>
<line x1="1444.5" y1="807.9" x2="1436.5" y2="807.9" stroke="#5a5a5a" stroke-width="2.2"/>
<line x1="792.6" y1="917" x2="800.6" y2="917" stroke="#333" stroke-width="2.2"/>
<line x1="1444.5" y1="917" x2="1436.5" y2="917" stroke="#5a5a5a" stroke-width="2.2"/>
<line x1="792.6" y1="1026.1" x2="800.6" y2="1026.1" stroke="#333" stroke-width="2.2"/>
<line x1="1444.5" y1="1026.1" x2="1436.5" y2="1026.1" stroke="#5a5a5a" stroke-width="2.2"/>
<line x1="260.8" y1="336.7" x2="93.8" y2="630.5" stroke="#2e2e2e" stroke-width="2.2" stroke-dasharray="2.8 4.8" stroke-linecap="round"/>
<line x1="309.9" y1="336.7" x2="95.9" y2="1062.5" stroke="#2e2e2e" stroke-width="2.2" stroke-dasharray="2.8 4.8" stroke-linecap="round"/>
<line x1="416.3" y1="219.3" x2="784.5" y2="627.3" stroke="#2e2e2e" stroke-width="2.2" stroke-dasharray="2.8 4.8" stroke-linecap="round"/>
<line x1="367.9" y1="243.5" x2="784.8" y2="1067.9" stroke="#2e2e2e" stroke-width="2.2" stroke-dasharray="2.8 4.8" stroke-linecap="round"/>
<line x1="656.6" y1="58.7" x2="785.5" y2="30.3" stroke="#2e2e2e" stroke-width="2.2" stroke-dasharray="2.8 4.8" stroke-linecap="round"/>
<line x1="656.6" y1="83.2" x2="785" y2="492.4" stroke="#2e2e2e" stroke-width="2.2" stroke-dasharray="2.8 4.8" stroke-linecap="round"/>
<text x="807" y="82.4" font-size="44" font-weight="bold">B</text>
<text x="108.5" y="675" font-size="44" font-weight="bold">C</text>
<text x="803" y="674.7" font-size="44" font-weight="bold">D</text>
<text x="160.5" y="82.9" font-size="44" font-weight="bold">A</text>
<text x="823.69" y="530.9" font-size="37"><tspan font-size="31">–</tspan><tspan dx="1.2">0.4</tspan></text>
<text x="954.07" y="530.9" font-size="37"><tspan font-size="31">–</tspan><tspan dx="1.2">0.2</tspan></text>
<text x="1118.55" y="530.9" font-size="37" text-anchor="middle">0.0</text>
<text x="1248.93" y="530.9" font-size="37" text-anchor="middle">0.2</text>
<text x="1379.31" y="530.9" font-size="37" text-anchor="middle">0.4</text>
<text x="125.82" y="1107.4" font-size="37"><tspan font-size="31">–</tspan><tspan dx="1.2">0.4</tspan></text>
<text x="256.06" y="1107.4" font-size="37"><tspan font-size="31">–</tspan><tspan dx="1.2">0.2</tspan></text>
<text x="420.4" y="1107.4" font-size="37" text-anchor="middle">0.0</text>
<text x="550.64" y="1107.4" font-size="37" text-anchor="middle">0.2</text>
<text x="680.88" y="1107.4" font-size="37" text-anchor="middle">0.4</text>
<text x="823.69" y="1107.4" font-size="37"><tspan font-size="31">–</tspan><tspan dx="1.2">0.4</tspan></text>
<text x="954.07" y="1107.4" font-size="37"><tspan font-size="31">–</tspan><tspan dx="1.2">0.2</tspan></text>
<text x="1118.55" y="1107.4" font-size="37" text-anchor="middle">0.0</text>
<text x="1248.93" y="1107.4" font-size="37" text-anchor="middle">0.2</text>
<text x="1379.31" y="1107.4" font-size="37" text-anchor="middle">0.4</text>
<text x="1455.6" y="116" font-size="37">1.0</text>
<text x="1453.6" y="374.6" font-size="37">0.5</text>
<text x="1453" y="708.8" font-size="37">1.0</text>
<text x="1453.2" y="928.5" font-size="37">0.5</text>
<text x="84" y="705.5" font-size="37" text-anchor="end">1.0</text>
<text x="83.5" y="914.8" font-size="37" text-anchor="end">0.5</text>
<text x="1095.4" y="580.4" font-size="28.5" text-anchor="middle">Frequency detuning (GHz)</text>
<text x="1095.4" y="1152.3" font-size="28.5" text-anchor="middle">Frequency detuning (GHz)</text>
<text x="385.9" y="1152.1" font-size="28.5" text-anchor="middle">Frequency detuning (GHz)</text>
<text font-size="28.5" text-anchor="middle" transform="translate(1526,275) rotate(-90)">Normalized transmission (a.u.)</text>
<text font-size="28.5" text-anchor="middle" transform="translate(1528,889) rotate(-90)">Normalized transmission (a.u.)</text>
<text font-size="28.5" text-anchor="middle" transform="translate(20.7,856) rotate(-90)">Normalized transmission (a.u.)</text>
<text font-size="32" text-anchor="middle" transform="translate(61,230.7) rotate(-90)">Frequency shift (GHz)</text>
<text x="69.5" y="36.9" font-size="29">80</text>
<text x="75.5" y="140.6" font-size="29">60</text>
<text x="81.7" y="239.7" font-size="29">40</text>
<text x="87" y="336" font-size="29">20</text>
<text x="109.5" y="427.3" font-size="29">0</text>
<text x="160" y="462.1" font-size="29">0</text>
<text x="202" y="487.6" font-size="29">10</text>
<text x="259.5" y="514.1" font-size="29">20</text>
<text x="324.8" y="542.9" font-size="29">30</text>
<text x="395.6" y="575" font-size="29">40</text>
<text x="491.7" y="567" font-size="29">0</text>
<text x="570.8" y="517.2" font-size="29">10</text>
<text x="634.3" y="474.2" font-size="29">20</text>
<text x="690.9" y="436.1" font-size="29">30</text>
<text font-size="30" transform="translate(117.5,486) rotate(25.3) skewX(6)">Pump power</text>
<text font-size="30" transform="translate(268,558.5) rotate(25.3) skewX(6)">II (m<tspan dx="2.5">W</tspan>)</text>
<text font-size="31" transform="translate(544,608) rotate(-37.5) skewX(5)">Pump power</text>
<text font-size="30" transform="translate(681,500) rotate(-36) skewX(5)">I (m<tspan dx="2.5">W</tspan>)</text>
</g></svg>
</body></html>
